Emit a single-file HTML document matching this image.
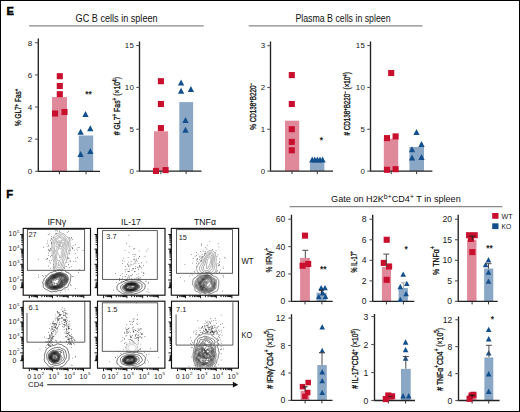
<!DOCTYPE html>
<html><head><meta charset="utf-8"><style>
html,body{margin:0;padding:0;background:#fff;font-family:"Liberation Sans",sans-serif;}
svg text{font-family:"Liberation Sans",sans-serif;}
svg{display:block;}
</style></head><body>
<svg width="520" height="412" viewBox="0 0 520 412" font-family="Liberation Sans, sans-serif">
<style>.t{paint-order:stroke;stroke:#111;stroke-width:0.22px;}.r{paint-order:stroke;stroke:#111;stroke-width:0.32px;}.b{paint-order:stroke;stroke:#000;stroke-width:0.45px;}</style>
<rect x="0" y="0" width="520" height="412" fill="#fff"/>
<rect x="0.5" y="0.5" width="519" height="411" fill="none" stroke="#000" stroke-width="1"/>
<text class="b" x="6.6" y="14.9" font-size="11.2" text-anchor="start" font-weight="bold" fill="#000" >E</text>
<text x="75.6" y="21.8" font-size="10.1" textLength="82" lengthAdjust="spacingAndGlyphs" fill="#111">GC B cells in spleen</text>
<path d="M29.2 25.9H203.7" stroke="#888" stroke-width="1.2"/>
<text x="295.4" y="21.8" font-size="10.1" textLength="95.2" lengthAdjust="spacingAndGlyphs" fill="#111">Plasma B cells in spleen</text>
<path d="M248.7 25.8H422.5" stroke="#888" stroke-width="1.2"/>
<rect x="52" y="97.10" width="15.00" height="74.20" fill="#e0899b"/>
<rect x="78.8" y="135.50" width="14.40" height="35.80" fill="#8aa8c6"/>
<path d="M38.3 38.5V171.3H100" stroke="#222" stroke-width="1.35" fill="none"/>
<path d="M35.099999999999994 171.30H38.3" stroke="#555" stroke-width="1.1"/>
<text x="32.20" y="174.14" font-size="8.1" text-anchor="end" font-weight="normal" fill="#1a1a1a" >0</text>
<path d="M35.099999999999994 139.16H38.3" stroke="#555" stroke-width="1.1"/>
<text x="32.20" y="142.00" font-size="8.1" text-anchor="end" font-weight="normal" fill="#1a1a1a" >2</text>
<path d="M35.099999999999994 107.02H38.3" stroke="#555" stroke-width="1.1"/>
<text x="32.20" y="109.86" font-size="8.1" text-anchor="end" font-weight="normal" fill="#1a1a1a" >4</text>
<path d="M35.099999999999994 74.88H38.3" stroke="#555" stroke-width="1.1"/>
<text x="32.20" y="77.72" font-size="8.1" text-anchor="end" font-weight="normal" fill="#1a1a1a" >6</text>
<path d="M35.099999999999994 42.74H38.3" stroke="#555" stroke-width="1.1"/>
<text x="32.20" y="45.58" font-size="8.1" text-anchor="end" font-weight="normal" fill="#1a1a1a" >8</text>
<path d="M59.4 171.3V174.3" stroke="#333" stroke-width="1"/>
<path d="M86 171.3V174.3" stroke="#333" stroke-width="1"/>
<rect x="56.75" y="73.15" width="6.1" height="6.1" fill="#c8102e"/>
<rect x="56.75" y="82.95" width="6.1" height="6.1" fill="#c8102e"/>
<rect x="56.75" y="91.15" width="6.1" height="6.1" fill="#c8102e"/>
<rect x="51.95" y="110.45" width="6.1" height="6.1" fill="#c8102e"/>
<rect x="61.45" y="108.95" width="6.1" height="6.1" fill="#c8102e"/>
<path d="M85.50 111.00L88.65 116.98L82.35 116.98Z" fill="#134f8c"/>
<path d="M80.60 128.71L83.75 134.69L77.45 134.69Z" fill="#134f8c"/>
<path d="M90.30 125.30L93.45 131.29L87.15 131.29Z" fill="#134f8c"/>
<path d="M80.60 151.00L83.75 156.98L77.45 156.98Z" fill="#134f8c"/>
<path d="M90.30 147.99L93.45 153.98L87.15 153.98Z" fill="#134f8c"/>
<text class="t" x="88.6" y="97.2" font-size="8.4" text-anchor="middle" font-weight="normal" fill="#111" >**</text>
<text class="r" x="0" y="0" font-size="8.37" text-anchor="middle" textLength="37.4" lengthAdjust="spacingAndGlyphs" transform="translate(20.9,107.4) rotate(-90)" fill="#111">% GL7<tspan font-size="5.69" dy="-3.01">+</tspan><tspan dy="3.01">​</tspan> Fas<tspan font-size="5.69" dy="-3.01">+</tspan><tspan dy="3.01">​</tspan></text>
<rect x="153.9" y="131.30" width="14.20" height="39.80" fill="#e0899b"/>
<rect x="179.3" y="102.10" width="13.80" height="69.00" fill="#8aa8c6"/>
<path d="M139.5 41.6V171.1H201.5" stroke="#222" stroke-width="1.35" fill="none"/>
<path d="M136.3 171.10H139.5" stroke="#555" stroke-width="1.1"/>
<text x="134.10" y="173.86" font-size="7.9" text-anchor="end" font-weight="normal" fill="#1a1a1a" letter-spacing="0.25">0</text>
<path d="M136.3 129.25H139.5" stroke="#555" stroke-width="1.1"/>
<text x="134.10" y="132.01" font-size="7.9" text-anchor="end" font-weight="normal" fill="#1a1a1a" letter-spacing="0.25">5</text>
<path d="M136.3 87.40H139.5" stroke="#555" stroke-width="1.1"/>
<text x="134.10" y="90.17" font-size="7.9" text-anchor="end" font-weight="normal" fill="#1a1a1a" letter-spacing="0.25">10</text>
<path d="M136.3 45.55H139.5" stroke="#555" stroke-width="1.1"/>
<text x="134.10" y="48.32" font-size="7.9" text-anchor="end" font-weight="normal" fill="#1a1a1a" letter-spacing="0.25">15</text>
<path d="M160.9 171.1V174.1" stroke="#333" stroke-width="1"/>
<path d="M186.1 171.1V174.1" stroke="#333" stroke-width="1"/>
<rect x="157.85" y="78.15" width="6.1" height="6.1" fill="#c8102e"/>
<rect x="157.85" y="100.95" width="6.1" height="6.1" fill="#c8102e"/>
<rect x="157.85" y="125.05" width="6.1" height="6.1" fill="#c8102e"/>
<rect x="152.95" y="167.88" width="6.1" height="6.1" fill="#c8102e"/>
<rect x="162.55" y="167.05" width="6.1" height="6.1" fill="#c8102e"/>
<path d="M181.10 79.40L184.25 85.38L177.95 85.38Z" fill="#134f8c"/>
<path d="M181.10 87.80L184.25 93.79L177.95 93.79Z" fill="#134f8c"/>
<path d="M190.90 85.90L194.05 91.89L187.75 91.89Z" fill="#134f8c"/>
<path d="M185.50 117.00L188.65 122.98L182.35 122.98Z" fill="#134f8c"/>
<path d="M185.50 126.70L188.65 132.68L182.35 132.68Z" fill="#134f8c"/>
<text class="r" x="0" y="0" font-size="9.33" text-anchor="middle" textLength="58.4" lengthAdjust="spacingAndGlyphs" transform="translate(120.4,106.1) rotate(-90)" fill="#111"># GL7<tspan font-size="6.34" dy="-3.36">+</tspan><tspan dy="3.36">​</tspan> Fas<tspan font-size="6.34" dy="-3.36">+</tspan><tspan dy="3.36">​</tspan> (×10<tspan font-size="6.34" dy="-3.36">4</tspan><tspan dy="3.36">​</tspan>)</text>
<rect x="285" y="120.69" width="14.20" height="50.41" fill="#e0899b"/>
<rect x="310" y="162.28" width="14.40" height="8.82" fill="#8aa8c6"/>
<path d="M270.5 41.6V171.1H333" stroke="#222" stroke-width="1.35" fill="none"/>
<path d="M267.3 171.10H270.5" stroke="#555" stroke-width="1.1"/>
<text x="265.30" y="173.86" font-size="7.9" text-anchor="end" font-weight="normal" fill="#1a1a1a" letter-spacing="0.25">0</text>
<path d="M267.3 129.30H270.5" stroke="#555" stroke-width="1.1"/>
<text x="265.30" y="132.06" font-size="7.9" text-anchor="end" font-weight="normal" fill="#1a1a1a" letter-spacing="0.25">1</text>
<path d="M267.3 87.50H270.5" stroke="#555" stroke-width="1.1"/>
<text x="265.30" y="90.27" font-size="7.9" text-anchor="end" font-weight="normal" fill="#1a1a1a" letter-spacing="0.25">2</text>
<path d="M267.3 45.70H270.5" stroke="#555" stroke-width="1.1"/>
<text x="265.30" y="48.47" font-size="7.9" text-anchor="end" font-weight="normal" fill="#1a1a1a" letter-spacing="0.25">3</text>
<path d="M292 171.1V174.1" stroke="#333" stroke-width="1"/>
<path d="M317.3 171.1V174.1" stroke="#333" stroke-width="1"/>
<rect x="288.75" y="72.04" width="6.1" height="6.1" fill="#c8102e"/>
<rect x="288.75" y="100.96" width="6.1" height="6.1" fill="#c8102e"/>
<rect x="288.75" y="126.17" width="6.1" height="6.1" fill="#c8102e"/>
<rect x="288.75" y="138.83" width="6.1" height="6.1" fill="#c8102e"/>
<rect x="288.75" y="147.23" width="6.1" height="6.1" fill="#c8102e"/>
<path d="M312.20 156.61L315.30 162.50L309.10 162.50Z" fill="#134f8c"/>
<path d="M314.80 156.61L317.90 162.50L311.70 162.50Z" fill="#134f8c"/>
<path d="M317.40 156.61L320.50 162.50L314.30 162.50Z" fill="#134f8c"/>
<path d="M320.00 156.61L323.10 162.50L316.90 162.50Z" fill="#134f8c"/>
<path d="M322.60 156.61L325.70 162.50L319.50 162.50Z" fill="#134f8c"/>
<text class="t" x="321.4" y="143.2" font-size="8.4" text-anchor="middle" font-weight="normal" fill="#111" >*</text>
<text class="r" x="0" y="0" font-size="8.48" text-anchor="middle" textLength="46.9" lengthAdjust="spacingAndGlyphs" transform="translate(255.6,106.3) rotate(-90)" fill="#111">% CD138<tspan font-size="5.77" dy="-3.05">+</tspan><tspan dy="3.05">​</tspan>B220<tspan font-size="5.77" dy="-3.05">−</tspan><tspan dy="3.05">​</tspan></text>
<rect x="383.8" y="138.70" width="14.40" height="32.40" fill="#e0899b"/>
<rect x="409.4" y="147.00" width="14.60" height="24.10" fill="#8aa8c6"/>
<path d="M370.5 41.6V171.1H432.4" stroke="#222" stroke-width="1.35" fill="none"/>
<path d="M367.3 171.10H370.5" stroke="#555" stroke-width="1.1"/>
<text x="365.10" y="173.86" font-size="7.9" text-anchor="end" font-weight="normal" fill="#1a1a1a" letter-spacing="0.25">0</text>
<path d="M367.3 129.25H370.5" stroke="#555" stroke-width="1.1"/>
<text x="365.10" y="132.01" font-size="7.9" text-anchor="end" font-weight="normal" fill="#1a1a1a" letter-spacing="0.25">5</text>
<path d="M367.3 87.40H370.5" stroke="#555" stroke-width="1.1"/>
<text x="365.10" y="90.17" font-size="7.9" text-anchor="end" font-weight="normal" fill="#1a1a1a" letter-spacing="0.25">10</text>
<path d="M367.3 45.55H370.5" stroke="#555" stroke-width="1.1"/>
<text x="365.10" y="48.32" font-size="7.9" text-anchor="end" font-weight="normal" fill="#1a1a1a" letter-spacing="0.25">15</text>
<path d="M391.2 171.1V174.1" stroke="#333" stroke-width="1"/>
<path d="M416.6 171.1V174.1" stroke="#333" stroke-width="1"/>
<rect x="388.15" y="69.95" width="6.1" height="6.1" fill="#c8102e"/>
<rect x="383.95" y="135.05" width="6.1" height="6.1" fill="#c8102e"/>
<rect x="392.55" y="133.35" width="6.1" height="6.1" fill="#c8102e"/>
<rect x="383.95" y="166.75" width="6.1" height="6.1" fill="#c8102e"/>
<rect x="392.55" y="166.15" width="6.1" height="6.1" fill="#c8102e"/>
<path d="M416.50 128.90L419.65 134.88L413.35 134.88Z" fill="#134f8c"/>
<path d="M421.50 141.00L424.65 146.99L418.35 146.99Z" fill="#134f8c"/>
<path d="M412.00 146.20L415.15 152.18L408.85 152.18Z" fill="#134f8c"/>
<path d="M412.00 154.60L415.15 160.59L408.85 160.59Z" fill="#134f8c"/>
<path d="M421.50 153.90L424.65 159.88L418.35 159.88Z" fill="#134f8c"/>
<text class="r" x="0" y="0" font-size="8.37" text-anchor="middle" textLength="63.4" lengthAdjust="spacingAndGlyphs" transform="translate(349.6,103.9) rotate(-90)" fill="#111"># CD138<tspan font-size="5.69" dy="-3.01">+</tspan><tspan dy="3.01">​</tspan>B220<tspan font-size="5.69" dy="-3.01">−</tspan><tspan dy="3.01">​</tspan> (×10<tspan font-size="5.69" dy="-3.01">4</tspan><tspan dy="3.01">​</tspan>)</text>
<text class="b" x="6.2" y="197.7" font-size="11.2" text-anchor="start" font-weight="bold" fill="#000" >F</text>
<text x="47.4" y="224.7" font-size="9.9" textLength="18.7" lengthAdjust="spacingAndGlyphs" fill="#111">IFN&#947;</text>
<text x="121.1" y="224.7" font-size="9.9" textLength="19.6" lengthAdjust="spacingAndGlyphs" fill="#111">IL-17</text>
<text x="194" y="224.7" font-size="9.9" textLength="21.9" lengthAdjust="spacingAndGlyphs" fill="#111">TNF&#945;</text>
<text x="241.4" y="264" font-size="9" textLength="12.1" lengthAdjust="spacingAndGlyphs" fill="#111">WT</text>
<text x="241.6" y="338.1" font-size="9" textLength="10.7" lengthAdjust="spacingAndGlyphs" fill="#111">KO</text>
<g fill="#333"><circle cx="51.4" cy="255.2" r="0.45"/><circle cx="50.7" cy="250.3" r="0.45"/><circle cx="51.5" cy="236.8" r="0.45"/><circle cx="70.7" cy="261.8" r="0.45"/><circle cx="78.0" cy="247.8" r="0.45"/><circle cx="47.5" cy="258.7" r="0.45"/><circle cx="50.1" cy="249.1" r="0.45"/><circle cx="49.7" cy="251.0" r="0.45"/><circle cx="83.1" cy="250.5" r="0.45"/><circle cx="73.1" cy="245.4" r="0.45"/><circle cx="68.8" cy="257.9" r="0.45"/><circle cx="71.5" cy="246.9" r="0.45"/><circle cx="64.1" cy="267.6" r="0.45"/><circle cx="66.8" cy="262.6" r="0.45"/><circle cx="72.4" cy="247.4" r="0.45"/><circle cx="77.0" cy="270.5" r="0.45"/><circle cx="67.8" cy="258.8" r="0.45"/><circle cx="47.5" cy="241.0" r="0.45"/><circle cx="70.8" cy="240.0" r="0.45"/><circle cx="77.4" cy="257.8" r="0.45"/><circle cx="65.0" cy="266.7" r="0.45"/><circle cx="47.2" cy="243.2" r="0.45"/><circle cx="50.5" cy="268.6" r="0.45"/><circle cx="70.2" cy="249.0" r="0.45"/><circle cx="75.3" cy="253.7" r="0.45"/><circle cx="69.9" cy="253.1" r="0.45"/><circle cx="48.7" cy="253.0" r="0.45"/><circle cx="67.8" cy="257.3" r="0.45"/><circle cx="53.6" cy="264.4" r="0.45"/><circle cx="71.5" cy="238.0" r="0.45"/><circle cx="49.3" cy="260.7" r="0.45"/><circle cx="51.7" cy="243.5" r="0.45"/><circle cx="68.8" cy="258.6" r="0.45"/><circle cx="74.4" cy="250.1" r="0.45"/><circle cx="47.6" cy="258.7" r="0.45"/><circle cx="70.1" cy="260.2" r="0.45"/><circle cx="69.3" cy="253.8" r="0.45"/><circle cx="48.2" cy="234.7" r="0.45"/><circle cx="46.2" cy="259.3" r="0.45"/><circle cx="67.1" cy="232.7" r="0.45"/><circle cx="54.7" cy="270.3" r="0.45"/><circle cx="51.2" cy="238.8" r="0.45"/><circle cx="50.3" cy="263.1" r="0.45"/><circle cx="49.2" cy="233.9" r="0.45"/><circle cx="69.1" cy="237.5" r="0.45"/><circle cx="57.7" cy="231.0" r="0.45"/><circle cx="53.0" cy="237.4" r="0.45"/><circle cx="79.1" cy="247.3" r="0.45"/><circle cx="48.0" cy="246.5" r="0.45"/><circle cx="48.6" cy="245.2" r="0.45"/><circle cx="53.7" cy="267.7" r="0.45"/><circle cx="48.8" cy="249.2" r="0.45"/><circle cx="68.5" cy="231.5" r="0.45"/><circle cx="49.8" cy="262.6" r="0.45"/><circle cx="75.3" cy="244.3" r="0.45"/><circle cx="69.0" cy="261.9" r="0.45"/><circle cx="59.3" cy="231.0" r="0.45"/><circle cx="65.0" cy="289.6" r="0.45"/><circle cx="51.3" cy="260.6" r="0.45"/><circle cx="48.2" cy="250.3" r="0.45"/><circle cx="49.4" cy="250.7" r="0.45"/><circle cx="75.9" cy="261.3" r="0.45"/><circle cx="48.4" cy="255.4" r="0.45"/><circle cx="55.9" cy="230.8" r="0.45"/><circle cx="69.9" cy="238.7" r="0.45"/><circle cx="56.1" cy="230.0" r="0.45"/><circle cx="72.6" cy="248.8" r="0.45"/><circle cx="59.6" cy="231.9" r="0.45"/><circle cx="71.5" cy="237.3" r="0.45"/><circle cx="55.9" cy="233.3" r="0.45"/><circle cx="70.0" cy="251.0" r="0.45"/><circle cx="56.4" cy="233.2" r="0.45"/><circle cx="51.4" cy="239.0" r="0.45"/><circle cx="70.0" cy="250.5" r="0.45"/><circle cx="50.3" cy="240.3" r="0.45"/><circle cx="75.5" cy="258.1" r="0.45"/><circle cx="50.7" cy="248.5" r="0.45"/><circle cx="66.5" cy="266.4" r="0.45"/><circle cx="48.5" cy="266.0" r="0.45"/><circle cx="76.8" cy="249.1" r="0.45"/><circle cx="73.6" cy="261.6" r="0.45"/><circle cx="43.7" cy="247.2" r="0.45"/><circle cx="72.8" cy="248.3" r="0.45"/><circle cx="50.3" cy="256.7" r="0.45"/><circle cx="77.3" cy="250.6" r="0.45"/><circle cx="71.2" cy="266.2" r="0.45"/><circle cx="51.7" cy="242.5" r="0.45"/><circle cx="72.4" cy="239.6" r="0.45"/><circle cx="71.1" cy="285.2" r="0.45"/><circle cx="42.2" cy="275.5" r="0.45"/><circle cx="38.2" cy="259.2" r="0.45"/><circle cx="75.4" cy="288.3" r="0.45"/><circle cx="45.3" cy="275.4" r="0.45"/><circle cx="53.4" cy="269.0" r="0.45"/><circle cx="79.7" cy="269.7" r="0.45"/><circle cx="78.4" cy="272.2" r="0.45"/><circle cx="65.3" cy="291.1" r="0.45"/><circle cx="43.3" cy="276.2" r="0.45"/><circle cx="72.6" cy="276.6" r="0.45"/><circle cx="38.5" cy="274.9" r="0.45"/><circle cx="70.4" cy="284.8" r="0.45"/><circle cx="68.3" cy="289.4" r="0.45"/><circle cx="60.5" cy="292.4" r="0.45"/><circle cx="38.5" cy="277.2" r="0.45"/><circle cx="73.1" cy="276.6" r="0.45"/><circle cx="53.9" cy="266.7" r="0.45"/><circle cx="64.5" cy="268.5" r="0.45"/><circle cx="69.1" cy="267.5" r="0.45"/><circle cx="68.6" cy="264.5" r="0.45"/></g>
<path d="M59.5 272.8L58.8 272.9L58.0 272.9L57.4 272.8L56.8 272.5L56.2 272.2L55.8 271.8L55.5 271.3L55.2 270.8L55.1 270.2L54.9 269.5L54.7 268.8L54.5 268.0L54.4 267.2L54.1 266.5L53.9 265.8L53.8 265.0L53.8 264.2L53.8 263.5L53.8 262.8L53.7 262.0L53.5 261.2L53.4 260.5L53.2 259.8L53.2 259.0L53.0 258.2L52.9 257.5L52.8 256.8L52.6 256.0L52.4 255.2L52.2 254.5L52.1 253.8L52.1 253.0L52.2 252.2L52.1 251.5L51.9 250.8L51.7 250.0L51.6 249.2L51.6 248.5L51.7 247.8L51.7 247.0L51.8 246.2L51.7 245.5L51.6 244.8L51.6 244.0L51.6 243.2L51.9 242.5L52.1 241.8L52.2 241.0L52.4 240.2L52.6 239.5L53.0 239.0L53.3 238.5L53.6 238.0L53.7 237.2L53.9 236.5L54.1 236.0L54.4 235.5L54.8 235.1L55.2 234.6L55.7 234.2L56.2 233.9L57.0 233.8L57.8 233.6L58.5 233.3L59.0 233.1L59.8 232.9L60.5 232.8L61.2 233.0L61.8 233.1L62.5 233.3L63.2 233.4L64.0 233.8L64.5 234.2L65.0 234.8L65.2 235.2L65.7 235.8L66.2 236.2L66.8 236.5L67.2 236.8L67.7 237.2L68.2 237.8L68.5 238.2L68.8 238.8L69.1 239.5L69.2 240.1L69.5 240.8L69.7 241.5L69.9 242.2L70.0 243.0L70.0 243.8L70.0 244.5L70.1 245.2L70.0 246.0L69.9 246.8L69.8 247.3L69.5 248.0L69.3 248.8L69.1 249.5L68.8 250.2L68.6 251.0L68.3 251.8L68.1 252.5L68.0 253.2L67.9 254.0L67.8 254.8L67.7 255.5L67.5 256.1L67.3 256.8L67.2 257.5L67.1 258.2L67.0 259.0L66.8 259.8L66.5 260.5L66.3 261.2L66.0 262.0L65.8 262.5L65.5 263.0L65.1 263.5L64.8 264.0L64.6 264.5L64.4 265.0L64.1 265.8L63.9 266.5L63.7 267.2L63.3 268.0L63.1 268.5L62.8 269.0L62.4 269.5L62.2 270.0L61.9 270.5L61.7 271.0L61.4 271.5L61.0 272.0L60.5 272.4L60.0 272.7ZM59.5 269.8L58.8 269.9L58.0 269.8L57.2 269.6L56.8 269.2L56.3 268.8L56.0 268.3L55.8 267.8L55.6 267.0L55.5 266.4L55.4 265.8L55.2 265.2L55.2 264.5L55.1 263.8L55.2 263.0L55.1 262.2L54.9 261.5L54.8 260.8L54.7 260.0L54.5 259.2L54.3 258.5L54.2 257.8L54.2 257.0L54.2 256.2L54.1 255.5L53.9 254.8L53.8 254.1L53.6 253.5L53.5 252.8L53.5 252.0L53.4 251.2L53.3 250.5L53.2 249.8L53.0 249.0L53.0 248.2L53.0 247.5L53.1 246.8L53.2 246.0L53.2 245.2L53.0 244.5L53.0 243.8L53.2 243.0L53.5 242.2L53.7 241.5L53.9 240.8L54.2 240.0L54.5 239.5L54.8 239.0L55.0 238.3L55.2 237.8L55.5 237.2L55.8 236.8L56.2 236.2L56.7 235.8L57.2 235.5L58.0 235.4L58.8 235.1L59.5 234.8L60.2 234.7L61.0 234.7L61.8 234.7L62.5 234.8L63.2 235.0L63.8 235.4L64.1 235.8L64.5 236.2L64.9 236.8L65.2 237.1L65.6 237.5L66.0 237.9L66.5 238.5L66.7 239.0L67.0 239.5L67.4 240.0L67.7 240.5L68.0 241.0L68.2 241.5L68.4 242.0L68.6 242.8L68.7 243.5L68.7 244.2L68.6 245.0L68.5 245.8L68.4 246.5L68.1 247.2L67.8 247.8L67.5 248.2L67.1 248.8L66.9 249.2L66.6 250.0L66.5 250.6L66.4 251.2L66.4 252.0L66.3 252.8L66.3 253.5L66.2 254.2L66.0 254.8L65.8 255.2L65.6 256.0L65.4 256.8L65.4 257.5L65.3 258.2L65.1 259.0L64.8 259.5L64.2 259.9L63.8 260.5L63.6 261.2L63.6 262.0L63.5 262.7L63.3 263.5L63.1 264.2L62.8 265.0L62.6 265.8L62.4 266.5L62.1 267.2L61.8 267.7L61.2 268.2L60.8 268.5L60.3 269.0L60.0 269.4L59.6 269.8ZM59.0 267.8L58.2 267.9L57.7 267.8L57.2 267.4L57.0 266.8L56.9 266.0L56.8 265.2L56.5 264.5L56.5 263.8L56.6 263.0L56.5 262.2L56.2 261.5L56.0 261.0L55.8 260.2L55.8 259.6L55.6 259.0L55.5 258.4L55.4 257.8L55.4 257.0L55.5 256.2L55.5 255.5L55.3 254.8L55.1 254.0L54.9 253.2L54.7 252.5L54.6 251.8L54.5 251.0L54.6 250.2L54.6 249.5L54.5 248.8L54.4 248.0L54.5 247.3L54.7 246.8L54.9 246.2L55.0 245.5L54.8 244.9L54.5 244.3L54.4 243.5L54.6 242.8L54.9 242.0L55.1 241.5L55.3 240.8L55.5 240.0L55.7 239.5L55.9 239.0L56.1 238.5L56.5 238.1L56.9 237.8L57.5 237.4L58.0 237.0L58.5 236.7L59.0 236.4L59.5 236.2L60.2 236.1L60.8 236.2L61.3 236.5L61.8 236.9L62.2 237.2L63.0 237.3L63.8 237.4L64.2 237.7L64.8 238.2L65.1 238.8L65.3 239.2L65.6 239.8L65.9 240.2L66.2 240.7L66.7 241.2L67.1 241.8L67.3 242.2L67.4 243.0L67.5 243.8L67.4 244.5L67.2 245.2L66.9 246.0L66.8 246.5L66.5 247.2L66.2 247.7L66.0 248.2L65.8 248.8L65.6 249.2L65.3 250.0L65.1 250.8L64.9 251.5L64.8 252.1L64.6 252.8L64.6 253.5L64.4 254.2L64.3 255.0L64.2 255.8L64.0 256.5L63.8 257.2L63.5 258.0L63.3 258.5L63.0 259.0L62.7 259.5L62.4 260.0L62.3 260.8L62.3 261.5L62.3 262.2L62.1 263.0L61.9 263.5L61.6 264.0L61.4 264.8L61.3 265.5L61.2 266.2L60.9 266.8L60.5 267.1L60.0 267.4L59.5 267.6ZM58.2 260.8L57.5 260.7L57.1 260.2L56.9 259.5L56.7 258.8L56.5 258.1L56.4 257.2L56.5 256.6L56.7 256.0L56.9 255.2L56.9 254.5L56.6 253.8L56.4 253.2L56.2 252.8L56.0 252.2L55.8 251.5L55.8 250.8L56.0 250.0L56.2 249.5L56.5 249.0L56.8 248.5L56.8 247.8L56.7 247.0L56.9 246.2L57.1 245.5L57.0 244.8L56.7 244.2L56.2 243.8L56.0 243.2L56.0 242.6L56.2 242.0L56.5 241.5L56.7 240.8L56.8 240.0L57.2 239.2L57.8 238.8L58.2 238.4L58.7 238.0L59.2 237.5L59.7 237.2L60.5 237.4L60.9 238.0L61.2 238.8L61.8 239.0L62.5 238.9L63.2 238.8L63.9 239.0L64.4 239.5L64.7 240.0L65.0 240.5L65.4 241.0L65.7 241.5L65.9 242.0L66.0 242.8L66.0 243.5L66.1 244.2L66.1 245.0L65.9 245.8L65.6 246.2L65.3 246.8L65.0 247.5L64.8 248.2L64.3 248.8L63.8 249.2L63.5 249.7L63.3 250.2L63.2 251.0L63.1 251.8L63.1 252.5L63.1 253.2L63.0 254.0L63.0 254.8L62.9 255.5L62.7 256.2L62.4 256.8L62.1 257.2L61.9 257.8L61.6 258.5L61.4 259.0L61.0 259.5L60.5 260.0L60.0 260.4L59.2 260.6L58.5 260.7ZM59.0 266.1L58.6 265.8L58.3 265.0L58.2 264.2L58.2 263.5L58.3 262.8L58.7 262.2L59.2 261.8L60.0 261.6L60.5 261.9L60.7 262.5L60.5 263.1L60.2 263.6L60.0 264.1L59.8 264.7L59.6 265.5L59.2 266.0ZM60.0 258.1L59.6 257.8L59.7 257.0L59.8 256.2L59.8 255.6L59.2 255.1L58.8 254.8L58.4 254.2L58.1 253.8L57.9 253.2L57.6 252.8L57.4 252.2L57.1 251.8L57.0 251.0L57.2 250.5L57.8 250.1L58.2 249.8L58.5 249.2L58.4 248.5L58.2 247.8L58.2 247.0L58.3 246.2L58.6 245.5L58.5 244.8L58.3 244.2L57.9 243.8L57.5 243.2L57.3 242.5L57.5 241.8L57.8 241.2L58.2 240.9L59.0 240.8L59.6 241.0L60.5 241.0L61.2 240.8L61.8 240.5L62.2 240.2L63.0 239.9L63.8 240.2L64.2 240.8L64.5 241.2L64.7 241.8L64.8 242.5L64.8 243.2L64.9 244.0L65.0 244.8L64.8 245.5L64.3 246.0L63.9 246.5L63.7 247.0L63.5 247.6L63.2 248.0L63.0 248.5L62.7 249.0L62.4 249.5L62.1 250.2L62.0 251.0L61.8 251.8L61.8 252.5L61.9 253.2L61.9 254.0L61.9 254.8L61.8 255.4L61.5 256.0L61.2 256.4L60.8 257.0L60.4 257.5L60.1 258.0ZM61.2 248.8L60.8 249.0L60.1 248.8L59.8 248.4L59.5 247.8L59.4 247.2L59.4 246.5L59.5 245.8L59.5 245.0L59.4 244.2L59.1 243.8L58.8 243.3L58.5 242.8L58.7 242.2L59.5 242.2L60.2 242.1L61.0 241.9L61.8 242.0L62.5 242.2L63.1 242.2L63.6 242.8L63.8 243.3L63.8 244.2L63.5 245.0L63.2 245.5L62.9 246.0L62.6 246.5L62.4 247.0L62.1 247.5L61.9 248.0L61.6 248.5ZM61.2 246.8L60.5 246.6L60.3 246.0L60.2 245.2L60.2 244.5L60.1 243.8L60.2 243.0L60.8 242.8L61.5 243.0L62.0 243.4L62.4 244.0L62.4 244.8L62.2 245.4L62.0 245.9L61.5 246.5Z" fill="none" stroke="#666" stroke-width="0.5"/>
<path d="M55.2 291.8L54.5 291.7L53.8 291.6L53.0 291.6L52.4 291.8L51.8 291.8L51.0 291.8L50.2 291.7L49.8 291.4L49.2 291.1L48.8 290.8L48.2 290.4L47.8 290.1L47.2 289.9L46.8 289.7L46.2 289.5L45.8 289.2L45.2 288.9L44.8 288.6L44.2 288.3L43.8 287.8L43.4 287.2L43.2 286.5L43.2 285.8L43.3 285.0L43.3 284.2L43.0 283.5L42.8 283.0L42.7 282.2L43.1 281.8L43.5 281.3L43.8 280.8L43.9 280.0L44.0 279.2L44.2 278.6L44.7 278.0L45.2 277.6L45.7 277.2L46.1 276.8L46.4 276.2L46.8 275.8L47.1 275.2L47.5 274.9L48.0 274.5L48.5 274.1L49.0 273.8L49.5 273.3L50.0 272.9L50.5 272.6L51.2 272.5L52.0 272.3L52.8 272.0L53.2 271.8L53.8 271.6L54.2 271.3L55.0 271.1L55.8 270.9L56.5 270.6L57.2 270.4L57.9 270.2L58.5 270.1L59.2 270.1L60.0 270.1L60.8 270.0L61.5 270.0L62.2 270.0L63.0 270.2L63.8 270.4L64.5 270.5L65.0 270.8L65.5 271.2L65.9 271.8L66.5 272.1L67.2 272.3L67.9 272.5L68.4 272.8L69.0 273.2L69.5 273.7L70.0 274.2L70.5 274.8L70.7 275.2L70.9 276.0L70.9 276.8L70.8 277.4L70.5 277.9L70.3 278.5L70.3 279.2L70.3 280.0L70.4 280.8L70.2 281.3L70.0 281.9L69.8 282.4L69.5 283.0L69.2 283.6L68.8 284.2L68.5 284.7L68.3 285.5L68.0 286.2L67.6 286.8L67.2 287.1L66.8 287.5L66.0 287.7L65.3 287.8L64.5 287.9L64.0 288.2L63.5 288.7L63.1 289.2L62.5 289.8L62.0 290.1L61.5 290.3L60.8 290.5L60.0 290.5L59.2 290.4L58.5 290.6L58.0 290.8L57.5 291.0L57.0 291.2L56.2 291.5L55.5 291.7ZM56.2 289.8L55.5 289.9L54.8 289.9L54.0 289.8L53.2 289.7L52.5 289.7L51.8 289.7L51.0 289.5L50.2 289.3L49.8 289.0L49.2 288.8L48.8 288.6L48.2 288.4L47.8 288.1L47.2 287.8L46.8 287.5L46.4 287.0L46.0 286.5L45.8 286.0L45.5 285.5L45.3 284.8L45.1 284.0L45.1 283.2L45.2 282.5L45.5 281.8L45.8 281.1L46.0 280.5L46.2 280.0L46.5 279.5L46.8 279.1L47.2 278.5L47.7 278.0L48.2 277.5L48.7 277.0L49.2 276.5L49.8 276.0L50.2 275.6L50.7 275.2L51.2 274.9L51.8 274.7L52.3 274.5L53.0 274.3L53.8 274.1L54.5 273.8L55.0 273.6L55.8 273.3L56.5 273.1L57.2 272.9L57.9 272.8L58.8 272.6L59.5 272.5L60.2 272.6L61.0 272.7L61.7 272.8L62.5 272.9L63.2 273.2L63.8 273.4L64.2 273.7L64.8 273.9L65.5 274.1L66.2 274.4L66.8 274.7L67.2 275.2L67.6 275.8L67.8 276.5L68.1 277.2L68.3 278.0L68.4 278.8L68.4 279.5L68.2 280.2L68.0 281.0L67.8 281.7L67.5 282.2L67.2 282.8L66.9 283.2L66.5 283.7L66.2 284.2L65.8 284.8L65.4 285.2L65.0 285.6L64.5 286.0L64.0 286.4L63.5 286.7L63.0 287.0L62.5 287.4L62.0 287.7L61.5 287.9L61.0 288.2L60.2 288.4L59.5 288.6L58.9 288.8L58.3 289.0L57.8 289.2L57.2 289.5L56.5 289.7ZM56.8 289.0L56.0 289.2L55.2 289.2L54.5 289.2L53.8 289.1L53.0 289.1L52.2 289.1L51.6 289.0L51.0 288.8L50.2 288.5L49.8 288.3L49.2 288.1L48.8 287.8L48.2 287.6L47.8 287.2L47.2 286.8L46.8 286.2L46.5 285.8L46.3 285.2L46.0 284.5L45.9 283.8L45.9 283.0L46.0 282.4L46.2 281.8L46.4 281.2L46.7 280.8L46.9 280.2L47.1 279.8L47.5 279.2L47.9 278.8L48.2 278.4L48.7 278.0L49.2 277.5L49.7 277.0L50.2 276.5L50.8 276.0L51.2 275.7L51.8 275.4L52.2 275.2L52.8 275.0L53.5 274.8L54.2 274.5L55.0 274.3L55.5 274.1L56.2 273.8L57.0 273.6L57.8 273.5L58.5 273.3L59.2 273.3L60.0 273.3L60.8 273.3L61.5 273.4L62.2 273.6L62.8 273.8L63.4 274.0L63.9 274.2L64.5 274.5L65.0 274.7L65.5 275.0L65.9 275.2L66.5 275.8L66.8 276.2L67.0 276.8L67.2 277.2L67.5 278.0L67.6 278.8L67.6 279.5L67.4 280.2L67.2 281.0L67.1 281.5L66.9 282.0L66.6 282.5L66.2 283.0L65.9 283.5L65.5 284.0L65.1 284.5L64.6 285.0L64.0 285.5L63.5 286.0L63.0 286.3L62.5 286.6L62.0 286.9L61.5 287.2L61.0 287.4L60.2 287.7L59.5 287.9L58.8 288.2L58.2 288.4L57.8 288.7L57.0 288.9ZM55.2 288.8L54.5 288.7L53.8 288.7L53.0 288.7L52.2 288.6L51.5 288.4L51.0 288.2L50.3 288.0L49.8 287.8L49.2 287.5L48.8 287.3L48.2 286.9L47.8 286.5L47.4 286.0L47.1 285.5L46.8 285.0L46.6 284.2L46.4 283.5L46.5 282.8L46.7 282.0L46.9 281.5L47.1 281.0L47.3 280.5L47.6 280.0L47.9 279.5L48.2 279.1L48.8 278.6L49.2 278.1L49.6 277.8L50.0 277.4L50.4 277.0L50.8 276.6L51.2 276.2L51.8 275.9L52.2 275.7L53.0 275.4L53.8 275.2L54.3 275.0L54.9 274.8L55.5 274.5L56.2 274.2L56.8 274.1L57.5 273.9L58.2 273.8L59.0 273.8L59.8 273.7L60.5 273.8L61.2 273.9L62.0 274.0L62.6 274.2L63.2 274.5L63.8 274.7L64.2 274.9L64.8 275.2L65.2 275.5L65.8 275.9L66.2 276.5L66.4 277.0L66.6 277.5L66.9 278.2L67.0 279.0L67.0 279.8L66.8 280.5L66.6 281.2L66.3 282.0L66.0 282.5L65.6 283.0L65.2 283.5L64.8 284.0L64.3 284.5L63.8 285.0L63.3 285.5L62.8 285.9L62.3 286.2L61.8 286.6L61.2 286.8L60.8 287.0L60.1 287.2L59.5 287.5L59.0 287.7L58.5 287.9L58.0 288.1L57.5 288.3L56.9 288.5L56.2 288.7L55.5 288.7ZM56.2 288.3L55.5 288.4L54.8 288.3L54.0 288.3L53.2 288.3L52.5 288.2L51.8 288.0L51.0 287.8L50.3 287.5L49.8 287.3L49.2 287.0L48.8 286.7L48.3 286.2L47.8 285.8L47.5 285.2L47.3 284.8L47.1 284.0L47.0 283.2L47.0 282.5L47.2 281.9L47.5 281.3L47.7 280.8L47.9 280.2L48.2 279.8L48.6 279.2L49.0 278.9L49.4 278.5L50.0 278.0L50.5 277.5L50.9 277.0L51.5 276.5L52.0 276.2L52.5 276.0L53.2 275.8L54.0 275.5L54.7 275.2L55.2 275.0L55.8 274.8L56.5 274.5L57.2 274.4L58.0 274.3L58.8 274.2L59.5 274.2L60.2 274.2L60.9 274.2L61.8 274.4L62.5 274.7L63.2 274.9L64.0 275.2L64.5 275.5L65.0 275.9L65.4 276.2L65.7 276.8L65.9 277.2L66.1 277.8L66.4 278.5L66.5 279.2L66.4 280.0L66.2 280.7L66.1 281.2L65.9 281.8L65.6 282.2L65.2 282.7L64.8 283.2L64.5 283.6L64.2 284.0L63.8 284.4L63.2 284.9L62.8 285.4L62.3 285.8L61.8 286.1L61.2 286.4L60.8 286.6L60.0 286.9L59.2 287.2L58.8 287.4L58.2 287.6L57.8 287.8L57.0 288.1L56.4 288.2ZM55.5 288.0L54.8 288.0L54.0 287.9L53.2 287.9L52.5 287.8L51.8 287.6L51.0 287.3L50.2 287.0L49.8 286.8L49.3 286.5L48.8 286.0L48.3 285.5L48.0 285.1L47.8 284.5L47.5 283.8L47.5 283.0L47.6 282.2L47.9 281.5L48.2 280.8L48.4 280.2L48.7 279.8L49.2 279.2L49.7 278.8L50.2 278.3L50.8 277.8L51.2 277.2L51.8 276.8L52.2 276.5L52.8 276.3L53.5 276.0L54.2 275.8L55.0 275.5L55.5 275.3L56.0 275.1L56.8 274.8L57.5 274.7L58.2 274.6L59.0 274.6L59.8 274.6L60.5 274.6L61.2 274.7L62.0 275.0L62.8 275.2L63.5 275.5L64.0 275.7L64.5 276.0L65.0 276.5L65.2 276.9L65.5 277.5L65.8 278.2L65.9 279.0L65.9 279.8L65.8 280.5L65.6 281.2L65.3 281.8L65.0 282.2L64.6 282.8L64.2 283.2L63.8 283.7L63.3 284.2L62.8 284.8L62.3 285.2L61.8 285.6L61.2 285.9L60.8 286.2L60.2 286.4L59.5 286.7L59.0 286.9L58.5 287.1L58.0 287.4L57.5 287.6L57.0 287.8L56.2 287.9L55.6 288.0ZM56.5 287.5L55.8 287.7L55.0 287.7L54.2 287.6L53.5 287.6L52.8 287.5L52.0 287.2L51.4 287.0L50.8 286.8L50.2 286.5L49.8 286.2L49.2 285.8L48.8 285.3L48.4 284.8L48.2 284.2L48.1 283.5L48.1 282.8L48.3 282.0L48.5 281.5L48.7 280.8L49.0 280.1L49.5 279.5L50.0 279.0L50.5 278.6L50.9 278.2L51.2 277.8L51.8 277.3L52.2 276.9L52.8 276.7L53.5 276.4L54.2 276.2L55.0 275.9L55.5 275.7L56.0 275.5L56.6 275.2L57.2 275.1L58.0 275.0L58.8 275.1L59.5 275.1L60.2 275.0L61.0 275.1L61.8 275.4L62.5 275.6L63.2 275.8L63.8 276.0L64.2 276.4L64.7 277.0L65.0 277.5L65.2 278.2L65.4 279.0L65.4 279.8L65.3 280.5L65.0 281.2L64.8 281.7L64.4 282.2L64.0 282.8L63.6 283.2L63.2 283.6L62.8 284.2L62.2 284.7L61.8 285.2L61.2 285.5L60.8 285.7L60.2 286.0L59.8 286.2L59.2 286.4L58.8 286.7L58.2 286.9L57.8 287.1L57.0 287.4ZM56.2 287.3L55.5 287.4L54.8 287.4L54.0 287.3L53.2 287.2L52.5 287.1L51.8 286.8L51.2 286.5L50.8 286.3L50.3 286.0L49.8 285.6L49.2 285.0L48.9 284.5L48.7 283.8L48.7 283.0L48.9 282.2L49.1 281.5L49.2 280.8L49.5 280.1L50.0 279.5L50.5 279.1L50.9 278.8L51.4 278.2L51.8 277.8L52.2 277.3L52.7 277.0L53.2 276.8L54.0 276.6L54.8 276.3L55.5 276.1L56.2 275.8L57.0 275.5L57.8 275.4L58.5 275.5L59.2 275.5L60.0 275.5L60.7 275.5L61.5 275.7L62.2 276.0L63.0 276.2L63.5 276.4L64.0 276.8L64.3 277.2L64.5 277.8L64.8 278.5L64.9 279.2L64.8 280.0L64.7 280.8L64.5 281.2L64.2 281.8L63.8 282.2L63.5 282.7L63.0 283.2L62.6 283.8L62.2 284.2L61.8 284.7L61.3 285.0L60.8 285.3L60.2 285.6L59.8 285.9L59.2 286.1L58.8 286.3L58.2 286.6L57.8 286.8L57.2 287.0L56.5 287.2ZM56.0 287.0L55.2 287.1L54.5 287.1L53.8 287.0L53.0 286.9L52.2 286.6L51.8 286.3L51.2 286.0L50.8 285.7L50.3 285.2L49.8 284.8L49.5 284.2L49.4 283.5L49.5 282.8L49.7 282.2L49.8 281.5L49.8 280.8L50.0 280.2L50.4 279.8L50.8 279.4L51.2 279.0L51.6 278.5L52.0 278.0L52.5 277.5L53.0 277.2L53.8 276.9L54.4 276.8L55.0 276.6L55.8 276.4L56.5 276.1L57.2 275.9L58.0 275.9L58.7 276.0L59.5 276.0L60.2 275.9L61.0 276.0L61.7 276.2L62.2 276.5L63.0 276.7L63.5 277.1L63.9 277.8L64.1 278.2L64.3 279.0L64.4 279.8L64.2 280.5L64.1 281.0L63.8 281.5L63.4 282.0L63.0 282.5L62.8 283.0L62.4 283.5L62.0 284.0L61.5 284.4L61.0 284.7L60.5 285.0L60.0 285.4L59.5 285.7L59.0 285.9L58.5 286.2L58.0 286.4L57.2 286.7L56.5 286.9ZM55.5 286.8L54.8 286.8L54.0 286.8L53.2 286.6L52.5 286.4L52.0 286.0L51.5 285.6L51.2 285.2L50.8 284.8L50.5 284.3L50.3 283.8L50.2 283.0L50.3 282.2L50.4 281.5L50.5 280.8L50.8 280.1L51.2 279.6L51.7 279.0L52.1 278.5L52.4 278.0L53.0 277.5L53.5 277.3L54.2 277.1L55.0 276.9L55.8 276.8L56.5 276.6L57.2 276.5L58.0 276.5L58.8 276.5L59.5 276.6L60.2 276.5L61.0 276.5L61.5 276.7L62.0 277.0L62.5 277.2L63.0 277.8L63.2 278.2L63.6 278.8L63.8 279.5L63.8 280.2L63.5 280.9L63.1 281.5L62.8 282.0L62.5 282.5L62.3 283.0L61.9 283.5L61.5 283.9L61.0 284.2L60.5 284.6L60.0 284.9L59.6 285.2L59.0 285.6L58.5 285.9L58.0 286.1L57.2 286.3L56.7 286.5L56.0 286.7ZM54.8 286.5L54.0 286.5L53.2 286.3L52.8 286.1L52.3 285.8L52.0 285.4L51.8 284.9L51.5 284.4L51.1 283.8L50.9 283.0L50.9 282.2L51.0 281.5L51.1 280.8L51.4 280.2L51.7 279.8L52.1 279.2L52.4 278.8L52.7 278.2L53.2 277.8L53.8 277.5L54.5 277.4L55.2 277.2L56.0 277.1L56.8 277.0L57.5 277.1L58.2 277.1L59.0 277.2L59.8 277.2L60.5 277.2L61.2 277.3L61.8 277.7L62.2 278.2L62.7 278.8L63.0 279.2L63.2 280.0L63.0 280.6L62.8 281.1L62.4 281.8L62.1 282.2L61.8 283.0L61.5 283.4L61.1 283.8L60.5 284.1L60.0 284.4L59.5 284.9L59.0 285.2L58.5 285.5L58.0 285.8L57.2 285.9L56.5 286.2L55.8 286.4L55.0 286.5ZM55.5 286.1L54.8 286.1L54.0 286.1L53.2 285.8L52.9 285.5L52.7 284.8L52.6 284.0L52.0 283.7L51.6 283.2L51.4 282.8L51.3 282.0L51.5 281.2L51.7 280.8L52.1 280.2L52.5 279.8L52.8 279.0L53.0 278.5L53.5 278.0L54.0 277.8L54.8 277.6L55.5 277.5L56.2 277.5L57.0 277.6L57.8 277.8L58.5 277.9L59.2 278.0L60.0 278.2L60.8 278.1L61.5 278.4L61.9 278.8L62.2 279.2L62.5 279.8L62.4 280.5L62.2 281.0L62.0 281.5L61.8 282.0L61.5 282.7L61.1 283.2L60.5 283.6L60.0 283.9L59.5 284.2L59.1 284.8L58.5 285.2L57.8 285.4L57.0 285.6L56.4 285.8L55.8 286.0ZM55.2 285.6L54.5 285.6L54.0 285.3L54.2 284.6L54.6 284.0L54.9 283.5L54.8 282.9L54.0 282.9L53.3 283.0L52.5 283.0L52.0 282.8L51.8 282.2L51.9 281.5L52.2 281.1L52.8 280.8L53.5 280.8L53.8 280.2L53.5 279.8L53.4 279.0L53.6 278.5L54.2 278.2L55.0 278.0L55.8 277.9L56.5 278.1L57.0 278.4L57.4 278.8L57.8 279.2L58.2 279.7L58.8 279.3L59.2 279.1L60.0 278.9L60.8 278.8L61.3 279.0L61.8 279.4L61.9 280.0L61.8 280.8L61.6 281.2L61.3 282.0L61.0 282.7L60.5 283.1L59.8 283.4L59.2 283.7L58.9 284.2L58.5 284.6L58.0 284.9L57.2 285.0L56.5 285.1L55.8 285.4ZM56.0 280.1L55.2 280.1L54.8 279.9L54.3 279.5L54.2 278.8L54.8 278.5L55.5 278.5L56.2 278.7L56.4 279.2L56.2 279.9ZM60.0 282.8L59.2 282.8L58.5 282.5L58.1 282.0L58.5 281.2L58.9 280.8L59.2 280.2L59.5 279.8L60.0 279.5L60.8 279.4L61.2 279.7L61.4 280.2L61.2 281.0L61.0 281.8L60.8 282.2L60.2 282.7ZM57.8 284.3L57.0 284.3L56.5 284.0L56.8 283.3L57.1 283.0L57.8 282.9L58.2 283.5L58.0 284.1ZM60.0 282.3L59.3 282.0L59.2 281.4L59.5 280.8L59.9 280.2L60.5 280.0L60.9 280.5L60.8 281.2L60.6 281.8L60.2 282.2Z" fill="none" stroke="#111" stroke-width="0.6"/>
<rect x="27.4" y="229.5" width="57.199999999999996" height="40.80000000000001" fill="none" stroke="#4d4d4d" stroke-width="0.9"/>
<text x="28.4" y="236.6" font-size="7.4" text-anchor="start" font-weight="normal" fill="#1a1a1a" >27</text>
<rect x="23.2" y="228.4" width="67.3" height="66.79999999999998" fill="none" stroke="#111" stroke-width="1.15"/>
<path d="M20.2 234.5H23.2M21.3 244.7H23.2M21.3 242.2H23.2M21.3 240.3H23.2M21.3 238.9H23.2M21.3 237.8H23.2M21.3 236.8H23.2M21.3 236.0H23.2M21.3 235.2H23.2M20.2 249.1H23.2M21.3 259.7H23.2M21.3 257.0H23.2M21.3 255.1H23.2M21.3 253.7H23.2M21.3 252.5H23.2M21.3 251.5H23.2M21.3 250.6H23.2M21.3 249.8H23.2M20.2 264.3H23.2M21.3 275.2H23.2M21.3 272.5H23.2M21.3 270.5H23.2M21.3 269.0H23.2M21.3 267.8H23.2M21.3 266.7H23.2M21.3 265.8H23.2M21.3 265.0H23.2M20.2 280.0H23.2M20.2 287.7H23.2M21.3 282.3H23.2M21.3 283.7H23.2M21.3 284.6H23.2M21.3 285.4H23.2M21.3 286.0H23.2M21.3 286.5H23.2M21.3 287.0H23.2M21.3 287.4H23.2M37.3 295.2V298.2M41.9 295.2V297.09999999999997M44.6 295.2V297.09999999999997M46.5 295.2V297.09999999999997M47.9 295.2V297.09999999999997M49.2 295.2V297.09999999999997M50.2 295.2V297.09999999999997M51.1 295.2V297.09999999999997M51.8 295.2V297.09999999999997M52.5 295.2V298.2M57.3 295.2V297.09999999999997M60.0 295.2V297.09999999999997M62.0 295.2V297.09999999999997M63.5 295.2V297.09999999999997M64.7 295.2V297.09999999999997M65.8 295.2V297.09999999999997M66.7 295.2V297.09999999999997M67.5 295.2V297.09999999999997M68.2 295.2V298.2M72.9 295.2V297.09999999999997M75.6 295.2V297.09999999999997M77.6 295.2V297.09999999999997M79.1 295.2V297.09999999999997M80.3 295.2V297.09999999999997M81.4 295.2V297.09999999999997M82.3 295.2V297.09999999999997M83.1 295.2V297.09999999999997M83.8 295.2V298.2M29.3 295.2V298.2M31.7 295.2V297.09999999999997M33.1 295.2V297.09999999999997M34.1 295.2V297.09999999999997M34.9 295.2V297.09999999999997M35.5 295.2V297.09999999999997M36.0 295.2V297.09999999999997M36.5 295.2V297.09999999999997M36.9 295.2V297.09999999999997" stroke="#111" stroke-width="1.0" fill="none"/>
<text x="16.8" y="236.4" font-size="6.9" text-anchor="end" font-weight="normal" fill="#1a1a1a" letter-spacing="0.3">10</text>
<text x="17.1" y="233.0" font-size="4.3" text-anchor="start" font-weight="normal" fill="#1a1a1a" >5</text>
<text x="16.8" y="251.0" font-size="6.9" text-anchor="end" font-weight="normal" fill="#1a1a1a" letter-spacing="0.3">10</text>
<text x="17.1" y="247.6" font-size="4.3" text-anchor="start" font-weight="normal" fill="#1a1a1a" >4</text>
<text x="16.8" y="266.2" font-size="6.9" text-anchor="end" font-weight="normal" fill="#1a1a1a" letter-spacing="0.3">10</text>
<text x="17.1" y="262.8" font-size="4.3" text-anchor="start" font-weight="normal" fill="#1a1a1a" >3</text>
<text x="16.8" y="281.9" font-size="6.9" text-anchor="end" font-weight="normal" fill="#1a1a1a" letter-spacing="0.3">10</text>
<text x="17.1" y="278.5" font-size="4.3" text-anchor="start" font-weight="normal" fill="#1a1a1a" >2</text>
<text x="16.3" y="289.6" font-size="6.9" text-anchor="end" font-weight="normal" fill="#1a1a1a" >0</text>
<g fill="#333"><circle cx="138.1" cy="279.2" r="0.45"/><circle cx="128.1" cy="257.4" r="0.45"/><circle cx="135.8" cy="254.8" r="0.45"/><circle cx="128.2" cy="265.8" r="0.45"/><circle cx="139.3" cy="266.2" r="0.45"/><circle cx="130.9" cy="264.1" r="0.45"/><circle cx="134.3" cy="259.0" r="0.45"/><circle cx="133.2" cy="268.9" r="0.45"/><circle cx="143.6" cy="265.7" r="0.45"/><circle cx="139.4" cy="256.2" r="0.45"/><circle cx="138.7" cy="267.9" r="0.45"/><circle cx="129.8" cy="266.1" r="0.45"/><circle cx="138.9" cy="263.2" r="0.45"/><circle cx="125.1" cy="269.7" r="0.45"/><circle cx="128.9" cy="275.6" r="0.45"/><circle cx="133.7" cy="268.5" r="0.45"/><circle cx="136.2" cy="260.5" r="0.45"/><circle cx="133.8" cy="259.3" r="0.45"/><circle cx="146.5" cy="261.9" r="0.45"/><circle cx="133.3" cy="249.0" r="0.45"/><circle cx="123.8" cy="258.1" r="0.45"/><circle cx="138.3" cy="273.9" r="0.45"/><circle cx="135.0" cy="260.1" r="0.45"/><circle cx="145.0" cy="256.3" r="0.45"/><circle cx="127.8" cy="271.1" r="0.45"/><circle cx="126.9" cy="269.0" r="0.45"/><circle cx="139.4" cy="265.7" r="0.45"/><circle cx="135.8" cy="266.7" r="0.45"/><circle cx="128.9" cy="235.2" r="0.45"/><circle cx="125.4" cy="266.3" r="0.45"/><circle cx="122.7" cy="260.8" r="0.45"/><circle cx="134.6" cy="279.5" r="0.45"/><circle cx="124.5" cy="261.1" r="0.45"/><circle cx="134.7" cy="271.5" r="0.45"/><circle cx="128.0" cy="277.1" r="0.45"/><circle cx="131.9" cy="270.4" r="0.45"/><circle cx="143.9" cy="273.3" r="0.45"/><circle cx="134.1" cy="256.4" r="0.45"/><circle cx="129.0" cy="252.3" r="0.45"/><circle cx="146.2" cy="251.0" r="0.45"/><circle cx="116.7" cy="282.6" r="0.45"/><circle cx="141.4" cy="262.8" r="0.45"/><circle cx="138.6" cy="258.2" r="0.45"/><circle cx="129.5" cy="271.3" r="0.45"/><circle cx="135.8" cy="261.8" r="0.45"/><circle cx="143.7" cy="273.6" r="0.45"/><circle cx="134.1" cy="254.6" r="0.45"/><circle cx="134.1" cy="263.2" r="0.45"/><circle cx="132.7" cy="274.3" r="0.45"/><circle cx="129.5" cy="269.0" r="0.45"/><circle cx="138.4" cy="269.8" r="0.45"/><circle cx="148.0" cy="249.0" r="0.45"/><circle cx="132.8" cy="254.6" r="0.45"/><circle cx="122.6" cy="263.4" r="0.45"/><circle cx="137.4" cy="267.2" r="0.45"/><circle cx="139.1" cy="250.9" r="0.45"/><circle cx="139.5" cy="256.8" r="0.45"/><circle cx="125.3" cy="271.9" r="0.45"/><circle cx="136.3" cy="259.0" r="0.45"/><circle cx="127.9" cy="264.3" r="0.45"/><circle cx="133.1" cy="264.6" r="0.45"/><circle cx="126.6" cy="243.2" r="0.45"/><circle cx="141.6" cy="268.0" r="0.45"/><circle cx="125.1" cy="250.6" r="0.45"/><circle cx="128.7" cy="262.1" r="0.45"/><circle cx="119.4" cy="280.1" r="0.45"/><circle cx="135.9" cy="263.0" r="0.45"/><circle cx="135.4" cy="268.5" r="0.45"/><circle cx="140.0" cy="267.7" r="0.45"/><circle cx="131.1" cy="261.7" r="0.45"/><circle cx="127.4" cy="263.9" r="0.45"/><circle cx="128.4" cy="266.3" r="0.45"/><circle cx="135.1" cy="271.5" r="0.45"/><circle cx="125.6" cy="276.9" r="0.45"/><circle cx="131.1" cy="265.0" r="0.45"/><circle cx="129.8" cy="246.3" r="0.45"/><circle cx="134.7" cy="248.5" r="0.45"/><circle cx="140.2" cy="266.5" r="0.45"/><circle cx="143.2" cy="272.6" r="0.45"/><circle cx="132.3" cy="268.7" r="0.45"/><circle cx="128.7" cy="271.5" r="0.45"/><circle cx="137.4" cy="261.1" r="0.45"/><circle cx="119.6" cy="278.9" r="0.45"/><circle cx="134.9" cy="278.6" r="0.45"/><circle cx="122.4" cy="276.9" r="0.45"/><circle cx="128.7" cy="271.2" r="0.45"/><circle cx="119.6" cy="278.4" r="0.45"/><circle cx="146.2" cy="281.1" r="0.45"/><circle cx="139.3" cy="278.6" r="0.45"/><circle cx="145.8" cy="281.4" r="0.45"/><circle cx="131.6" cy="275.7" r="0.45"/><circle cx="129.7" cy="278.6" r="0.45"/><circle cx="125.0" cy="276.4" r="0.45"/><circle cx="122.1" cy="278.7" r="0.45"/><circle cx="125.8" cy="280.2" r="0.45"/><circle cx="140.2" cy="280.0" r="0.45"/><circle cx="136.9" cy="274.6" r="0.45"/><circle cx="124.6" cy="279.6" r="0.45"/><circle cx="123.2" cy="281.3" r="0.45"/><circle cx="115.4" cy="273.3" r="0.45"/><circle cx="116.7" cy="279.2" r="0.45"/><circle cx="143.1" cy="275.7" r="0.45"/><circle cx="120.4" cy="275.4" r="0.45"/><circle cx="122.2" cy="273.8" r="0.45"/><circle cx="126.7" cy="274.7" r="0.45"/><circle cx="121.6" cy="281.7" r="0.45"/><circle cx="141.5" cy="272.1" r="0.45"/><circle cx="132.0" cy="279.0" r="0.45"/><circle cx="127.1" cy="280.1" r="0.45"/><circle cx="127.5" cy="278.6" r="0.45"/><circle cx="130.5" cy="275.7" r="0.45"/><circle cx="148.5" cy="283.7" r="0.45"/><circle cx="129.3" cy="277.0" r="0.45"/><circle cx="128.1" cy="276.9" r="0.45"/><circle cx="138.6" cy="278.2" r="0.45"/><circle cx="140.4" cy="277.8" r="0.45"/><circle cx="119.5" cy="280.6" r="0.45"/><circle cx="148.0" cy="289.0" r="0.45"/><circle cx="113.7" cy="290.0" r="0.45"/><circle cx="136.3" cy="278.0" r="0.45"/><circle cx="137.6" cy="277.9" r="0.45"/><circle cx="148.6" cy="282.3" r="0.45"/><circle cx="148.9" cy="292.2" r="0.45"/><circle cx="131.7" cy="278.6" r="0.45"/><circle cx="126.5" cy="280.4" r="0.45"/><circle cx="146.9" cy="291.4" r="0.45"/><circle cx="138.8" cy="276.8" r="0.45"/></g>
<path d="M133.3 294.0L132.6 294.1L131.8 294.1L131.1 294.0L130.3 294.0L129.6 293.9L128.8 293.8L128.1 293.8L127.3 293.8L126.5 293.9L125.8 293.9L125.0 293.9L124.3 293.9L123.5 293.8L122.8 293.6L122.3 293.4L121.8 293.1L121.3 292.8L120.8 292.5L120.3 292.1L119.8 291.8L119.3 291.4L118.8 291.1L118.3 290.8L117.8 290.4L117.5 290.0L117.2 289.5L117.0 288.8L116.9 288.0L117.0 287.2L117.0 286.5L117.2 285.8L117.5 285.0L117.9 284.5L118.3 284.2L118.8 283.8L119.3 283.6L119.8 283.4L120.3 283.2L120.8 282.9L121.3 282.7L121.8 282.5L122.3 282.2L122.8 281.9L123.3 281.6L123.8 281.4L124.3 281.2L124.8 280.9L125.3 280.7L125.8 280.5L126.5 280.3L127.3 280.1L128.0 280.0L128.8 279.9L129.6 279.8L130.3 279.8L131.1 279.9L131.8 279.9L132.6 280.0L133.3 279.9L134.1 279.9L134.8 279.9L135.6 280.0L136.3 280.0L137.1 280.2L137.8 280.4L138.6 280.6L139.3 280.7L140.1 280.9L140.8 281.2L141.3 281.5L141.8 281.8L142.3 282.2L142.8 282.5L143.3 282.8L143.8 283.2L144.3 283.7L144.7 284.2L144.9 284.8L145.1 285.5L145.1 286.2L145.1 286.9L144.9 287.5L144.7 288.2L144.5 288.8L144.1 289.2L143.6 289.8L143.1 290.2L142.6 290.6L142.1 290.9L141.6 291.2L141.1 291.5L140.6 291.8L140.1 292.0L139.6 292.2L139.1 292.4L138.6 292.7L138.1 292.9L137.3 293.2L136.6 293.4L135.8 293.6L135.1 293.7L134.3 293.8L133.6 294.0ZM132.1 292.5L131.3 292.6L130.6 292.5L129.8 292.5L129.1 292.3L128.3 292.3L127.5 292.3L126.8 292.4L126.0 292.4L125.3 292.4L124.5 292.2L123.9 292.0L123.3 291.8L122.8 291.5L122.3 291.0L122.0 290.5L121.8 290.0L121.4 289.5L121.1 289.0L120.8 288.5L120.6 287.8L120.6 287.0L120.7 286.2L121.0 285.8L121.5 285.3L122.0 285.0L122.5 284.8L123.0 284.4L123.4 284.0L123.8 283.6L124.3 283.2L124.8 282.9L125.5 282.7L126.3 282.3L126.8 282.1L127.5 281.9L128.3 281.8L129.1 281.7L129.8 281.6L130.6 281.5L131.3 281.4L132.1 281.5L132.8 281.5L133.6 281.6L134.3 281.6L135.1 281.7L135.8 281.8L136.6 281.9L137.3 282.0L138.0 282.2L138.6 282.5L139.1 282.7L139.8 283.0L140.6 283.2L141.0 283.5L141.6 283.9L141.9 284.5L142.1 285.1L142.1 285.8L142.1 286.5L142.0 287.2L141.8 287.8L141.5 288.2L141.2 288.8L140.8 289.2L140.4 289.5L139.8 289.9L139.3 290.2L138.8 290.5L138.3 290.7L137.6 291.0L136.8 291.2L136.1 291.5L135.3 291.6L134.6 291.7L133.8 291.9L133.3 292.1L132.8 292.3L132.1 292.5ZM132.1 291.3L131.3 291.4L130.6 291.5L129.8 291.4L129.1 291.4L128.3 291.3L127.5 291.3L126.8 291.3L126.0 291.2L125.4 291.0L124.8 290.7L124.3 290.3L123.8 289.9L123.3 289.5L122.8 289.0L122.5 288.5L122.3 288.0L122.3 287.2L122.5 286.8L123.0 286.2L123.5 285.8L124.0 285.3L124.5 284.8L125.0 284.3L125.5 284.0L126.0 283.7L126.5 283.4L127.0 283.2L127.7 283.0L128.3 282.9L129.1 282.8L129.8 282.6L130.6 282.5L131.3 282.4L132.1 282.4L132.8 282.5L133.6 282.6L134.3 282.6L135.1 282.7L135.8 282.9L136.6 283.1L137.3 283.4L137.8 283.7L138.2 284.0L138.8 284.5L139.2 285.0L139.5 285.5L139.8 286.2L139.7 287.0L139.4 287.8L139.1 288.2L138.8 288.7L138.3 289.2L137.8 289.5L137.3 289.7L136.6 290.0L136.1 290.2L135.6 290.4L134.8 290.6L134.1 290.8L133.3 291.0L132.6 291.2ZM131.1 291.0L130.3 291.0L129.6 291.0L128.8 290.9L128.1 290.9L127.3 290.8L126.5 290.7L125.9 290.5L125.4 290.2L124.8 289.8L124.4 289.5L124.0 289.1L123.7 288.8L123.4 288.2L123.3 287.5L123.5 286.8L123.9 286.2L124.3 285.8L124.8 285.2L125.3 284.8L125.8 284.4L126.3 284.1L126.8 283.8L127.3 283.6L128.1 283.4L128.8 283.2L129.6 283.1L130.3 283.0L131.1 282.9L131.8 282.9L132.6 282.9L133.3 283.0L134.1 283.1L134.8 283.2L135.6 283.3L136.1 283.5L136.7 283.8L137.3 284.1L137.8 284.5L138.3 285.0L138.6 285.5L138.8 286.0L138.9 286.8L138.7 287.5L138.4 288.0L138.1 288.5L137.6 288.9L137.1 289.2L136.6 289.4L136.1 289.7L135.6 289.9L134.8 290.2L134.1 290.4L133.3 290.6L132.6 290.8L131.8 290.9L131.1 291.0ZM132.3 290.5L131.6 290.7L130.8 290.7L130.1 290.7L129.3 290.7L128.6 290.6L127.8 290.5L127.0 290.4L126.3 290.2L125.8 290.0L125.3 289.7L124.8 289.2L124.4 288.8L124.1 288.2L123.9 287.5L124.0 286.9L124.3 286.4L124.6 286.0L125.0 285.5L125.5 285.0L126.0 284.7L126.5 284.3L127.0 284.1L127.5 283.8L128.3 283.6L129.0 283.5L129.8 283.4L130.6 283.3L131.3 283.2L132.1 283.2L132.7 283.2L133.6 283.3L134.3 283.4L135.1 283.5L135.8 283.7L136.4 284.0L137.1 284.4L137.5 284.8L137.8 285.1L138.2 285.8L138.4 286.5L138.3 287.2L138.0 287.8L137.6 288.2L137.1 288.7L136.6 289.0L136.1 289.2L135.6 289.5L135.1 289.7L134.6 289.9L133.8 290.2L133.1 290.4L132.5 290.5ZM132.3 290.3L131.6 290.4L130.8 290.5L130.1 290.5L129.3 290.4L128.6 290.3L127.8 290.3L127.0 290.1L126.3 289.9L125.8 289.6L125.4 289.2L124.9 288.8L124.6 288.2L124.4 287.5L124.5 286.8L124.8 286.3L125.2 285.8L125.8 285.2L126.3 284.8L126.8 284.5L127.3 284.2L127.8 284.0L128.6 283.8L129.3 283.7L130.1 283.6L130.7 283.5L131.6 283.4L132.3 283.5L133.1 283.5L133.8 283.6L134.6 283.7L135.3 283.9L136.1 284.2L136.6 284.4L137.0 284.8L137.3 285.1L137.7 285.8L137.9 286.5L137.8 287.2L137.6 287.7L137.1 288.2L136.6 288.6L136.1 288.9L135.6 289.1L135.1 289.4L134.6 289.6L134.1 289.8L133.4 290.0L132.8 290.2ZM130.8 290.3L130.1 290.2L129.3 290.1L128.6 290.1L127.8 290.0L127.0 289.8L126.3 289.5L125.9 289.2L125.4 288.8L125.1 288.2L124.9 287.8L124.9 287.0L125.1 286.5L125.4 286.0L125.8 285.6L126.2 285.2L126.8 284.8L127.3 284.5L127.8 284.3L128.6 284.1L129.3 283.9L130.1 283.8L130.8 283.7L131.6 283.7L132.3 283.7L133.1 283.8L133.8 283.9L134.6 284.0L135.3 284.2L135.8 284.4L136.3 284.6L136.7 285.0L137.1 285.5L137.4 286.0L137.5 286.8L137.3 287.4L136.8 288.0L136.3 288.4L135.8 288.6L135.3 288.9L134.8 289.2L134.3 289.4L133.8 289.6L133.1 289.9L132.3 290.1L131.6 290.2L130.8 290.3ZM131.6 290.0L130.8 290.0L130.1 290.0L129.3 289.9L128.6 289.8L127.8 289.7L127.0 289.6L126.5 289.4L126.0 289.0L125.6 288.5L125.3 288.0L125.2 287.2L125.4 286.5L125.8 286.0L126.3 285.5L126.8 285.1L127.3 284.8L127.8 284.5L128.6 284.3L129.3 284.1L130.1 284.0L130.8 283.9L131.6 283.9L132.3 283.9L133.1 284.0L133.8 284.1L134.6 284.2L135.3 284.4L135.8 284.6L136.3 285.0L136.8 285.5L137.0 286.0L137.1 286.8L136.8 287.5L136.3 288.0L135.8 288.2L135.3 288.5L134.8 288.8L134.3 289.1L133.8 289.4L133.3 289.6L132.8 289.8L132.1 289.9ZM131.8 289.8L131.1 289.8L130.3 289.8L129.6 289.7L128.8 289.6L128.1 289.5L127.3 289.4L126.5 289.0L126.0 288.6L125.7 288.0L125.5 287.2L125.8 286.5L126.2 286.0L126.5 285.7L127.0 285.3L127.5 284.9L128.1 284.7L128.8 284.4L129.6 284.3L130.3 284.2L131.1 284.1L131.8 284.1L132.6 284.1L133.3 284.2L134.1 284.3L134.8 284.5L135.5 284.8L136.1 285.1L136.4 285.5L136.7 286.0L136.7 286.8L136.5 287.2L136.1 287.7L135.6 288.1L135.1 288.4L134.6 288.7L134.1 289.0L133.6 289.2L133.1 289.4L132.3 289.7ZM132.1 289.5L131.3 289.6L130.6 289.6L129.8 289.5L129.1 289.4L128.3 289.3L127.5 289.1L126.8 288.8L126.4 288.5L126.1 288.0L125.9 287.2L126.0 286.7L126.5 286.0L127.0 285.6L127.5 285.2L128.1 284.9L128.8 284.6L129.6 284.5L130.3 284.3L131.0 284.2L131.8 284.2L132.6 284.3L133.3 284.4L134.1 284.5L134.8 284.7L135.3 284.9L135.8 285.2L136.2 285.8L136.4 286.5L136.1 287.2L135.6 287.7L135.1 288.0L134.6 288.3L134.1 288.6L133.6 288.9L133.1 289.2L132.3 289.5ZM132.1 289.3L131.3 289.4L130.6 289.4L129.8 289.2L129.1 289.0L128.3 288.9L127.5 288.8L127.0 288.6L126.5 288.1L126.3 287.5L126.4 286.8L126.8 286.2L127.3 285.8L127.8 285.3L128.3 285.0L129.1 284.8L129.8 284.6L130.4 284.5L131.3 284.4L132.1 284.5L132.8 284.6L133.6 284.7L134.3 284.8L135.0 285.0L135.6 285.4L136.0 286.0L136.0 286.8L135.6 287.2L135.1 287.7L134.6 287.9L134.1 288.2L133.6 288.6L133.1 288.9L132.6 289.1ZM132.1 289.0L131.3 289.1L130.6 289.0L129.8 288.8L129.3 288.6L128.6 288.5L127.8 288.3L127.3 288.1L126.9 287.8L126.8 287.1L127.0 286.6L127.5 286.0L128.1 285.5L128.5 285.2L129.1 285.0L129.8 284.8L130.6 284.7L131.3 284.6L132.1 284.7L132.8 284.8L133.6 284.9L134.3 285.0L134.9 285.2L135.3 285.5L135.6 286.0L135.6 286.8L135.1 287.2L134.6 287.5L134.1 287.8L133.6 288.1L133.1 288.4L132.6 288.8L132.1 289.0ZM132.1 288.5L131.3 288.7L130.6 288.3L130.1 288.0L129.6 287.6L128.8 287.5L128.1 287.4L127.7 287.0L128.0 286.2L128.5 285.8L129.1 285.4L129.6 285.2L130.1 285.0L130.8 284.9L131.6 284.9L132.3 285.1L133.1 285.2L133.8 285.2L134.6 285.4L135.0 285.8L135.2 286.2L134.8 287.0L134.3 287.2L133.6 287.5L133.1 287.7L132.6 288.1L132.1 288.5ZM132.1 287.5L131.3 287.7L130.6 287.5L130.2 287.2L129.6 286.8L129.2 286.5L129.3 285.8L129.8 285.4L130.6 285.2L131.3 285.2L132.1 285.4L132.8 285.5L133.6 285.5L134.3 285.7L134.7 286.2L134.3 286.7L133.6 287.0L132.8 287.2L132.3 287.4ZM131.6 286.8L130.8 286.9L130.1 286.5L129.8 286.0L130.3 285.6L131.1 285.5L131.6 285.7L132.0 286.0L131.8 286.6Z" fill="none" stroke="#111" stroke-width="0.6"/>
<rect x="102.6" y="230.6" width="54.70000000000002" height="48.79999999999998" fill="none" stroke="#4d4d4d" stroke-width="0.9"/>
<text x="106.3" y="238.9" font-size="7.4" text-anchor="start" font-weight="normal" fill="#1a1a1a" >3.7</text>
<rect x="97.5" y="228.4" width="67.5" height="66.79999999999998" fill="none" stroke="#111" stroke-width="1.15"/>
<path d="M94.5 234.5H97.5M95.6 244.7H97.5M95.6 242.2H97.5M95.6 240.3H97.5M95.6 238.9H97.5M95.6 237.8H97.5M95.6 236.8H97.5M95.6 236.0H97.5M95.6 235.2H97.5M94.5 249.1H97.5M95.6 259.7H97.5M95.6 257.0H97.5M95.6 255.1H97.5M95.6 253.7H97.5M95.6 252.5H97.5M95.6 251.5H97.5M95.6 250.6H97.5M95.6 249.8H97.5M94.5 264.3H97.5M95.6 275.2H97.5M95.6 272.5H97.5M95.6 270.5H97.5M95.6 269.0H97.5M95.6 267.8H97.5M95.6 266.7H97.5M95.6 265.8H97.5M95.6 265.0H97.5M94.5 280.0H97.5M94.5 287.7H97.5M95.6 282.3H97.5M95.6 283.7H97.5M95.6 284.6H97.5M95.6 285.4H97.5M95.6 286.0H97.5M95.6 286.5H97.5M95.6 287.0H97.5M95.6 287.4H97.5M111.6 295.2V298.2M116.2 295.2V297.09999999999997M118.9 295.2V297.09999999999997M120.8 295.2V297.09999999999997M122.3 295.2V297.09999999999997M123.5 295.2V297.09999999999997M124.6 295.2V297.09999999999997M125.4 295.2V297.09999999999997M126.2 295.2V297.09999999999997M126.9 295.2V298.2M131.7 295.2V297.09999999999997M134.4 295.2V297.09999999999997M136.4 295.2V297.09999999999997M137.9 295.2V297.09999999999997M139.2 295.2V297.09999999999997M140.2 295.2V297.09999999999997M141.1 295.2V297.09999999999997M141.9 295.2V297.09999999999997M142.7 295.2V298.2M147.4 295.2V297.09999999999997M150.1 295.2V297.09999999999997M152.0 295.2V297.09999999999997M153.6 295.2V297.09999999999997M154.8 295.2V297.09999999999997M155.8 295.2V297.09999999999997M156.7 295.2V297.09999999999997M157.5 295.2V297.09999999999997M158.2 295.2V298.2M103.6 295.2V298.2M106.0 295.2V297.09999999999997M107.4 295.2V297.09999999999997M108.4 295.2V297.09999999999997M109.2 295.2V297.09999999999997M109.8 295.2V297.09999999999997M110.4 295.2V297.09999999999997M110.8 295.2V297.09999999999997M111.2 295.2V297.09999999999997" stroke="#111" stroke-width="1.0" fill="none"/>
<g fill="#333"><circle cx="201.1" cy="261.2" r="0.45"/><circle cx="189.4" cy="276.1" r="0.45"/><circle cx="201.0" cy="258.2" r="0.45"/><circle cx="219.9" cy="258.9" r="0.45"/><circle cx="218.1" cy="243.7" r="0.45"/><circle cx="218.4" cy="265.3" r="0.45"/><circle cx="200.5" cy="251.6" r="0.45"/><circle cx="225.3" cy="258.1" r="0.45"/><circle cx="219.5" cy="262.5" r="0.45"/><circle cx="202.2" cy="256.4" r="0.45"/><circle cx="199.9" cy="256.1" r="0.45"/><circle cx="196.8" cy="266.8" r="0.45"/><circle cx="223.1" cy="275.5" r="0.45"/><circle cx="196.5" cy="263.2" r="0.45"/><circle cx="201.0" cy="256.1" r="0.45"/><circle cx="201.9" cy="244.1" r="0.45"/><circle cx="209.8" cy="241.4" r="0.45"/><circle cx="217.2" cy="273.6" r="0.45"/><circle cx="197.8" cy="261.2" r="0.45"/><circle cx="216.1" cy="272.2" r="0.45"/><circle cx="207.5" cy="245.1" r="0.45"/><circle cx="204.9" cy="253.8" r="0.45"/><circle cx="206.9" cy="249.0" r="0.45"/><circle cx="216.8" cy="265.1" r="0.45"/><circle cx="202.7" cy="256.9" r="0.45"/><circle cx="192.8" cy="263.0" r="0.45"/><circle cx="198.1" cy="254.1" r="0.45"/><circle cx="193.1" cy="258.3" r="0.45"/><circle cx="204.4" cy="255.0" r="0.45"/><circle cx="223.4" cy="268.6" r="0.45"/><circle cx="219.5" cy="261.6" r="0.45"/><circle cx="184.9" cy="264.4" r="0.45"/><circle cx="219.6" cy="265.0" r="0.45"/><circle cx="217.9" cy="254.8" r="0.45"/><circle cx="195.1" cy="256.1" r="0.45"/><circle cx="194.4" cy="271.9" r="0.45"/><circle cx="203.0" cy="249.9" r="0.45"/><circle cx="218.2" cy="265.9" r="0.45"/><circle cx="217.0" cy="256.4" r="0.45"/><circle cx="197.3" cy="258.5" r="0.45"/><circle cx="196.7" cy="255.2" r="0.45"/><circle cx="216.9" cy="271.3" r="0.45"/><circle cx="217.7" cy="270.5" r="0.45"/><circle cx="200.8" cy="260.7" r="0.45"/><circle cx="205.6" cy="253.1" r="0.45"/><circle cx="216.0" cy="250.5" r="0.45"/><circle cx="199.7" cy="259.8" r="0.45"/><circle cx="197.0" cy="259.3" r="0.45"/><circle cx="201.3" cy="257.8" r="0.45"/><circle cx="218.9" cy="246.9" r="0.45"/><circle cx="196.3" cy="260.1" r="0.45"/><circle cx="197.4" cy="273.3" r="0.45"/><circle cx="198.4" cy="263.0" r="0.45"/><circle cx="205.2" cy="251.2" r="0.45"/><circle cx="215.2" cy="252.7" r="0.45"/><circle cx="220.5" cy="269.9" r="0.45"/><circle cx="212.7" cy="249.5" r="0.45"/><circle cx="196.4" cy="252.5" r="0.45"/><circle cx="205.3" cy="247.8" r="0.45"/><circle cx="202.2" cy="254.2" r="0.45"/><circle cx="224.4" cy="257.4" r="0.45"/><circle cx="191.3" cy="254.4" r="0.45"/><circle cx="199.6" cy="257.1" r="0.45"/><circle cx="197.4" cy="259.1" r="0.45"/><circle cx="201.2" cy="243.9" r="0.45"/><circle cx="201.5" cy="245.7" r="0.45"/><circle cx="223.0" cy="266.9" r="0.45"/><circle cx="204.9" cy="253.1" r="0.45"/><circle cx="219.2" cy="272.7" r="0.45"/><circle cx="201.4" cy="260.2" r="0.45"/><circle cx="203.1" cy="251.4" r="0.45"/><circle cx="217.9" cy="263.8" r="0.45"/><circle cx="184.5" cy="281.0" r="0.45"/><circle cx="190.9" cy="273.9" r="0.45"/><circle cx="192.2" cy="275.0" r="0.45"/><circle cx="219.6" cy="264.3" r="0.45"/><circle cx="216.1" cy="273.5" r="0.45"/><circle cx="194.0" cy="271.1" r="0.45"/><circle cx="219.4" cy="272.0" r="0.45"/><circle cx="223.4" cy="277.0" r="0.45"/><circle cx="222.2" cy="291.0" r="0.45"/><circle cx="180.4" cy="277.6" r="0.45"/></g>
<path d="M207.8 275.8L207.1 275.8L206.3 275.8L205.6 275.7L204.8 275.6L204.1 275.5L203.3 275.3L202.6 275.1L201.8 274.8L201.3 274.6L200.8 274.4L200.3 274.1L199.8 273.8L199.4 273.5L198.8 273.1L198.4 272.8L198.0 272.2L197.6 271.8L197.3 271.3L197.1 270.8L196.9 270.2L196.7 269.5L196.6 268.8L196.7 268.0L196.8 267.2L197.1 266.5L197.3 266.0L197.5 265.5L197.8 265.0L198.1 264.6L198.6 264.0L199.1 263.6L199.6 263.1L200.0 262.8L200.3 262.4L200.8 261.8L201.1 261.3L201.3 260.8L201.6 260.3L201.8 259.8L202.1 259.3L202.3 258.9L202.6 258.4L202.8 257.9L203.1 257.3L203.3 256.9L203.8 256.2L204.1 255.8L204.5 255.2L204.8 254.9L205.3 254.3L205.7 253.8L206.1 253.3L206.6 252.8L207.1 252.2L207.6 251.8L208.1 251.5L208.6 251.2L209.1 250.9L209.6 250.6L210.3 250.4L211.1 250.4L211.8 250.5L212.3 250.7L212.8 250.9L213.3 251.2L213.8 251.6L214.2 252.0L214.6 252.5L214.8 253.0L215.1 253.8L215.3 254.5L215.6 255.2L215.8 256.0L215.9 256.8L216.0 257.5L216.1 258.2L216.1 259.0L216.2 259.8L216.2 260.5L216.1 261.2L216.0 262.0L215.9 262.8L215.9 263.5L216.0 264.2L216.0 265.0L216.1 265.8L216.2 266.5L216.3 267.2L216.4 268.0L216.3 268.7L216.2 269.2L216.0 270.0L215.8 270.8L215.5 271.5L215.1 272.0L214.6 272.5L214.1 272.9L213.6 273.2L213.1 273.6L212.6 274.0L212.1 274.3L211.6 274.6L211.1 274.9L210.6 275.1L209.8 275.3L209.3 275.5L208.6 275.6L208.0 275.8ZM208.1 273.8L207.3 273.9L206.6 273.8L205.8 273.8L205.1 273.7L204.3 273.5L203.6 273.3L203.1 273.1L202.6 272.8L202.2 272.5L201.6 272.1L201.1 271.8L200.6 271.4L200.2 271.0L199.9 270.5L199.7 270.0L199.5 269.2L199.4 268.5L199.5 267.8L199.7 267.0L199.9 266.5L200.3 266.0L200.6 265.6L200.9 265.0L201.2 264.5L201.5 264.0L201.8 263.5L202.1 263.0L202.4 262.5L202.7 262.0L202.9 261.5L203.1 260.9L203.3 260.3L203.6 259.8L203.8 259.2L204.1 258.8L204.3 258.2L204.6 257.8L204.8 257.3L205.2 256.8L205.6 256.3L206.1 255.8L206.5 255.2L206.8 254.8L207.1 254.3L207.6 253.8L208.1 253.2L208.6 252.9L209.1 252.6L209.6 252.3L210.3 252.1L211.1 252.1L211.7 252.2L212.3 252.7L212.8 253.2L213.2 253.8L213.5 254.2L213.8 254.8L214.0 255.5L214.2 256.2L214.3 257.0L214.4 257.8L214.5 258.5L214.5 259.2L214.4 260.0L214.3 260.8L214.3 261.5L214.2 262.2L214.1 263.0L214.1 263.8L214.1 264.5L214.1 265.2L214.1 266.0L214.1 266.8L214.2 267.5L214.2 268.2L214.1 268.9L213.9 269.5L213.6 270.0L213.3 270.4L212.9 271.0L212.4 271.5L212.1 271.9L211.7 272.2L211.1 272.7L210.6 272.9L210.1 273.2L209.3 273.4L208.6 273.7ZM206.8 272.3L206.1 272.3L205.4 272.2L204.6 272.1L204.1 271.9L203.6 271.6L203.1 271.1L202.7 270.8L202.4 270.2L202.2 269.8L201.9 269.0L201.7 268.2L201.7 267.5L201.8 266.9L202.1 266.3L202.4 265.8L202.8 265.2L203.1 264.8L203.3 264.2L203.6 263.5L203.8 263.0L204.0 262.2L204.2 261.5L204.4 260.8L204.7 260.0L205.0 259.5L205.2 259.0L205.4 258.5L205.7 258.0L206.1 257.5L206.5 257.0L206.8 256.6L207.3 256.0L207.6 255.5L207.9 255.0L208.3 254.5L208.8 254.0L209.3 253.7L210.1 253.4L210.8 253.5L211.3 253.7L211.8 254.2L212.2 254.8L212.6 255.2L212.8 255.7L213.1 256.2L213.2 257.0L213.3 257.8L213.2 258.5L213.1 259.2L213.0 260.0L213.0 260.8L212.9 261.5L212.8 262.1L212.7 263.0L212.7 263.8L212.6 264.5L212.5 265.2L212.5 266.0L212.6 266.8L212.6 267.5L212.4 268.2L212.2 268.8L211.8 269.2L211.3 269.7L210.8 270.2L210.4 270.8L209.8 271.2L209.3 271.5L208.8 271.7L208.1 272.0L207.3 272.2ZM206.3 270.8L205.6 270.8L204.8 270.6L204.4 270.2L204.0 269.8L203.8 269.2L203.5 268.5L203.5 267.8L203.6 267.0L203.8 266.5L204.1 266.0L204.4 265.5L204.6 264.9L204.8 264.2L205.0 263.8L205.2 263.2L205.4 262.5L205.5 261.8L205.6 261.0L205.8 260.2L206.1 259.5L206.3 259.0L206.7 258.5L207.1 258.0L207.4 257.5L207.8 257.0L208.1 256.5L208.4 256.0L208.8 255.5L209.1 255.1L209.6 254.8L210.3 254.8L210.8 255.0L211.3 255.5L211.7 256.0L212.0 256.5L212.2 257.2L212.2 258.0L212.2 258.8L212.0 259.5L212.0 260.2L211.9 261.0L211.8 261.8L211.6 262.5L211.5 263.2L211.4 264.0L211.3 264.8L211.1 265.5L211.0 266.2L210.9 267.0L210.6 267.5L210.2 268.0L209.8 268.4L209.4 269.0L209.1 269.4L208.6 270.0L208.1 270.3L207.5 270.5L206.8 270.7ZM207.3 268.6L206.6 268.6L206.2 268.2L206.3 267.7L206.6 267.2L206.9 266.8L206.7 266.0L206.5 265.5L206.4 264.8L206.6 264.0L206.8 263.2L207.0 262.5L207.1 261.8L207.0 261.0L207.2 260.2L207.5 259.8L207.8 259.3L208.3 258.8L208.6 258.2L208.8 257.8L209.2 257.2L209.6 256.8L210.3 256.7L210.7 257.2L211.0 258.0L211.0 258.8L210.9 259.5L210.9 260.2L210.8 261.0L210.7 261.8L210.5 262.5L210.1 263.2L209.9 263.8L209.6 264.2L209.4 264.8L209.2 265.5L209.0 266.2L208.8 266.8L208.5 267.2L208.2 267.8L207.9 268.2L207.3 268.6Z" fill="none" stroke="#555" stroke-width="0.5"/>
<path d="M200.8 294.2L200.3 293.9L200.0 293.5L199.6 293.1L199.1 292.5L198.6 292.0L198.1 291.8L197.3 291.7L196.6 291.6L195.8 291.4L195.4 291.0L195.1 290.5L195.0 289.8L195.0 289.0L194.9 288.2L194.7 287.5L194.4 287.0L194.1 286.5L193.6 286.0L193.1 285.6L192.8 285.0L192.7 284.2L192.7 283.5L192.7 282.8L192.8 282.0L192.8 281.2L192.9 280.5L193.1 279.9L193.3 279.2L193.5 278.8L194.0 278.2L194.6 277.9L195.2 277.8L195.8 277.5L196.3 277.1L196.7 276.8L197.1 276.3L197.4 275.8L197.6 275.1L198.3 275.1L199.0 275.0L199.6 274.8L200.1 274.4L200.5 274.0L200.8 273.5L201.1 273.1L201.6 272.9L202.3 272.9L203.1 273.1L203.8 273.3L204.6 273.4L205.2 273.2L205.8 273.0L206.6 272.8L207.3 272.6L208.1 272.5L208.8 272.3L209.6 272.3L210.1 272.7L210.3 273.2L210.5 273.8L210.8 274.2L211.3 274.8L211.8 275.1L212.3 275.5L212.8 275.7L213.3 276.0L214.1 276.1L214.8 276.2L215.3 276.6L215.8 276.9L216.3 277.2L216.8 277.5L217.3 278.0L217.6 278.5L217.8 279.1L218.1 279.7L218.5 280.2L218.8 280.8L218.8 281.5L218.8 282.2L218.8 283.0L218.8 283.8L218.7 284.5L218.6 285.2L218.6 286.0L218.6 286.8L218.3 287.5L218.2 288.2L218.0 289.0L217.8 289.5L217.6 290.1L217.2 290.8L216.6 291.2L216.1 291.4L215.3 291.7L214.6 291.9L213.8 292.2L213.3 292.4L212.8 292.7L212.4 293.0L211.8 293.3L211.3 293.6L210.6 293.7L209.8 293.8L209.1 293.9L208.3 294.1M206.1 293.3L205.3 293.5L204.6 293.4L204.0 293.2L203.3 293.0L202.6 292.8L201.8 292.6L201.1 292.5L200.6 292.3L200.1 291.8L199.6 291.2L199.1 290.8L198.6 290.5L198.1 290.2L197.6 289.9L197.1 289.5L196.7 289.0L196.4 288.5L196.2 288.0L195.9 287.5L195.6 287.0L195.4 286.5L195.2 286.0L195.0 285.5L194.7 284.8L194.7 284.0L194.8 283.3L195.0 282.8L195.1 282.1L195.2 281.2L195.5 280.5L195.8 280.1L196.3 279.6L196.8 279.0L197.1 278.6L197.5 278.0L197.8 277.6L198.3 277.2L198.8 276.8L199.3 276.4L199.8 276.1L200.3 275.9L200.9 275.8L201.6 275.6L202.3 275.5L203.1 275.3L203.8 275.1L204.6 275.0L205.3 274.9L205.9 274.8L206.6 274.6L207.3 274.6L208.0 274.8L208.6 275.0L209.1 275.3L209.6 275.6L210.1 275.9L210.6 276.1L211.1 276.3L211.6 276.6L212.1 276.9L212.6 277.4L213.1 277.8L213.6 278.0L214.1 278.2L214.6 278.4L215.1 278.7L215.5 279.0L216.0 279.5L216.2 280.0L216.4 280.8L216.5 281.5L216.5 282.2L216.3 283.0L216.1 283.7L216.2 284.5L216.3 285.2L216.2 286.0L216.0 286.8L215.9 287.5L215.7 288.2L215.4 288.8L215.1 289.2L214.6 289.7L214.1 290.1L213.6 290.4L213.1 290.7L212.6 291.0L212.1 291.3L211.6 291.6L211.1 291.9L210.6 292.1L210.1 292.3L209.3 292.6L208.6 292.7L207.8 292.8L207.1 293.0L206.3 293.2ZM205.6 292.6L204.8 292.7L204.1 292.5L203.4 292.2L203.0 292.0L202.4 291.8L201.8 291.6L201.1 291.3L200.6 291.1L200.2 290.8L199.6 290.3L199.1 290.0L198.6 289.7L198.1 289.2L197.7 288.8L197.3 288.3L196.9 287.8L196.6 287.3L196.3 286.8L196.0 286.2L195.8 285.7L195.7 285.0L195.7 284.2L195.8 283.5L196.0 283.0L196.2 282.2L196.3 281.6L196.6 281.0L196.8 280.6L197.3 280.0L197.5 279.5L197.8 279.0L198.1 278.5L198.5 278.0L199.1 277.5L199.6 277.1L200.1 276.8L200.8 276.6L201.6 276.6L202.3 276.5L203.0 276.2L203.6 276.0L204.3 275.9L205.1 275.8L205.8 275.6L206.6 275.5L207.3 275.4L208.1 275.6L208.6 275.8L209.1 276.1L209.6 276.4L210.1 276.7L210.6 276.9L211.1 277.1L211.6 277.5L212.1 278.0L212.6 278.5L213.1 278.7L213.8 279.0L214.3 279.2L214.8 279.7L215.2 280.2L215.3 281.0L215.4 281.8L215.4 282.5L215.3 283.2L215.3 284.0L215.3 284.8L215.3 285.5L215.1 286.2L215.0 287.0L214.9 287.8L214.6 288.5L214.3 289.0L213.8 289.4L213.4 289.8L212.8 290.1L212.3 290.4L211.9 290.8L211.4 291.0L210.9 291.2L210.3 291.5L209.8 291.7L209.3 291.9L208.6 292.1L207.8 292.0L207.1 292.0L206.4 292.2L205.8 292.5ZM205.6 291.8L204.8 292.0L204.1 291.9L203.6 291.6L203.1 291.3L202.6 291.0L201.8 290.8L201.1 290.5L200.6 290.3L200.1 290.0L199.7 289.8L199.1 289.3L198.6 288.8L198.1 288.2L197.7 287.8L197.3 287.3L196.9 286.8L196.7 286.2L196.4 285.5L196.3 284.8L196.5 284.0L196.8 283.5L197.3 283.0L197.3 282.2L197.3 281.5L197.6 280.8L197.9 280.2L198.2 279.8L198.4 279.2L198.8 278.8L199.1 278.3L199.6 277.9L200.1 277.5L200.8 277.3L201.6 277.3L202.3 277.4L203.1 277.1L203.5 276.8L204.1 276.5L204.8 276.3L205.5 276.2L206.1 276.1L206.8 276.0L207.6 276.1L208.2 276.2L208.7 276.5L209.3 276.9L209.8 277.1L210.3 277.3L210.8 277.6L211.3 278.0L211.6 278.4L212.0 279.0L212.6 279.5L213.3 279.7L213.8 279.9L214.3 280.5L214.5 281.0L214.7 281.8L214.8 282.5L214.8 283.2L214.8 284.0L214.8 284.8L214.7 285.5L214.5 286.2L214.4 287.0L214.3 287.8L214.1 288.2L213.7 288.8L213.3 289.1L212.8 289.5L212.3 289.8L211.8 290.2L211.3 290.5L210.8 290.7L210.1 290.9L209.6 291.2L208.8 291.4L208.1 291.4L207.3 291.3L206.6 291.3L205.8 291.7ZM204.8 291.3L204.1 291.2L203.6 290.9L203.1 290.6L202.3 290.4L201.6 290.2L200.8 289.9L200.3 289.6L199.8 289.3L199.3 288.8L198.9 288.2L198.7 287.8L198.3 287.3L197.8 286.9L197.4 286.2L197.2 285.8L197.1 285.0L197.3 284.3L197.8 283.9L198.2 283.5L198.2 282.8L198.0 282.0L198.1 281.2L198.3 280.8L198.8 280.2L199.1 279.8L199.3 279.2L199.6 278.8L200.1 278.3L200.6 278.1L201.3 278.0L202.1 278.1L202.8 278.0L203.3 277.8L203.8 277.3L204.3 277.0L205.1 276.8L205.8 276.7L206.6 276.6L207.3 276.6L208.1 276.8L208.6 277.0L209.0 277.2L209.6 277.5L210.1 277.7L210.5 278.0L211.1 278.5L211.3 279.0L211.6 279.5L211.9 280.0L212.3 280.5L212.8 280.8L213.4 281.0L213.8 281.4L214.2 282.0L214.3 282.6L214.4 283.2L214.3 284.0L214.3 284.8L214.2 285.5L214.0 286.2L213.9 287.0L213.7 287.8L213.4 288.2L213.1 288.6L212.7 289.0L212.1 289.5L211.7 289.8L211.1 290.0L210.6 290.2L209.8 290.4L209.1 290.7L208.3 290.8L207.6 290.8L206.8 290.7L206.1 290.8L205.6 291.1L205.0 291.2ZM205.3 290.5L204.6 290.6L204.0 290.5L203.4 290.2L202.8 290.1L202.1 289.9L201.3 289.7L200.8 289.4L200.3 289.1L199.9 288.8L199.6 288.3L199.4 287.5L199.1 286.9L198.7 286.5L198.3 286.1L198.0 285.5L198.1 284.8L198.4 284.2L198.7 283.8L198.7 283.0L198.6 282.3L198.6 281.5L199.0 281.0L199.3 280.6L199.7 280.2L200.0 279.8L200.3 279.2L200.8 278.8L201.6 278.7L202.3 278.6L203.1 278.4L203.6 278.2L204.1 277.8L204.6 277.5L205.1 277.3L205.8 277.1L206.6 277.0L207.3 277.1L207.9 277.2L208.4 277.5L208.9 277.8L209.5 278.0L210.0 278.2L210.6 278.7L210.9 279.2L211.2 279.8L211.4 280.2L211.8 280.8L212.1 281.1L212.5 281.5L213.0 281.8L213.6 282.2L213.8 282.7L213.9 283.5L213.8 284.2L213.7 285.0L213.6 285.8L213.5 286.5L213.3 287.2L213.1 287.8L212.7 288.2L212.3 288.6L211.9 289.0L211.3 289.3L210.6 289.6L209.8 289.7L209.1 289.9L208.6 290.1L207.8 290.2L207.1 290.2L206.3 290.2L205.6 290.5ZM205.1 290.0L204.4 290.0L203.6 289.8L202.8 289.7L202.1 289.5L201.3 289.3L200.9 289.0L200.3 288.5L200.0 288.0L199.8 287.3L199.7 286.8L199.3 286.3L199.0 285.8L198.8 285.0L199.0 284.2L199.1 283.5L199.1 282.8L199.1 282.0L199.4 281.5L199.8 281.0L200.2 280.5L200.6 280.0L201.1 279.5L201.6 279.2L202.1 279.1L202.8 278.9L203.6 278.6L204.1 278.4L204.6 278.2L205.1 277.9L205.8 277.7L206.6 277.6L207.3 277.6L208.1 277.9L208.6 278.2L209.1 278.5L209.6 278.7L210.1 279.1L210.5 279.8L210.8 280.2L211.2 280.8L211.5 281.2L211.8 281.7L212.3 282.2L212.8 282.5L213.2 283.0L213.2 283.8L213.1 284.5L213.1 285.2L213.1 286.0L212.9 286.8L212.6 287.5L212.2 288.0L211.6 288.5L211.1 288.8L210.3 289.0L209.6 289.1L208.8 289.2L208.1 289.5L207.3 289.6L206.6 289.7L205.8 289.9L205.2 290.0ZM206.3 289.3L205.6 289.5L204.8 289.5L204.1 289.3L203.3 289.3L202.6 289.3L201.8 289.1L201.3 288.9L200.8 288.5L200.5 288.0L200.2 287.2L200.0 286.5L199.7 286.0L199.4 285.5L199.3 284.8L199.5 284.0L199.5 283.2L199.6 282.5L199.8 281.8L200.2 281.2L200.6 280.8L201.1 280.2L201.6 279.8L202.1 279.5L202.6 279.3L203.3 279.1L204.1 278.8L204.8 278.5L205.6 278.3L206.3 278.1L207.1 278.1L207.8 278.4L208.3 278.8L208.8 279.2L209.3 279.7L209.8 280.1L210.2 280.5L210.6 280.9L210.9 281.2L211.3 281.8L211.6 282.2L212.0 282.8L212.3 283.2L212.4 284.0L212.4 284.8L212.5 285.5L212.5 286.2L212.3 286.9L211.9 287.5L211.3 287.8L210.8 288.1L210.1 288.3L209.3 288.5L208.6 288.6L207.8 288.8L207.1 289.1L206.3 289.3ZM205.6 289.0L204.8 288.8L204.3 288.6L203.6 288.7L202.8 288.9L202.1 288.9L201.3 288.5L200.8 288.0L200.6 287.5L200.4 286.8L200.2 286.0L199.9 285.5L199.8 284.8L199.8 284.0L199.9 283.2L200.0 282.5L200.3 281.8L200.7 281.2L201.1 280.8L201.6 280.3L202.1 279.9L202.6 279.6L203.3 279.4L204.1 279.1L204.7 279.0L205.3 278.8L206.1 278.7L206.8 278.6L207.6 278.9L208.1 279.5L208.4 280.0L208.8 280.4L209.3 280.8L209.8 281.1L210.3 281.4L210.8 282.0L211.2 282.5L211.4 283.0L211.6 283.7L211.6 284.5L211.6 285.2L211.8 285.8L211.8 286.4L211.3 286.9L210.6 287.0L209.8 286.9L209.4 287.2L208.8 287.6L208.3 287.8L207.8 288.1L207.3 288.4L206.8 288.7L206.3 288.9L205.7 289.0ZM207.1 283.2L207.3 282.8L206.9 282.2L206.2 282.5L206.0 283.0L206.3 283.4L207.1 283.2ZM205.8 288.5L205.1 288.3L204.6 288.1L203.8 288.1L203.3 288.4L202.8 288.6L202.1 288.6L201.6 288.3L201.2 288.0L201.0 287.5L200.8 286.8L200.6 286.0L200.4 285.2L200.2 284.5L200.2 283.8L200.2 283.0L200.4 282.2L200.7 281.8L201.1 281.3L201.6 280.8L202.1 280.3L202.6 280.0L203.1 279.8L203.8 279.5L204.6 279.4L205.3 279.3L206.1 279.2L206.8 279.3L207.3 279.7L207.6 280.2L208.0 280.8L208.3 281.1L208.8 281.5L209.3 281.8L209.8 282.0L210.3 282.4L210.8 283.0L210.9 283.8L210.7 284.2L210.1 284.7L209.6 285.0L209.1 285.4L208.7 285.8L208.3 286.1L207.9 286.8L207.6 287.2L207.2 287.8L206.8 288.1L206.3 288.4ZM207.1 284.0L207.6 283.8L208.0 283.2L208.2 282.5L207.9 282.0L207.6 281.6L207.1 281.3L206.3 281.5L205.8 282.0L205.4 282.5L205.2 283.0L205.2 283.8L205.8 284.1L206.6 284.2ZM202.6 288.3L201.8 288.1L201.5 287.8L201.2 287.2L201.0 286.5L201.0 285.8L200.8 285.0L200.6 284.3L200.5 283.5L200.6 282.8L200.8 282.2L201.1 281.8L201.6 281.2L202.1 280.8L202.6 280.4L203.1 280.1L203.8 279.9L204.6 279.8L205.3 279.9L205.8 280.2L205.7 281.0L205.4 281.5L205.1 282.0L204.8 282.5L204.4 283.0L204.1 283.5L203.9 284.0L204.3 284.3L205.1 284.6L205.6 284.8L206.1 285.1L206.6 285.4L206.8 285.9L206.8 286.8L206.6 287.5L206.1 287.9L205.3 287.9L204.6 287.6L203.8 287.7L203.3 287.9L202.8 288.2ZM202.8 287.8L202.1 287.8L201.7 287.5L201.4 287.0L201.3 286.2L201.3 285.5L201.2 284.8L201.0 284.2L200.9 283.5L201.0 282.8L201.2 282.2L201.6 281.8L202.0 281.2L202.6 280.8L203.1 280.5L203.8 280.3L204.5 280.5L204.7 281.0L204.5 281.8L204.3 282.2L204.0 282.8L203.6 283.2L203.2 283.8L203.3 284.5L203.8 284.8L204.6 285.0L205.1 285.2L205.6 285.7L205.8 286.2L205.9 287.0L205.3 287.3L204.6 287.2L203.8 287.4L203.3 287.6L202.8 287.8ZM202.6 287.5L202.0 287.2L201.7 286.8L201.7 286.0L201.8 285.2L201.9 284.5L201.5 284.0L201.3 283.2L201.5 282.5L201.8 282.0L202.3 281.5L202.8 281.1L203.6 281.0L203.9 281.5L203.7 282.2L203.4 282.8L203.0 283.2L202.6 283.7L202.4 284.2L202.6 284.8L203.1 285.0L203.8 285.2L204.6 285.5L205.1 286.0L204.8 286.7L204.1 287.0L203.4 287.2L202.8 287.5ZM202.3 283.0L202.1 282.5L202.5 282.0L203.1 282.2L202.7 282.8ZM203.1 287.0L202.3 287.1L202.0 286.5L202.1 285.8L202.6 285.4L203.3 285.4L204.1 285.7L204.5 286.2L203.8 286.7L203.3 286.9ZM202.8 286.8L202.3 286.5L202.6 285.8L203.3 285.8L203.8 286.2L203.3 286.6Z" fill="none" stroke="#222" stroke-width="0.55"/>
<rect x="176.5" y="229.6" width="56.0" height="43.70000000000002" fill="none" stroke="#4d4d4d" stroke-width="0.9"/>
<text x="178.7" y="239.8" font-size="7.4" text-anchor="start" font-weight="normal" fill="#1a1a1a" >15</text>
<rect x="171.3" y="228.4" width="67.29999999999998" height="66.79999999999998" fill="none" stroke="#111" stroke-width="1.15"/>
<path d="M168.3 234.5H171.3M169.4 244.7H171.3M169.4 242.2H171.3M169.4 240.3H171.3M169.4 238.9H171.3M169.4 237.8H171.3M169.4 236.8H171.3M169.4 236.0H171.3M169.4 235.2H171.3M168.3 249.1H171.3M169.4 259.7H171.3M169.4 257.0H171.3M169.4 255.1H171.3M169.4 253.7H171.3M169.4 252.5H171.3M169.4 251.5H171.3M169.4 250.6H171.3M169.4 249.8H171.3M168.3 264.3H171.3M169.4 275.2H171.3M169.4 272.5H171.3M169.4 270.5H171.3M169.4 269.0H171.3M169.4 267.8H171.3M169.4 266.7H171.3M169.4 265.8H171.3M169.4 265.0H171.3M168.3 280.0H171.3M168.3 287.7H171.3M169.4 282.3H171.3M169.4 283.7H171.3M169.4 284.6H171.3M169.4 285.4H171.3M169.4 286.0H171.3M169.4 286.5H171.3M169.4 287.0H171.3M169.4 287.4H171.3M185.4 295.2V298.2M190.0 295.2V297.09999999999997M192.7 295.2V297.09999999999997M194.6 295.2V297.09999999999997M196.0 295.2V297.09999999999997M197.3 295.2V297.09999999999997M198.3 295.2V297.09999999999997M199.2 295.2V297.09999999999997M199.9 295.2V297.09999999999997M200.6 295.2V298.2M205.4 295.2V297.09999999999997M208.1 295.2V297.09999999999997M210.1 295.2V297.09999999999997M211.6 295.2V297.09999999999997M212.8 295.2V297.09999999999997M213.9 295.2V297.09999999999997M214.8 295.2V297.09999999999997M215.6 295.2V297.09999999999997M216.3 295.2V298.2M221.0 295.2V297.09999999999997M223.7 295.2V297.09999999999997M225.7 295.2V297.09999999999997M227.2 295.2V297.09999999999997M228.4 295.2V297.09999999999997M229.5 295.2V297.09999999999997M230.4 295.2V297.09999999999997M231.2 295.2V297.09999999999997M231.9 295.2V298.2M177.4 295.2V298.2M179.8 295.2V297.09999999999997M181.2 295.2V297.09999999999997M182.2 295.2V297.09999999999997M183.0 295.2V297.09999999999997M183.6 295.2V297.09999999999997M184.1 295.2V297.09999999999997M184.6 295.2V297.09999999999997M185.0 295.2V297.09999999999997" stroke="#111" stroke-width="1.0" fill="none"/>
<g fill="#333"><circle cx="45.8" cy="347.2" r="0.45"/><circle cx="56.6" cy="342.6" r="0.45"/><circle cx="60.6" cy="341.4" r="0.45"/><circle cx="50.9" cy="343.8" r="0.45"/><circle cx="72.7" cy="358.1" r="0.45"/><circle cx="75.7" cy="356.3" r="0.45"/><circle cx="55.8" cy="340.2" r="0.45"/><circle cx="72.2" cy="365.4" r="0.45"/><circle cx="48.6" cy="332.3" r="0.45"/><circle cx="49.0" cy="345.5" r="0.45"/><circle cx="40.0" cy="348.9" r="0.45"/><circle cx="75.4" cy="356.9" r="0.45"/><circle cx="68.6" cy="343.5" r="0.45"/><circle cx="71.1" cy="365.1" r="0.45"/><circle cx="49.6" cy="342.0" r="0.45"/><circle cx="71.3" cy="336.3" r="0.45"/><circle cx="56.6" cy="341.0" r="0.45"/><circle cx="57.4" cy="328.1" r="0.45"/><circle cx="66.0" cy="331.8" r="0.45"/><circle cx="69.7" cy="335.2" r="0.45"/><circle cx="51.2" cy="340.9" r="0.45"/><circle cx="49.9" cy="335.3" r="0.45"/><circle cx="66.9" cy="313.3" r="0.45"/><circle cx="50.0" cy="338.3" r="0.45"/><circle cx="67.0" cy="317.8" r="0.45"/><circle cx="70.6" cy="336.1" r="0.45"/><circle cx="70.1" cy="336.0" r="0.45"/><circle cx="52.4" cy="342.0" r="0.45"/><circle cx="64.6" cy="326.6" r="0.45"/><circle cx="57.3" cy="311.2" r="0.45"/><circle cx="62.8" cy="326.5" r="0.45"/><circle cx="52.8" cy="335.0" r="0.45"/><circle cx="65.2" cy="310.2" r="0.45"/><circle cx="66.6" cy="317.1" r="0.45"/><circle cx="66.8" cy="333.8" r="0.45"/><circle cx="70.1" cy="342.0" r="0.45"/><circle cx="67.1" cy="337.8" r="0.45"/><circle cx="50.1" cy="346.0" r="0.45"/><circle cx="63.5" cy="324.5" r="0.45"/><circle cx="66.4" cy="323.5" r="0.45"/><circle cx="58.3" cy="319.7" r="0.45"/><circle cx="52.4" cy="336.7" r="0.45"/><circle cx="58.3" cy="319.0" r="0.45"/><circle cx="61.7" cy="314.3" r="0.45"/><circle cx="57.7" cy="330.9" r="0.45"/><circle cx="46.2" cy="338.1" r="0.45"/><circle cx="51.7" cy="333.5" r="0.45"/><circle cx="71.4" cy="337.6" r="0.45"/><circle cx="50.9" cy="330.1" r="0.45"/><circle cx="52.4" cy="344.4" r="0.45"/><circle cx="69.4" cy="332.5" r="0.45"/><circle cx="53.9" cy="330.6" r="0.45"/><circle cx="55.7" cy="319.9" r="0.45"/><circle cx="59.5" cy="318.9" r="0.45"/><circle cx="74.6" cy="344.1" r="0.45"/><circle cx="72.6" cy="336.9" r="0.45"/><circle cx="64.0" cy="319.9" r="0.45"/><circle cx="65.2" cy="320.4" r="0.45"/><circle cx="52.3" cy="328.8" r="0.45"/><circle cx="62.9" cy="311.3" r="0.45"/><circle cx="68.3" cy="338.6" r="0.45"/><circle cx="66.7" cy="329.2" r="0.45"/><circle cx="68.4" cy="332.7" r="0.45"/><circle cx="68.6" cy="326.8" r="0.45"/><circle cx="68.5" cy="328.4" r="0.45"/><circle cx="66.1" cy="313.1" r="0.45"/><circle cx="51.6" cy="337.1" r="0.45"/><circle cx="56.1" cy="324.7" r="0.45"/><circle cx="58.7" cy="316.3" r="0.45"/><circle cx="50.7" cy="341.4" r="0.45"/><circle cx="72.8" cy="340.8" r="0.45"/><circle cx="72.0" cy="341.7" r="0.45"/><circle cx="69.2" cy="341.3" r="0.45"/><circle cx="45.3" cy="341.6" r="0.45"/><circle cx="53.1" cy="327.7" r="0.45"/><circle cx="66.7" cy="321.2" r="0.45"/><circle cx="68.3" cy="339.4" r="0.45"/><circle cx="52.2" cy="337.5" r="0.45"/><circle cx="60.0" cy="318.2" r="0.45"/><circle cx="52.9" cy="322.3" r="0.45"/><circle cx="63.2" cy="313.0" r="0.45"/><circle cx="63.9" cy="327.4" r="0.45"/><circle cx="59.2" cy="312.8" r="0.45"/><circle cx="59.7" cy="318.7" r="0.45"/><circle cx="66.1" cy="341.4" r="0.45"/><circle cx="68.2" cy="337.1" r="0.45"/><circle cx="71.4" cy="340.0" r="0.45"/><circle cx="73.4" cy="339.1" r="0.45"/><circle cx="61.1" cy="309.7" r="0.45"/><circle cx="57.4" cy="327.7" r="0.45"/><circle cx="56.7" cy="332.2" r="0.45"/><circle cx="68.2" cy="342.0" r="0.45"/><circle cx="70.0" cy="323.9" r="0.45"/><circle cx="53.0" cy="329.3" r="0.45"/><circle cx="64.5" cy="319.3" r="0.45"/><circle cx="52.8" cy="329.3" r="0.45"/><circle cx="51.2" cy="339.0" r="0.45"/><circle cx="70.8" cy="338.5" r="0.45"/><circle cx="49.0" cy="344.7" r="0.45"/><circle cx="49.5" cy="328.4" r="0.45"/><circle cx="74.9" cy="340.6" r="0.45"/><circle cx="67.3" cy="325.9" r="0.45"/><circle cx="71.6" cy="344.8" r="0.45"/><circle cx="53.6" cy="331.6" r="0.45"/><circle cx="52.4" cy="331.2" r="0.45"/><circle cx="55.7" cy="323.7" r="0.45"/><circle cx="58.2" cy="315.9" r="0.45"/><circle cx="72.1" cy="338.2" r="0.45"/><circle cx="58.1" cy="320.8" r="0.45"/><circle cx="54.3" cy="324.0" r="0.45"/><circle cx="64.1" cy="329.8" r="0.45"/><circle cx="71.2" cy="334.3" r="0.45"/><circle cx="55.6" cy="330.6" r="0.45"/><circle cx="55.3" cy="326.4" r="0.45"/><circle cx="51.3" cy="329.1" r="0.45"/><circle cx="48.2" cy="341.3" r="0.45"/><circle cx="52.9" cy="323.4" r="0.45"/><circle cx="66.9" cy="324.7" r="0.45"/><circle cx="50.7" cy="336.1" r="0.45"/><circle cx="52.5" cy="326.7" r="0.45"/><circle cx="57.0" cy="327.9" r="0.45"/><circle cx="54.7" cy="326.9" r="0.45"/><circle cx="68.2" cy="329.5" r="0.45"/><circle cx="64.1" cy="310.5" r="0.45"/><circle cx="51.1" cy="334.7" r="0.45"/><circle cx="54.7" cy="324.7" r="0.45"/><circle cx="65.4" cy="313.5" r="0.45"/><circle cx="66.0" cy="325.0" r="0.45"/><circle cx="62.2" cy="307.8" r="0.45"/><circle cx="46.8" cy="345.7" r="0.45"/><circle cx="65.7" cy="316.3" r="0.45"/><circle cx="69.6" cy="335.2" r="0.45"/><circle cx="70.7" cy="342.6" r="0.45"/><circle cx="51.7" cy="338.3" r="0.45"/><circle cx="63.8" cy="311.9" r="0.45"/><circle cx="51.1" cy="342.1" r="0.45"/><circle cx="52.9" cy="339.1" r="0.45"/><circle cx="57.4" cy="320.3" r="0.45"/><circle cx="69.6" cy="328.8" r="0.45"/><circle cx="60.0" cy="324.4" r="0.45"/><circle cx="52.0" cy="334.1" r="0.45"/><circle cx="55.8" cy="332.0" r="0.45"/><circle cx="48.3" cy="338.5" r="0.45"/><circle cx="48.6" cy="343.7" r="0.45"/><circle cx="58.7" cy="312.2" r="0.45"/><circle cx="68.7" cy="339.3" r="0.45"/><circle cx="48.0" cy="338.6" r="0.45"/><circle cx="46.6" cy="342.2" r="0.45"/><circle cx="65.8" cy="319.7" r="0.45"/><circle cx="51.8" cy="326.6" r="0.45"/><circle cx="66.2" cy="341.7" r="0.45"/><circle cx="69.9" cy="340.8" r="0.45"/><circle cx="49.3" cy="335.6" r="0.45"/><circle cx="65.2" cy="320.0" r="0.45"/><circle cx="67.9" cy="331.8" r="0.45"/><circle cx="71.2" cy="347.2" r="0.45"/><circle cx="71.5" cy="336.6" r="0.45"/><circle cx="66.8" cy="323.6" r="0.45"/><circle cx="61.3" cy="318.2" r="0.45"/><circle cx="66.2" cy="329.6" r="0.45"/><circle cx="66.5" cy="332.3" r="0.45"/><circle cx="65.8" cy="336.7" r="0.45"/><circle cx="55.2" cy="334.1" r="0.45"/><circle cx="66.6" cy="336.7" r="0.45"/><circle cx="64.8" cy="315.2" r="0.45"/><circle cx="65.7" cy="312.8" r="0.45"/><circle cx="48.2" cy="341.9" r="0.45"/><circle cx="65.1" cy="315.7" r="0.45"/><circle cx="59.8" cy="315.7" r="0.45"/><circle cx="53.9" cy="331.8" r="0.45"/><circle cx="68.8" cy="334.4" r="0.45"/><circle cx="53.8" cy="323.1" r="0.45"/><circle cx="65.9" cy="333.4" r="0.45"/><circle cx="51.8" cy="338.2" r="0.45"/><circle cx="47.1" cy="342.3" r="0.45"/><circle cx="57.9" cy="319.3" r="0.45"/><circle cx="49.8" cy="338.9" r="0.45"/><circle cx="67.1" cy="335.9" r="0.45"/><circle cx="68.2" cy="327.4" r="0.45"/><circle cx="64.8" cy="324.5" r="0.45"/><circle cx="71.9" cy="340.7" r="0.45"/><circle cx="69.9" cy="344.2" r="0.45"/><circle cx="52.6" cy="337.0" r="0.45"/><circle cx="63.9" cy="315.6" r="0.45"/><circle cx="67.9" cy="339.3" r="0.45"/><circle cx="56.4" cy="328.3" r="0.45"/><circle cx="52.1" cy="344.3" r="0.45"/><circle cx="65.3" cy="321.7" r="0.45"/><circle cx="54.2" cy="323.7" r="0.45"/><circle cx="67.0" cy="322.3" r="0.45"/><circle cx="51.2" cy="341.0" r="0.45"/><circle cx="68.7" cy="333.2" r="0.45"/><circle cx="51.2" cy="340.6" r="0.45"/><circle cx="58.9" cy="316.8" r="0.45"/><circle cx="69.5" cy="338.3" r="0.45"/><circle cx="65.4" cy="320.2" r="0.45"/><circle cx="55.1" cy="318.0" r="0.45"/><circle cx="60.4" cy="314.5" r="0.45"/><circle cx="49.2" cy="344.7" r="0.45"/><circle cx="66.3" cy="326.1" r="0.45"/><circle cx="54.2" cy="329.8" r="0.45"/><circle cx="51.7" cy="326.1" r="0.45"/><circle cx="57.8" cy="329.1" r="0.45"/><circle cx="67.8" cy="333.5" r="0.45"/><circle cx="61.3" cy="317.2" r="0.45"/><circle cx="55.9" cy="333.9" r="0.45"/><circle cx="48.4" cy="345.0" r="0.45"/><circle cx="64.1" cy="325.6" r="0.45"/><circle cx="59.4" cy="324.1" r="0.45"/><circle cx="56.9" cy="318.1" r="0.45"/><circle cx="66.7" cy="329.0" r="0.45"/><circle cx="73.1" cy="337.7" r="0.45"/><circle cx="65.8" cy="314.6" r="0.45"/><circle cx="67.4" cy="320.3" r="0.45"/><circle cx="67.6" cy="344.5" r="0.45"/><circle cx="68.3" cy="339.4" r="0.45"/><circle cx="53.0" cy="338.3" r="0.45"/><circle cx="59.4" cy="322.8" r="0.45"/><circle cx="66.0" cy="322.1" r="0.45"/><circle cx="54.1" cy="336.0" r="0.45"/><circle cx="53.8" cy="325.8" r="0.45"/><circle cx="66.2" cy="318.0" r="0.45"/><circle cx="63.7" cy="315.7" r="0.45"/><circle cx="59.6" cy="314.7" r="0.45"/><circle cx="70.9" cy="343.8" r="0.45"/><circle cx="57.4" cy="321.9" r="0.45"/><circle cx="50.7" cy="341.1" r="0.45"/><circle cx="69.2" cy="343.0" r="0.45"/><circle cx="56.5" cy="324.4" r="0.45"/><circle cx="69.8" cy="326.3" r="0.45"/><circle cx="70.6" cy="343.5" r="0.45"/><circle cx="51.3" cy="335.6" r="0.45"/><circle cx="64.3" cy="332.9" r="0.45"/><circle cx="49.6" cy="336.1" r="0.45"/><circle cx="55.6" cy="327.6" r="0.45"/><circle cx="57.3" cy="312.9" r="0.45"/><circle cx="67.6" cy="335.6" r="0.45"/><circle cx="62.5" cy="318.3" r="0.45"/><circle cx="63.2" cy="320.8" r="0.45"/><circle cx="68.5" cy="328.6" r="0.45"/><circle cx="48.8" cy="340.6" r="0.45"/><circle cx="53.1" cy="324.0" r="0.45"/><circle cx="55.1" cy="327.6" r="0.45"/><circle cx="69.8" cy="342.7" r="0.45"/><circle cx="49.2" cy="338.1" r="0.45"/><circle cx="53.6" cy="336.4" r="0.45"/><circle cx="56.7" cy="324.0" r="0.45"/><circle cx="71.7" cy="338.8" r="0.45"/><circle cx="55.6" cy="328.0" r="0.45"/><circle cx="64.1" cy="312.6" r="0.45"/><circle cx="69.8" cy="328.2" r="0.45"/><circle cx="50.7" cy="323.9" r="0.45"/><circle cx="47.4" cy="344.2" r="0.45"/><circle cx="64.5" cy="322.5" r="0.45"/><circle cx="52.5" cy="323.4" r="0.45"/><circle cx="65.6" cy="321.1" r="0.45"/><circle cx="69.2" cy="321.3" r="0.45"/><circle cx="68.5" cy="328.3" r="0.45"/><circle cx="66.2" cy="328.2" r="0.45"/><circle cx="58.2" cy="313.4" r="0.45"/><circle cx="58.1" cy="318.9" r="0.45"/><circle cx="57.1" cy="318.0" r="0.45"/><circle cx="50.0" cy="336.4" r="0.45"/><circle cx="55.7" cy="326.6" r="0.45"/><circle cx="54.3" cy="329.9" r="0.45"/><circle cx="53.2" cy="321.2" r="0.45"/><circle cx="50.8" cy="339.5" r="0.45"/><circle cx="59.7" cy="314.5" r="0.45"/><circle cx="61.8" cy="321.7" r="0.45"/><circle cx="73.7" cy="343.2" r="0.45"/><circle cx="68.2" cy="328.3" r="0.45"/><circle cx="64.2" cy="308.8" r="0.45"/><circle cx="54.2" cy="327.3" r="0.45"/><circle cx="49.9" cy="341.9" r="0.45"/><circle cx="55.6" cy="323.6" r="0.45"/><circle cx="66.8" cy="341.1" r="0.45"/><circle cx="57.2" cy="311.6" r="0.45"/><circle cx="64.3" cy="322.7" r="0.45"/><circle cx="60.6" cy="315.7" r="0.45"/><circle cx="63.6" cy="319.5" r="0.45"/><circle cx="49.9" cy="334.7" r="0.45"/><circle cx="74.8" cy="340.4" r="0.45"/><circle cx="66.7" cy="330.7" r="0.45"/><circle cx="74.7" cy="339.7" r="0.45"/><circle cx="63.7" cy="315.0" r="0.45"/><circle cx="68.2" cy="325.0" r="0.45"/><circle cx="58.9" cy="320.8" r="0.45"/><circle cx="55.8" cy="314.9" r="0.45"/><circle cx="57.0" cy="322.9" r="0.45"/><circle cx="68.2" cy="327.4" r="0.45"/><circle cx="65.1" cy="325.4" r="0.45"/><circle cx="71.6" cy="344.6" r="0.45"/><circle cx="67.8" cy="333.5" r="0.45"/><circle cx="71.6" cy="329.2" r="0.45"/><circle cx="51.6" cy="328.0" r="0.45"/><circle cx="67.2" cy="333.9" r="0.45"/><circle cx="55.2" cy="327.6" r="0.45"/><circle cx="68.9" cy="324.1" r="0.45"/><circle cx="50.8" cy="337.1" r="0.45"/><circle cx="69.5" cy="339.5" r="0.45"/><circle cx="65.5" cy="336.7" r="0.45"/><circle cx="68.5" cy="341.0" r="0.45"/><circle cx="51.1" cy="340.4" r="0.45"/><circle cx="44.6" cy="337.0" r="0.45"/><circle cx="52.2" cy="333.6" r="0.45"/><circle cx="69.9" cy="335.6" r="0.45"/><circle cx="58.8" cy="324.9" r="0.45"/><circle cx="56.3" cy="329.1" r="0.45"/><circle cx="49.1" cy="342.8" r="0.45"/><circle cx="58.8" cy="326.3" r="0.45"/><circle cx="60.3" cy="314.5" r="0.45"/><circle cx="68.3" cy="326.8" r="0.45"/><circle cx="49.6" cy="341.8" r="0.45"/><circle cx="68.2" cy="339.3" r="0.45"/><circle cx="54.7" cy="323.6" r="0.45"/><circle cx="57.4" cy="319.0" r="0.45"/><circle cx="71.7" cy="343.8" r="0.45"/><circle cx="48.1" cy="344.6" r="0.45"/><circle cx="52.1" cy="339.0" r="0.45"/><circle cx="55.0" cy="325.1" r="0.45"/><circle cx="62.8" cy="317.6" r="0.45"/><circle cx="51.7" cy="332.5" r="0.45"/><circle cx="53.2" cy="323.8" r="0.45"/><circle cx="71.1" cy="338.5" r="0.45"/><circle cx="47.1" cy="341.3" r="0.45"/><circle cx="57.8" cy="312.2" r="0.45"/><circle cx="64.5" cy="324.8" r="0.45"/><circle cx="70.1" cy="344.1" r="0.45"/><circle cx="51.7" cy="333.2" r="0.45"/><circle cx="64.2" cy="320.6" r="0.45"/><circle cx="48.7" cy="345.5" r="0.45"/><circle cx="59.7" cy="314.1" r="0.45"/><circle cx="49.9" cy="337.5" r="0.45"/><circle cx="65.9" cy="319.6" r="0.45"/><circle cx="62.3" cy="311.2" r="0.45"/><circle cx="51.8" cy="332.2" r="0.45"/><circle cx="62.0" cy="323.7" r="0.45"/><circle cx="69.5" cy="342.2" r="0.45"/><circle cx="67.2" cy="314.3" r="0.45"/><circle cx="57.2" cy="317.2" r="0.45"/><circle cx="56.2" cy="325.8" r="0.45"/><circle cx="64.6" cy="320.0" r="0.45"/><circle cx="50.2" cy="345.7" r="0.45"/><circle cx="59.8" cy="315.6" r="0.45"/><circle cx="48.5" cy="338.9" r="0.45"/><circle cx="53.5" cy="336.8" r="0.45"/><circle cx="49.6" cy="345.9" r="0.45"/></g>
<path d="M53.9 367.2L53.5 366.9L53.0 366.7L52.2 366.7L51.5 367.0L50.8 367.1L50.1 367.0L49.5 366.8L49.0 366.5L48.5 366.1L48.0 365.6L47.6 365.0L47.3 364.5L47.0 364.0L46.5 363.5L46.0 363.1L45.5 362.8L45.1 362.2L44.8 361.8L44.6 361.0L44.4 360.2L44.2 359.5L44.2 358.8L44.5 358.2L44.6 357.5L44.5 356.8L44.4 356.0L44.4 355.2L44.6 354.5L44.7 353.8L45.0 353.0L45.2 352.5L45.5 352.0L45.7 351.5L45.9 350.8L46.1 350.0L46.4 349.2L46.8 348.8L47.2 348.4L47.8 348.1L48.2 347.8L48.8 347.3L49.2 346.9L49.8 346.7L50.2 346.5L50.8 346.3L51.5 346.0L52.2 345.8L53.0 345.6L53.8 345.4L54.5 345.1L55.2 344.9L56.0 344.6L56.5 344.3L57.0 344.0L57.8 343.8L58.5 344.0L59.2 344.2L60.0 344.5L60.8 344.5L61.5 344.6L62.0 344.9L62.4 345.2L62.9 345.8L63.5 346.1L64.0 346.3L64.8 346.6L65.2 346.9L65.7 347.2L66.2 347.7L66.8 348.1L67.1 348.5L67.4 349.0L67.7 349.8L67.9 350.5L68.2 351.2L68.4 352.0L68.6 352.8L68.8 353.5L69.0 354.0L69.1 354.8L69.1 355.5L69.1 356.2L69.1 357.0L69.1 357.8L69.0 358.5L68.9 359.2L68.7 359.8L68.3 360.2L67.8 360.8L67.5 361.1L67.0 361.8L66.6 362.2L66.2 362.7L65.9 363.2L65.5 363.8L65.1 364.2L64.6 364.8L64.1 365.2L63.5 365.8L63.0 366.1L62.5 366.4L61.8 366.6L61.0 366.8L60.4 367.0L59.8 367.2M56.2 365.3L55.5 365.4L54.8 365.3L54.0 365.1L53.2 364.8L52.5 364.6L51.8 364.6L51.0 364.5L50.3 364.2L49.8 364.0L49.3 363.5L49.1 363.0L48.8 362.2L48.6 361.5L48.3 360.8L47.8 360.2L47.3 359.8L47.0 359.2L46.9 358.5L46.9 357.8L46.9 357.0L46.8 356.2L46.7 355.5L46.7 354.8L46.9 354.0L47.1 353.5L47.5 353.0L47.8 352.5L48.2 352.0L48.4 351.5L48.8 351.0L49.2 350.6L49.8 350.3L50.2 350.0L50.8 349.5L51.2 349.1L51.8 348.9L52.2 348.7L53.0 348.4L53.5 348.2L54.2 347.9L55.0 347.8L55.8 347.6L56.5 347.4L57.2 347.4L58.0 347.4L58.8 347.4L59.5 347.3L60.2 347.5L60.8 347.9L61.1 348.2L61.8 348.6L62.5 348.9L63.2 349.1L63.8 349.3L64.2 349.6L64.8 349.9L65.2 350.5L65.5 351.0L65.7 351.8L65.8 352.5L66.0 353.2L66.2 353.8L66.4 354.5L66.5 355.2L66.6 356.0L66.5 356.8L66.3 357.5L66.0 358.2L65.8 359.0L65.4 359.5L65.0 360.0L64.6 360.5L64.4 361.0L64.2 361.8L64.0 362.2L63.5 362.8L63.0 363.0L62.2 363.2L61.5 363.5L61.0 363.8L60.5 364.2L60.1 364.5L59.5 364.8L59.0 365.0L58.2 365.2L57.5 365.2L56.8 365.2ZM55.2 363.8L54.5 363.7L53.9 363.5L53.3 363.2L52.8 363.1L52.0 362.8L51.5 362.5L51.1 362.2L50.5 361.8L50.0 361.2L49.7 360.8L49.3 360.2L49.0 359.8L48.7 359.2L48.4 358.5L48.3 357.8L48.4 357.0L48.4 356.2L48.4 355.5L48.5 354.8L48.7 354.0L49.0 353.5L49.4 353.0L49.8 352.6L50.1 352.2L50.5 351.9L50.9 351.5L51.4 351.0L52.0 350.5L52.5 350.3L53.2 350.2L54.0 350.2L54.8 350.3L55.5 350.3L56.2 350.2L57.0 350.1L57.5 349.9L58.0 349.6L58.5 349.3L59.2 349.3L59.8 349.5L60.5 349.9L61.0 350.1L61.8 350.4L62.5 350.6L63.0 350.9L63.4 351.5L63.6 352.2L63.7 353.0L63.7 353.8L63.8 354.5L64.1 355.2L64.2 355.9L64.3 356.8L64.3 357.5L64.2 358.2L64.0 358.8L63.7 359.2L63.3 359.8L63.0 360.2L62.5 360.7L62.0 361.0L61.5 361.2L61.0 361.5L60.5 361.9L60.0 362.5L59.5 363.0L59.0 363.3L58.2 363.5L57.5 363.5L56.8 363.4L56.0 363.6L55.2 363.8ZM55.5 362.8L54.8 362.9L54.0 362.8L53.2 362.5L52.5 362.2L52.0 362.0L51.5 361.6L51.0 361.3L50.5 360.8L50.0 360.2L49.6 359.8L49.4 359.2L49.1 358.5L49.0 357.8L49.0 357.0L49.0 356.2L49.1 355.5L49.2 354.8L49.5 354.1L49.9 353.5L50.2 353.1L50.6 352.8L51.0 352.4L51.5 352.0L52.0 351.7L52.5 351.4L53.2 351.2L54.0 351.2L54.8 351.3L55.5 351.3L56.2 351.3L57.0 351.4L57.8 351.4L58.4 351.2L59.2 351.2L60.0 351.5L60.8 351.7L61.5 351.9L61.8 352.4L61.2 352.6L60.5 352.7L60.2 353.2L60.3 354.0L60.5 354.6L60.8 355.2L61.0 355.7L61.2 356.2L61.7 356.8L62.0 357.2L62.0 358.0L61.8 358.7L61.2 359.2L60.9 359.5L60.5 359.9L60.0 360.5L59.5 361.0L59.0 361.5L58.5 361.8L58.0 361.9L57.2 362.1L56.5 362.4L56.0 362.6ZM55.2 362.3L54.5 362.4L53.8 362.2L53.2 362.1L52.8 361.9L52.2 361.6L51.8 361.3L51.2 360.9L50.8 360.5L50.4 360.0L50.0 359.5L49.8 359.1L49.6 358.5L49.5 357.8L49.5 357.0L49.5 356.2L49.6 355.5L49.8 354.8L50.0 354.3L50.3 353.8L50.8 353.3L51.2 352.8L51.7 352.5L52.2 352.1L52.8 351.9L53.5 351.8L54.2 351.8L55.0 351.8L55.8 351.8L56.5 351.9L57.2 352.0L57.8 352.1L58.2 352.3L58.8 352.7L59.1 353.2L59.4 353.8L59.6 354.2L59.8 354.8L60.0 355.3L60.2 356.0L60.3 356.8L60.2 357.4L60.1 358.0L59.9 358.8L59.8 359.3L59.5 359.9L59.1 360.5L58.5 361.0L58.0 361.3L57.5 361.5L56.8 361.7L56.1 362.0L55.5 362.2ZM55.5 361.8L54.8 361.9L54.0 361.9L53.3 361.8L52.8 361.5L52.2 361.2L51.8 360.8L51.2 360.4L50.8 360.0L50.4 359.5L50.1 359.0L49.9 358.2L49.8 357.5L49.8 356.8L49.9 356.0L50.1 355.2L50.4 354.5L50.7 354.0L51.0 353.6L51.5 353.1L52.0 352.8L52.5 352.5L53.2 352.3L54.0 352.2L54.8 352.2L55.5 352.2L56.2 352.3L57.0 352.4L57.8 352.7L58.2 353.0L58.6 353.5L58.9 354.0L59.2 354.5L59.4 355.0L59.6 355.8L59.8 356.4L59.7 357.2L59.5 358.0L59.4 358.8L59.1 359.5L58.9 360.0L58.5 360.5L58.0 360.8L57.5 361.1L56.8 361.3L56.0 361.6ZM55.0 361.5L54.2 361.6L53.6 361.5L53.0 361.3L52.5 361.0L52.0 360.6L51.6 360.2L51.0 359.8L50.6 359.2L50.3 358.8L50.2 358.0L50.1 357.2L50.2 356.5L50.4 355.8L50.6 355.0L50.9 354.5L51.2 354.0L51.5 353.6L51.9 353.2L52.5 352.9L53.2 352.7L54.0 352.6L54.8 352.6L55.5 352.6L56.2 352.7L57.0 352.9L57.5 353.1L58.0 353.5L58.4 354.0L58.7 354.5L58.9 355.0L59.2 355.8L59.3 356.5L59.3 357.2L59.1 358.0L58.9 358.8L58.7 359.5L58.4 360.0L58.0 360.4L57.5 360.7L57.0 360.9L56.2 361.2L55.5 361.4ZM54.8 361.3L54.0 361.3L53.2 361.1L52.8 360.8L52.2 360.4L51.8 360.0L51.2 359.6L50.9 359.2L50.6 358.8L50.4 358.0L50.4 357.2L50.5 356.5L50.7 355.8L51.0 355.2L51.2 354.8L51.4 354.2L51.8 353.8L52.1 353.5L52.8 353.2L53.4 353.0L54.2 352.9L55.0 353.0L55.8 353.0L56.5 353.1L57.2 353.4L57.7 353.8L58.1 354.2L58.4 354.8L58.6 355.2L58.9 356.0L58.9 356.8L58.8 357.5L58.6 358.2L58.4 359.0L58.1 359.8L57.8 360.2L57.3 360.5L56.8 360.7L56.0 361.0L55.2 361.2ZM54.2 361.0L53.5 360.9L53.0 360.6L52.5 360.3L52.0 359.9L51.5 359.5L51.0 359.0L50.8 358.5L50.6 357.8L50.6 357.0L50.9 356.2L51.1 355.8L51.3 355.2L51.5 354.8L51.8 354.2L52.2 353.8L52.7 353.5L53.5 353.3L54.2 353.2L55.0 353.3L55.8 353.3L56.5 353.5L57.1 353.8L57.7 354.2L58.0 354.8L58.2 355.2L58.5 356.0L58.5 356.8L58.4 357.5L58.2 358.1L58.1 358.8L57.8 359.5L57.5 360.0L57.0 360.3L56.5 360.6L55.8 360.8L55.2 360.9L54.5 361.0ZM55.8 360.5L55.0 360.7L54.2 360.7L53.5 360.6L53.0 360.3L52.5 359.9L52.0 359.6L51.5 359.2L51.1 358.8L50.9 358.2L50.8 357.5L50.9 356.8L51.2 356.2L51.4 355.8L51.7 355.2L51.9 354.8L52.2 354.2L52.8 353.8L53.2 353.6L54.0 353.5L54.8 353.5L55.5 353.6L56.2 353.8L56.8 354.0L57.2 354.4L57.6 355.0L57.8 355.5L58.1 356.2L58.1 357.0L57.9 357.8L57.8 358.3L57.6 359.0L57.3 359.8L56.8 360.2L56.2 360.4ZM55.8 360.3L55.0 360.4L54.2 360.4L53.5 360.2L53.0 360.0L52.5 359.6L52.0 359.3L51.5 358.9L51.1 358.2L51.0 357.5L51.2 356.8L51.5 356.2L51.8 355.8L52.1 355.2L52.3 354.8L52.7 354.2L53.2 354.0L54.0 353.8L54.8 353.8L55.5 354.0L56.2 354.2L56.7 354.5L57.2 355.0L57.4 355.5L57.6 356.2L57.6 357.0L57.3 357.8L57.1 358.5L57.1 359.2L56.8 359.8L56.2 360.1ZM55.5 360.0L54.8 360.1L54.0 360.1L53.2 359.8L52.8 359.5L52.2 359.2L51.8 358.8L51.4 358.2L51.2 357.5L51.5 356.8L51.8 356.2L52.2 355.8L52.6 355.2L52.8 354.8L53.2 354.4L54.0 354.1L54.8 354.2L55.5 354.4L56.2 354.7L56.8 355.2L57.0 355.8L57.0 356.5L56.5 357.0L56.0 357.5L56.2 358.1L56.5 358.6L56.4 359.5L56.0 359.8ZM55.0 359.8L54.2 359.8L53.5 359.5L53.0 359.3L52.5 359.0L52.0 358.6L51.7 358.2L51.5 357.5L51.8 356.8L52.2 356.3L52.7 356.0L53.1 355.5L53.4 355.0L54.0 354.6L54.8 354.6L55.5 354.8L56.0 355.2L56.3 355.8L56.1 356.2L55.5 356.6L55.2 357.0L55.2 357.6L55.6 358.2L55.9 358.8L55.8 359.5L55.2 359.7ZM55.0 359.3L54.2 359.4L53.5 359.1L53.0 358.9L52.5 358.6L52.0 358.2L51.8 357.8L52.0 357.0L52.5 356.6L53.0 356.4L53.5 356.2L54.0 355.8L54.4 355.2L55.2 355.5L55.0 356.0L54.5 356.4L54.5 357.1L54.7 357.8L55.0 358.2L55.2 358.7L55.0 359.3ZM54.2 358.8L53.5 358.6L52.8 358.3L52.3 358.0L52.3 357.2L52.9 357.0L53.8 357.2L54.2 357.8L54.4 358.2Z" fill="none" stroke="#111" stroke-width="0.6"/>
<path d="M27 313V342.2H84.8V301.6" fill="none" stroke="#4d4d4d" stroke-width="0.9"/>
<text x="28.6" y="309.5" font-size="7.4" text-anchor="start" font-weight="normal" fill="#1a1a1a" >6.1</text>
<rect x="23.2" y="301.2" width="67.0" height="67.0" fill="none" stroke="#111" stroke-width="1.15"/>
<path d="M20.2 307.4H23.2M21.3 317.6H23.2M21.3 315.0H23.2M21.3 313.2H23.2M21.3 311.8H23.2M21.3 310.6H23.2M21.3 309.6H23.2M21.3 308.8H23.2M21.3 308.0H23.2M20.2 322.0H23.2M21.3 332.6H23.2M21.3 329.9H23.2M21.3 328.0H23.2M21.3 326.5H23.2M21.3 325.3H23.2M21.3 324.3H23.2M21.3 323.4H23.2M21.3 322.7H23.2M20.2 337.2H23.2M21.3 348.2H23.2M21.3 345.4H23.2M21.3 343.4H23.2M21.3 341.9H23.2M21.3 340.7H23.2M21.3 339.6H23.2M21.3 338.7H23.2M21.3 337.9H23.2M20.2 352.9H23.2M20.2 360.7H23.2M21.3 355.3H23.2M21.3 356.6H23.2M21.3 357.6H23.2M21.3 358.4H23.2M21.3 359.0H23.2M21.3 359.5H23.2M21.3 359.9H23.2M21.3 360.3H23.2M37.2 368.2V371.2M41.8 368.2V370.09999999999997M44.5 368.2V370.09999999999997M46.4 368.2V370.09999999999997M47.8 368.2V370.09999999999997M49.0 368.2V370.09999999999997M50.1 368.2V370.09999999999997M50.9 368.2V370.09999999999997M51.7 368.2V370.09999999999997M52.4 368.2V371.2M57.1 368.2V370.09999999999997M59.9 368.2V370.09999999999997M61.8 368.2V370.09999999999997M63.3 368.2V370.09999999999997M64.6 368.2V370.09999999999997M65.6 368.2V370.09999999999997M66.5 368.2V370.09999999999997M67.3 368.2V370.09999999999997M68.0 368.2V371.2M72.7 368.2V370.09999999999997M75.4 368.2V370.09999999999997M77.3 368.2V370.09999999999997M78.8 368.2V370.09999999999997M80.1 368.2V370.09999999999997M81.1 368.2V370.09999999999997M82.0 368.2V370.09999999999997M82.8 368.2V370.09999999999997M83.5 368.2V371.2M29.3 368.2V371.2M31.7 368.2V370.09999999999997M33.1 368.2V370.09999999999997M34.1 368.2V370.09999999999997M34.8 368.2V370.09999999999997M35.4 368.2V370.09999999999997M36.0 368.2V370.09999999999997M36.4 368.2V370.09999999999997M36.8 368.2V370.09999999999997" stroke="#111" stroke-width="1.0" fill="none"/>
<text x="16.8" y="309.3" font-size="6.9" text-anchor="end" font-weight="normal" fill="#1a1a1a" letter-spacing="0.3">10</text>
<text x="17.1" y="305.9" font-size="4.3" text-anchor="start" font-weight="normal" fill="#1a1a1a" >5</text>
<text x="16.8" y="323.9" font-size="6.9" text-anchor="end" font-weight="normal" fill="#1a1a1a" letter-spacing="0.3">10</text>
<text x="17.1" y="320.5" font-size="4.3" text-anchor="start" font-weight="normal" fill="#1a1a1a" >4</text>
<text x="16.8" y="339.1" font-size="6.9" text-anchor="end" font-weight="normal" fill="#1a1a1a" letter-spacing="0.3">10</text>
<text x="17.1" y="335.7" font-size="4.3" text-anchor="start" font-weight="normal" fill="#1a1a1a" >3</text>
<text x="16.8" y="354.8" font-size="6.9" text-anchor="end" font-weight="normal" fill="#1a1a1a" letter-spacing="0.3">10</text>
<text x="17.1" y="351.4" font-size="4.3" text-anchor="start" font-weight="normal" fill="#1a1a1a" >2</text>
<text x="16.3" y="362.6" font-size="6.9" text-anchor="end" font-weight="normal" fill="#1a1a1a" >0</text>
<text x="29.3" y="378.7" font-size="7.0" text-anchor="middle" font-weight="normal" fill="#1a1a1a" >0</text>
<text x="37.2" y="378.7" font-size="7.0" text-anchor="middle" font-weight="normal" fill="#1a1a1a" letter-spacing="0.2">10</text>
<text x="41.6" y="374.7" font-size="4.4" text-anchor="start" font-weight="normal" fill="#1a1a1a" >2</text>
<text x="52.4" y="378.7" font-size="7.0" text-anchor="middle" font-weight="normal" fill="#1a1a1a" letter-spacing="0.2">10</text>
<text x="56.8" y="374.7" font-size="4.4" text-anchor="start" font-weight="normal" fill="#1a1a1a" >3</text>
<text x="68.0" y="378.7" font-size="7.0" text-anchor="middle" font-weight="normal" fill="#1a1a1a" letter-spacing="0.2">10</text>
<text x="72.4" y="374.7" font-size="4.4" text-anchor="start" font-weight="normal" fill="#1a1a1a" >4</text>
<text x="83.5" y="378.7" font-size="7.0" text-anchor="middle" font-weight="normal" fill="#1a1a1a" letter-spacing="0.2">10</text>
<text x="87.9" y="374.7" font-size="4.4" text-anchor="start" font-weight="normal" fill="#1a1a1a" >5</text>
<g fill="#333"><circle cx="137.7" cy="351.8" r="0.45"/><circle cx="137.3" cy="331.5" r="0.45"/><circle cx="140.6" cy="332.7" r="0.45"/><circle cx="126.5" cy="331.8" r="0.45"/><circle cx="129.1" cy="331.1" r="0.45"/><circle cx="137.9" cy="335.8" r="0.45"/><circle cx="142.3" cy="334.0" r="0.45"/><circle cx="136.7" cy="337.4" r="0.45"/><circle cx="124.3" cy="338.6" r="0.45"/><circle cx="140.3" cy="328.4" r="0.45"/><circle cx="124.5" cy="343.2" r="0.45"/><circle cx="122.7" cy="340.1" r="0.45"/><circle cx="141.9" cy="334.4" r="0.45"/><circle cx="137.1" cy="319.6" r="0.45"/><circle cx="130.5" cy="332.6" r="0.45"/><circle cx="138.3" cy="335.0" r="0.45"/><circle cx="138.1" cy="337.1" r="0.45"/><circle cx="130.2" cy="339.4" r="0.45"/><circle cx="135.3" cy="334.8" r="0.45"/><circle cx="138.0" cy="328.8" r="0.45"/><circle cx="130.7" cy="337.5" r="0.45"/><circle cx="133.6" cy="321.5" r="0.45"/><circle cx="142.0" cy="333.9" r="0.45"/><circle cx="136.7" cy="302.9" r="0.45"/><circle cx="139.3" cy="330.0" r="0.45"/><circle cx="127.3" cy="333.0" r="0.45"/><circle cx="137.3" cy="315.0" r="0.45"/><circle cx="137.4" cy="319.3" r="0.45"/><circle cx="137.9" cy="337.8" r="0.45"/><circle cx="138.4" cy="342.9" r="0.45"/><circle cx="127.6" cy="329.8" r="0.45"/><circle cx="135.2" cy="330.4" r="0.45"/><circle cx="132.2" cy="322.8" r="0.45"/><circle cx="138.1" cy="339.7" r="0.45"/><circle cx="126.7" cy="333.0" r="0.45"/><circle cx="139.0" cy="334.6" r="0.45"/><circle cx="136.0" cy="330.5" r="0.45"/><circle cx="130.3" cy="336.7" r="0.45"/><circle cx="129.8" cy="327.9" r="0.45"/><circle cx="133.5" cy="331.2" r="0.45"/><circle cx="121.2" cy="341.6" r="0.45"/><circle cx="140.0" cy="337.0" r="0.45"/><circle cx="129.6" cy="321.6" r="0.45"/><circle cx="127.7" cy="331.8" r="0.45"/><circle cx="136.8" cy="333.9" r="0.45"/><circle cx="131.0" cy="321.8" r="0.45"/><circle cx="132.3" cy="324.7" r="0.45"/><circle cx="141.3" cy="337.8" r="0.45"/><circle cx="141.3" cy="334.6" r="0.45"/><circle cx="125.2" cy="347.3" r="0.45"/><circle cx="129.8" cy="341.8" r="0.45"/><circle cx="126.7" cy="329.7" r="0.45"/><circle cx="130.6" cy="324.3" r="0.45"/><circle cx="126.4" cy="344.9" r="0.45"/><circle cx="135.5" cy="336.2" r="0.45"/><circle cx="135.3" cy="330.8" r="0.45"/><circle cx="131.6" cy="337.7" r="0.45"/><circle cx="133.4" cy="327.1" r="0.45"/><circle cx="136.7" cy="338.4" r="0.45"/><circle cx="140.3" cy="328.9" r="0.45"/><circle cx="144.9" cy="336.5" r="0.45"/><circle cx="138.0" cy="341.1" r="0.45"/><circle cx="124.8" cy="332.2" r="0.45"/><circle cx="138.6" cy="350.5" r="0.45"/><circle cx="138.7" cy="330.1" r="0.45"/><circle cx="140.1" cy="336.2" r="0.45"/><circle cx="125.9" cy="342.4" r="0.45"/><circle cx="133.5" cy="331.3" r="0.45"/><circle cx="126.7" cy="330.1" r="0.45"/><circle cx="138.9" cy="329.9" r="0.45"/><circle cx="126.8" cy="324.7" r="0.45"/><circle cx="127.0" cy="329.1" r="0.45"/><circle cx="130.3" cy="339.7" r="0.45"/><circle cx="141.7" cy="329.0" r="0.45"/><circle cx="131.2" cy="337.0" r="0.45"/><circle cx="135.4" cy="335.5" r="0.45"/><circle cx="126.8" cy="335.4" r="0.45"/><circle cx="137.3" cy="324.5" r="0.45"/><circle cx="128.4" cy="328.7" r="0.45"/><circle cx="141.8" cy="333.5" r="0.45"/><circle cx="138.2" cy="332.3" r="0.45"/><circle cx="134.5" cy="337.9" r="0.45"/><circle cx="136.2" cy="334.6" r="0.45"/><circle cx="134.0" cy="329.8" r="0.45"/><circle cx="133.5" cy="341.8" r="0.45"/><circle cx="133.8" cy="332.0" r="0.45"/><circle cx="124.4" cy="339.2" r="0.45"/><circle cx="132.4" cy="335.8" r="0.45"/><circle cx="142.0" cy="338.0" r="0.45"/><circle cx="132.4" cy="340.0" r="0.45"/><circle cx="124.7" cy="333.2" r="0.45"/><circle cx="132.2" cy="341.1" r="0.45"/><circle cx="133.4" cy="331.9" r="0.45"/><circle cx="133.5" cy="320.9" r="0.45"/><circle cx="128.6" cy="332.5" r="0.45"/><circle cx="138.6" cy="338.4" r="0.45"/><circle cx="126.9" cy="344.0" r="0.45"/><circle cx="135.7" cy="338.3" r="0.45"/><circle cx="138.5" cy="337.4" r="0.45"/><circle cx="138.5" cy="340.5" r="0.45"/><circle cx="129.0" cy="339.5" r="0.45"/><circle cx="130.8" cy="336.6" r="0.45"/><circle cx="125.8" cy="328.0" r="0.45"/><circle cx="122.9" cy="337.6" r="0.45"/><circle cx="136.8" cy="323.2" r="0.45"/><circle cx="137.8" cy="337.7" r="0.45"/><circle cx="130.1" cy="335.6" r="0.45"/><circle cx="125.9" cy="336.0" r="0.45"/><circle cx="133.1" cy="319.1" r="0.45"/><circle cx="132.9" cy="327.6" r="0.45"/><circle cx="128.7" cy="328.4" r="0.45"/><circle cx="133.1" cy="330.9" r="0.45"/><circle cx="132.4" cy="328.9" r="0.45"/><circle cx="134.0" cy="318.8" r="0.45"/><circle cx="134.1" cy="342.1" r="0.45"/><circle cx="135.0" cy="343.4" r="0.45"/><circle cx="140.5" cy="348.7" r="0.45"/><circle cx="127.1" cy="351.7" r="0.45"/><circle cx="137.7" cy="350.9" r="0.45"/><circle cx="137.9" cy="344.1" r="0.45"/><circle cx="140.9" cy="344.1" r="0.45"/><circle cx="139.3" cy="349.4" r="0.45"/><circle cx="127.0" cy="351.4" r="0.45"/><circle cx="131.4" cy="340.3" r="0.45"/><circle cx="140.3" cy="349.6" r="0.45"/><circle cx="147.7" cy="360.1" r="0.45"/><circle cx="115.6" cy="357.3" r="0.45"/><circle cx="115.6" cy="357.6" r="0.45"/><circle cx="149.0" cy="354.0" r="0.45"/><circle cx="109.8" cy="361.7" r="0.45"/><circle cx="150.6" cy="348.7" r="0.45"/><circle cx="117.6" cy="355.9" r="0.45"/><circle cx="158.5" cy="357.4" r="0.45"/><circle cx="144.7" cy="352.3" r="0.45"/><circle cx="146.6" cy="354.4" r="0.45"/><circle cx="123.7" cy="349.6" r="0.45"/><circle cx="146.6" cy="355.9" r="0.45"/><circle cx="145.2" cy="363.4" r="0.45"/><circle cx="118.6" cy="351.5" r="0.45"/><circle cx="120.9" cy="353.4" r="0.45"/><circle cx="148.6" cy="361.9" r="0.45"/></g>
<path d="M132.3 353.0L131.6 353.0L130.8 352.9L130.1 352.8L129.3 352.5L128.8 352.3L128.3 351.9L127.9 351.5L127.4 351.0L127.0 350.5L126.7 350.0L126.4 349.5L126.2 348.8L126.2 348.0L126.3 347.2L126.5 346.5L126.7 346.0L127.0 345.5L127.4 345.0L127.8 344.6L128.2 344.2L128.8 343.8L129.3 343.5L129.8 343.3L130.6 343.1L131.3 342.9L132.1 342.9L132.8 342.9L133.6 343.0L134.3 343.1L135.1 343.4L135.6 343.7L136.1 344.2L136.5 344.8L136.8 345.2L137.2 345.8L137.4 346.2L137.6 347.0L137.8 347.8L137.8 348.5L137.6 349.2L137.3 350.0L137.1 350.5L136.7 351.0L136.3 351.4L135.9 351.8L135.3 352.1L134.8 352.4L134.3 352.7L133.6 352.9L132.8 353.0ZM133.1 351.5L132.3 351.6L131.6 351.6L130.8 351.3L130.3 351.1L129.8 350.9L129.3 350.5L128.8 350.1L128.3 349.5L128.1 349.0L127.9 348.2L128.0 347.5L128.3 346.8L128.6 346.4L129.0 345.8L129.6 345.3L130.0 345.0L130.6 344.8L131.3 344.7L132.1 344.7L132.8 344.8L133.6 344.9L134.3 345.1L134.8 345.3L135.3 345.7L135.8 346.2L136.0 346.8L136.1 347.5L136.1 348.2L136.0 349.0L135.8 349.6L135.6 350.0L135.2 350.5L134.6 350.9L134.1 351.2L133.3 351.5Z" fill="none" stroke="#888" stroke-width="0.45"/>
<path d="M122.4 367.2L121.8 367.1L121.0 366.8L120.5 366.5L120.1 366.2L119.5 365.8L119.0 365.4L118.6 365.0L118.1 364.5L117.5 364.0L117.2 363.5L117.0 362.8L116.9 362.0L116.9 361.2L117.0 360.5L117.2 359.8L117.5 359.0L117.8 358.2L118.0 357.8L118.5 357.3L119.0 356.9L119.5 356.5L119.8 356.1L120.1 355.8L120.5 355.3L121.0 354.9L121.5 354.7L122.3 354.4L122.8 354.2L123.3 353.9L123.8 353.6L124.5 353.3L125.3 353.2L126.0 353.1L126.8 352.9L127.5 352.7L128.2 352.5L128.8 352.4L129.6 352.3L130.3 352.3L131.1 352.2L131.8 352.1L132.6 352.1L133.3 352.2L134.1 352.5L134.8 352.5L135.6 352.3L136.3 352.3L137.1 352.4L137.6 352.6L138.1 352.8L138.8 353.1L139.6 353.2L140.3 353.3L141.1 353.4L141.6 353.6L142.1 353.9L142.5 354.2L143.1 354.7L143.5 355.2L143.8 355.7L144.1 356.2L144.6 356.7L145.1 357.2L145.4 357.8L145.6 358.5L145.4 359.2L145.2 360.0L145.1 360.6L144.9 361.2L144.8 362.0L144.6 362.5L144.2 363.0L143.6 363.5L143.1 363.8L142.6 364.2L142.2 364.5L141.6 365.0L141.1 365.2L140.3 365.5L139.6 365.7L139.1 365.9L138.6 366.2L138.1 366.4L137.6 366.7L136.8 366.9L136.1 367.1L135.3 367.0L134.6 367.0L133.8 367.0L133.1 367.1L132.3 367.2M130.3 365.8L129.6 365.8L128.8 365.8L128.1 365.7L127.3 365.6L126.5 365.4L125.8 365.3L125.0 365.0L124.5 364.8L123.8 364.6L123.0 364.3L122.5 364.1L122.0 363.8L121.6 363.2L121.3 362.8L121.1 362.2L120.9 361.5L120.8 360.8L120.7 360.0L120.6 359.2L120.6 358.5L120.8 358.0L121.3 357.5L121.8 357.1L122.3 356.8L122.8 356.6L123.3 356.3L123.8 356.1L124.3 355.9L124.8 355.6L125.3 355.4L126.0 355.1L126.8 354.8L127.3 354.6L128.1 354.3L128.8 354.2L129.6 354.3L130.3 354.3L131.1 354.3L131.8 354.1L132.6 354.0L133.3 354.0L134.1 354.1L134.8 354.3L135.6 354.5L136.3 354.6L136.9 354.8L137.6 354.8L138.3 355.0L139.1 355.2L139.6 355.5L140.1 355.9L140.5 356.5L140.8 357.0L141.1 357.4L141.3 357.9L141.6 358.4L142.0 359.0L142.3 359.5L142.5 360.0L142.3 360.6L141.8 361.0L141.3 361.5L140.9 362.0L140.6 362.5L140.1 363.0L139.6 363.3L139.1 363.5L138.6 363.8L138.1 364.1L137.6 364.4L137.1 364.6L136.3 364.9L135.6 365.1L134.8 365.2L134.1 365.3L133.3 365.4L132.6 365.5L131.8 365.6L131.1 365.7L130.3 365.8ZM131.6 364.5L130.8 364.6L130.1 364.7L129.3 364.7L128.6 364.7L127.8 364.6L127.0 364.4L126.4 364.2L125.8 364.1L125.0 363.8L124.5 363.6L124.0 363.4L123.5 363.1L123.1 362.8L122.8 362.3L122.6 361.8L122.5 361.0L122.4 360.2L122.5 359.5L122.8 358.8L123.1 358.2L123.5 357.8L124.0 357.3L124.5 357.0L125.0 356.8L125.5 356.5L126.0 356.3L126.5 356.1L127.3 355.8L128.1 355.6L128.8 355.4L129.6 355.4L130.3 355.4L131.1 355.4L131.8 355.3L132.6 355.2L133.3 355.2L134.1 355.3L134.6 355.5L135.1 355.8L135.6 356.1L136.1 356.3L136.7 356.5L137.6 356.7L138.3 357.0L138.7 357.5L138.9 358.2L138.9 359.0L139.0 359.8L139.1 360.5L139.0 361.2L138.6 361.8L138.1 362.1L137.6 362.4L137.1 362.8L136.6 363.1L136.1 363.3L135.5 363.5L134.8 363.7L134.1 363.9L133.3 364.2L132.6 364.4L131.8 364.5ZM131.3 364.1L130.6 364.2L129.8 364.2L129.1 364.2L128.3 364.2L127.5 364.1L126.8 363.9L126.0 363.7L125.3 363.4L124.8 363.2L124.3 362.9L123.8 362.5L123.4 362.0L123.2 361.2L123.1 360.5L123.2 359.8L123.4 359.0L123.7 358.5L124.0 358.0L124.5 357.6L125.0 357.3L125.5 357.0L126.0 356.8L126.5 356.6L127.0 356.4L127.8 356.1L128.6 355.9L129.3 355.9L130.1 355.9L130.8 355.9L131.6 355.9L132.3 355.8L133.1 355.9L133.7 356.0L134.3 356.2L134.8 356.6L135.3 356.9L135.8 357.2L136.3 357.6L136.8 358.0L137.1 358.5L137.3 359.2L137.2 360.0L136.9 360.8L136.6 361.2L136.2 361.8L135.8 362.1L135.3 362.5L134.8 362.8L134.3 363.1L133.8 363.3L133.3 363.5L132.7 363.8L132.1 363.9L131.3 364.1ZM131.1 363.8L130.3 363.9L129.6 363.9L128.8 363.9L128.1 363.8L127.3 363.7L126.6 363.5L125.9 363.2L125.3 363.0L124.8 362.8L124.3 362.4L123.9 362.0L123.7 361.5L123.6 360.8L123.7 360.0L123.8 359.4L124.0 358.8L124.4 358.2L124.8 357.9L125.3 357.6L125.8 357.3L126.3 357.0L126.8 356.8L127.3 356.6L128.1 356.4L128.7 356.2L129.6 356.2L130.3 356.2L131.1 356.2L131.8 356.2L132.6 356.2L133.3 356.3L134.1 356.6L134.6 356.9L135.0 357.2L135.6 357.7L136.1 358.2L136.3 358.8L136.5 359.5L136.3 360.2L136.1 360.8L135.8 361.2L135.4 361.8L135.1 362.1L134.6 362.5L134.1 362.8L133.6 363.0L133.1 363.2L132.3 363.5L131.6 363.7ZM130.8 363.5L130.1 363.6L129.3 363.6L128.6 363.6L127.8 363.5L127.0 363.3L126.3 363.1L125.8 362.9L125.3 362.6L124.8 362.4L124.4 362.0L124.1 361.5L124.0 360.8L124.0 360.0L124.2 359.2L124.5 358.8L124.8 358.3L125.2 358.0L125.8 357.6L126.3 357.3L126.8 357.1L127.3 356.9L128.1 356.6L128.8 356.5L129.6 356.5L130.3 356.4L131.1 356.4L131.8 356.5L132.6 356.5L133.3 356.7L134.0 357.0L134.6 357.3L135.0 357.8L135.5 358.2L135.7 358.8L135.9 359.5L135.8 360.2L135.6 360.8L135.3 361.2L134.9 361.8L134.3 362.2L133.8 362.6L133.3 362.8L132.8 363.1L132.1 363.2L131.6 363.4L130.8 363.5ZM130.8 363.3L130.1 363.4L129.3 363.4L128.6 363.3L127.8 363.2L127.0 363.1L126.3 362.8L125.8 362.6L125.3 362.3L124.8 361.9L124.5 361.5L124.3 360.8L124.4 360.0L124.5 359.4L124.8 358.9L125.3 358.3L125.8 358.0L126.3 357.7L126.8 357.4L127.3 357.1L128.1 356.9L128.8 356.8L129.6 356.7L130.3 356.7L131.1 356.7L131.8 356.7L132.6 356.8L133.3 357.0L133.8 357.2L134.2 357.5L134.8 358.0L135.1 358.4L135.3 359.0L135.4 359.8L135.2 360.5L135.0 361.0L134.7 361.5L134.3 361.9L133.8 362.2L133.3 362.5L132.8 362.8L132.1 363.0L131.3 363.2ZM131.1 363.0L130.3 363.1L129.6 363.1L128.8 363.1L128.1 363.0L127.3 362.9L126.5 362.6L126.0 362.4L125.5 362.1L125.1 361.8L124.8 361.3L124.7 360.8L124.7 360.0L124.9 359.2L125.3 358.8L125.8 358.3L126.2 358.0L126.8 357.6L127.3 357.4L128.1 357.1L128.8 357.0L129.6 357.0L130.3 357.0L131.1 356.9L131.8 356.9L132.5 357.0L133.1 357.1L133.6 357.4L134.1 357.7L134.5 358.2L134.8 358.8L134.9 359.5L134.9 360.2L134.6 361.0L134.3 361.5L133.8 361.9L133.3 362.2L132.8 362.5L132.3 362.7L131.6 362.9ZM131.1 362.8L130.3 362.9L129.6 362.9L128.8 362.9L128.1 362.8L127.3 362.6L126.5 362.3L126.0 362.1L125.6 361.8L125.2 361.2L125.0 360.5L125.1 359.8L125.3 359.2L125.7 358.8L126.3 358.3L126.8 357.9L127.3 357.6L127.8 357.4L128.5 357.2L129.3 357.2L130.1 357.2L130.8 357.2L131.6 357.2L132.3 357.2L133.1 357.4L133.6 357.6L134.0 358.0L134.3 358.5L134.5 359.0L134.5 359.8L134.4 360.5L134.1 361.2L133.7 361.8L133.1 362.2L132.6 362.4L131.8 362.6L131.2 362.8ZM131.1 362.5L130.3 362.7L129.6 362.7L128.8 362.6L128.1 362.5L127.3 362.3L126.6 362.0L126.0 361.7L125.6 361.2L125.4 360.8L125.4 360.0L125.5 359.4L125.9 359.0L126.3 358.6L126.7 358.2L127.3 357.9L127.8 357.6L128.6 357.5L129.3 357.5L130.1 357.5L130.8 357.5L131.6 357.4L132.3 357.4L133.1 357.6L133.6 358.0L134.0 358.5L134.1 359.2L134.1 360.0L134.1 360.6L133.8 361.2L133.3 361.7L132.8 362.0L132.3 362.2L131.6 362.4ZM130.8 362.3L130.1 362.4L129.3 362.4L128.6 362.2L127.8 362.1L127.0 361.8L126.5 361.6L126.1 361.2L125.8 360.8L125.7 360.0L126.0 359.3L126.5 358.8L127.0 358.4L127.5 358.0L128.3 357.8L129.1 357.8L129.8 357.9L130.6 357.8L131.3 357.7L132.1 357.6L132.7 357.8L133.1 358.0L133.6 358.4L133.7 359.0L133.7 359.8L133.7 360.5L133.4 361.2L132.8 361.7L132.3 361.9L131.6 362.1L130.8 362.3ZM130.3 362.0L129.6 362.0L128.8 361.9L128.2 361.8L127.5 361.5L127.0 361.3L126.6 361.0L126.2 360.5L126.3 359.8L126.5 359.3L127.0 358.8L127.5 358.4L128.1 358.1L128.8 358.1L129.6 358.2L130.3 358.3L131.1 358.1L131.8 357.9L132.5 358.0L132.9 358.2L133.3 358.8L133.3 359.5L133.3 360.2L133.1 361.0L132.6 361.5L131.8 361.7L131.1 361.9L130.3 362.0ZM130.8 361.5L130.1 361.6L129.3 361.6L128.6 361.3L128.1 361.0L127.5 360.8L127.0 360.4L127.0 359.7L127.3 359.2L127.8 358.8L128.3 358.5L129.1 358.5L129.8 358.6L130.6 358.7L131.3 358.5L132.1 358.4L132.7 358.8L132.7 359.5L132.7 360.2L132.6 360.8L132.1 361.2L131.3 361.4ZM130.8 361.0L130.1 361.2L129.3 361.1L128.8 360.8L128.4 360.5L128.1 360.0L128.3 359.3L128.8 359.0L129.6 359.0L130.3 359.1L131.1 359.1L131.7 359.2L131.9 360.0L131.6 360.7L131.1 360.9ZM130.6 360.6L129.8 360.7L129.2 360.5L128.9 360.0L129.3 359.5L130.1 359.4L130.8 359.7L130.8 360.4Z" fill="none" stroke="#111" stroke-width="0.6"/>
<rect x="102.3" y="302.8" width="55.39999999999999" height="48.5" fill="none" stroke="#4d4d4d" stroke-width="0.9"/>
<text x="107.1" y="311.9" font-size="7.4" text-anchor="start" font-weight="normal" fill="#1a1a1a" >1.5</text>
<rect x="97.5" y="301.2" width="67.4" height="67.0" fill="none" stroke="#111" stroke-width="1.15"/>
<path d="M94.5 307.4H97.5M95.6 317.6H97.5M95.6 315.0H97.5M95.6 313.2H97.5M95.6 311.8H97.5M95.6 310.6H97.5M95.6 309.6H97.5M95.6 308.8H97.5M95.6 308.0H97.5M94.5 322.0H97.5M95.6 332.6H97.5M95.6 329.9H97.5M95.6 328.0H97.5M95.6 326.5H97.5M95.6 325.3H97.5M95.6 324.3H97.5M95.6 323.4H97.5M95.6 322.7H97.5M94.5 337.2H97.5M95.6 348.2H97.5M95.6 345.4H97.5M95.6 343.4H97.5M95.6 341.9H97.5M95.6 340.7H97.5M95.6 339.6H97.5M95.6 338.7H97.5M95.6 337.9H97.5M94.5 352.9H97.5M94.5 360.7H97.5M95.6 355.3H97.5M95.6 356.6H97.5M95.6 357.6H97.5M95.6 358.4H97.5M95.6 359.0H97.5M95.6 359.5H97.5M95.6 359.9H97.5M95.6 360.3H97.5M111.6 368.2V371.2M116.2 368.2V370.09999999999997M118.9 368.2V370.09999999999997M120.8 368.2V370.09999999999997M122.3 368.2V370.09999999999997M123.5 368.2V370.09999999999997M124.5 368.2V370.09999999999997M125.4 368.2V370.09999999999997M126.2 368.2V370.09999999999997M126.9 368.2V371.2M131.6 368.2V370.09999999999997M134.4 368.2V370.09999999999997M136.3 368.2V370.09999999999997M137.9 368.2V370.09999999999997M139.1 368.2V370.09999999999997M140.2 368.2V370.09999999999997M141.1 368.2V370.09999999999997M141.9 368.2V370.09999999999997M142.6 368.2V371.2M147.3 368.2V370.09999999999997M150.0 368.2V370.09999999999997M152.0 368.2V370.09999999999997M153.5 368.2V370.09999999999997M154.7 368.2V370.09999999999997M155.7 368.2V370.09999999999997M156.7 368.2V370.09999999999997M157.4 368.2V370.09999999999997M158.2 368.2V371.2M103.6 368.2V371.2M106.0 368.2V370.09999999999997M107.4 368.2V370.09999999999997M108.4 368.2V370.09999999999997M109.2 368.2V370.09999999999997M109.8 368.2V370.09999999999997M110.4 368.2V370.09999999999997M110.8 368.2V370.09999999999997M111.2 368.2V370.09999999999997" stroke="#111" stroke-width="1.0" fill="none"/>
<text x="103.6" y="378.7" font-size="7.0" text-anchor="middle" font-weight="normal" fill="#1a1a1a" >0</text>
<text x="111.6" y="378.7" font-size="7.0" text-anchor="middle" font-weight="normal" fill="#1a1a1a" letter-spacing="0.2">10</text>
<text x="116.0" y="374.7" font-size="4.4" text-anchor="start" font-weight="normal" fill="#1a1a1a" >2</text>
<text x="126.9" y="378.7" font-size="7.0" text-anchor="middle" font-weight="normal" fill="#1a1a1a" letter-spacing="0.2">10</text>
<text x="131.3" y="374.7" font-size="4.4" text-anchor="start" font-weight="normal" fill="#1a1a1a" >3</text>
<text x="142.6" y="378.7" font-size="7.0" text-anchor="middle" font-weight="normal" fill="#1a1a1a" letter-spacing="0.2">10</text>
<text x="147.0" y="374.7" font-size="4.4" text-anchor="start" font-weight="normal" fill="#1a1a1a" >4</text>
<text x="158.2" y="378.7" font-size="7.0" text-anchor="middle" font-weight="normal" fill="#1a1a1a" letter-spacing="0.2">10</text>
<text x="162.6" y="374.7" font-size="4.4" text-anchor="start" font-weight="normal" fill="#1a1a1a" >5</text>
<g fill="#333"><circle cx="211.3" cy="328.7" r="0.45"/><circle cx="216.1" cy="327.9" r="0.45"/><circle cx="206.2" cy="329.6" r="0.45"/><circle cx="208.9" cy="328.6" r="0.45"/><circle cx="202.6" cy="326.6" r="0.45"/><circle cx="207.1" cy="331.1" r="0.45"/><circle cx="208.5" cy="329.1" r="0.45"/><circle cx="214.9" cy="334.6" r="0.45"/><circle cx="221.2" cy="315.1" r="0.45"/><circle cx="206.4" cy="325.3" r="0.45"/><circle cx="205.6" cy="329.2" r="0.45"/><circle cx="214.6" cy="332.3" r="0.45"/><circle cx="212.3" cy="332.0" r="0.45"/><circle cx="210.6" cy="318.7" r="0.45"/><circle cx="213.2" cy="328.2" r="0.45"/><circle cx="207.0" cy="322.6" r="0.45"/><circle cx="209.2" cy="329.2" r="0.45"/><circle cx="204.4" cy="331.2" r="0.45"/><circle cx="220.5" cy="324.2" r="0.45"/><circle cx="207.5" cy="332.5" r="0.45"/><circle cx="206.9" cy="331.8" r="0.45"/><circle cx="201.0" cy="328.6" r="0.45"/><circle cx="208.5" cy="326.1" r="0.45"/><circle cx="204.7" cy="327.1" r="0.45"/><circle cx="211.5" cy="321.0" r="0.45"/><circle cx="196.9" cy="330.6" r="0.45"/><circle cx="205.0" cy="326.7" r="0.45"/><circle cx="217.2" cy="332.7" r="0.45"/><circle cx="212.6" cy="332.2" r="0.45"/><circle cx="214.9" cy="331.7" r="0.45"/><circle cx="210.7" cy="326.6" r="0.45"/><circle cx="201.6" cy="327.9" r="0.45"/><circle cx="219.5" cy="337.5" r="0.45"/><circle cx="203.3" cy="331.1" r="0.45"/><circle cx="205.8" cy="330.3" r="0.45"/><circle cx="202.3" cy="326.4" r="0.45"/><circle cx="212.6" cy="326.2" r="0.45"/><circle cx="211.1" cy="332.9" r="0.45"/><circle cx="205.4" cy="329.7" r="0.45"/><circle cx="214.3" cy="332.9" r="0.45"/><circle cx="223.8" cy="327.3" r="0.45"/><circle cx="200.0" cy="330.5" r="0.45"/><circle cx="220.9" cy="340.9" r="0.45"/><circle cx="214.4" cy="330.9" r="0.45"/><circle cx="210.5" cy="330.1" r="0.45"/><circle cx="208.0" cy="331.9" r="0.45"/><circle cx="215.2" cy="318.2" r="0.45"/><circle cx="212.7" cy="331.2" r="0.45"/><circle cx="190.3" cy="337.8" r="0.45"/><circle cx="216.3" cy="331.5" r="0.45"/><circle cx="215.9" cy="320.2" r="0.45"/><circle cx="205.8" cy="332.1" r="0.45"/><circle cx="207.0" cy="325.8" r="0.45"/><circle cx="210.3" cy="332.5" r="0.45"/><circle cx="212.1" cy="326.7" r="0.45"/><circle cx="199.0" cy="328.0" r="0.45"/><circle cx="207.8" cy="331.1" r="0.45"/><circle cx="202.5" cy="327.3" r="0.45"/><circle cx="216.7" cy="330.2" r="0.45"/><circle cx="205.9" cy="321.0" r="0.45"/><circle cx="211.9" cy="331.8" r="0.45"/><circle cx="206.7" cy="330.3" r="0.45"/><circle cx="210.7" cy="332.0" r="0.45"/><circle cx="214.7" cy="327.1" r="0.45"/><circle cx="216.3" cy="323.3" r="0.45"/><circle cx="210.0" cy="332.6" r="0.45"/><circle cx="202.8" cy="332.5" r="0.45"/><circle cx="210.5" cy="322.9" r="0.45"/><circle cx="208.2" cy="323.8" r="0.45"/><circle cx="208.1" cy="327.8" r="0.45"/><circle cx="206.3" cy="330.7" r="0.45"/><circle cx="213.0" cy="332.7" r="0.45"/><circle cx="208.5" cy="331.8" r="0.45"/><circle cx="221.2" cy="330.2" r="0.45"/><circle cx="212.3" cy="328.6" r="0.45"/><circle cx="215.9" cy="330.0" r="0.45"/><circle cx="218.4" cy="330.1" r="0.45"/><circle cx="191.5" cy="340.7" r="0.45"/><circle cx="223.4" cy="349.0" r="0.45"/><circle cx="195.6" cy="333.9" r="0.45"/><circle cx="213.2" cy="333.9" r="0.45"/><circle cx="207.4" cy="331.5" r="0.45"/><circle cx="210.2" cy="329.1" r="0.45"/><circle cx="213.5" cy="333.3" r="0.45"/><circle cx="222.1" cy="335.1" r="0.45"/><circle cx="206.3" cy="329.5" r="0.45"/><circle cx="219.4" cy="331.6" r="0.45"/><circle cx="205.0" cy="325.4" r="0.45"/><circle cx="213.3" cy="332.0" r="0.45"/><circle cx="202.0" cy="332.5" r="0.45"/><circle cx="213.6" cy="320.7" r="0.45"/><circle cx="207.2" cy="327.0" r="0.45"/><circle cx="212.0" cy="331.7" r="0.45"/><circle cx="206.0" cy="332.5" r="0.45"/><circle cx="213.2" cy="334.3" r="0.45"/><circle cx="208.9" cy="327.6" r="0.45"/><circle cx="208.9" cy="329.9" r="0.45"/><circle cx="215.7" cy="331.2" r="0.45"/><circle cx="197.8" cy="320.7" r="0.45"/><circle cx="213.0" cy="331.6" r="0.45"/><circle cx="204.0" cy="328.5" r="0.45"/><circle cx="212.0" cy="331.3" r="0.45"/><circle cx="202.3" cy="333.1" r="0.45"/><circle cx="212.9" cy="334.5" r="0.45"/><circle cx="214.0" cy="332.4" r="0.45"/><circle cx="220.3" cy="334.4" r="0.45"/><circle cx="217.0" cy="334.0" r="0.45"/><circle cx="211.7" cy="329.6" r="0.45"/><circle cx="215.0" cy="325.8" r="0.45"/><circle cx="212.2" cy="328.6" r="0.45"/><circle cx="212.2" cy="331.5" r="0.45"/><circle cx="205.4" cy="328.6" r="0.45"/><circle cx="196.2" cy="334.5" r="0.45"/><circle cx="204.9" cy="323.6" r="0.45"/><circle cx="208.0" cy="324.2" r="0.45"/><circle cx="210.1" cy="332.4" r="0.45"/><circle cx="209.0" cy="327.3" r="0.45"/><circle cx="212.4" cy="327.5" r="0.45"/><circle cx="211.1" cy="331.7" r="0.45"/><circle cx="221.4" cy="332.1" r="0.45"/><circle cx="196.8" cy="332.2" r="0.45"/><circle cx="222.6" cy="323.3" r="0.45"/><circle cx="211.6" cy="327.9" r="0.45"/><circle cx="210.6" cy="323.2" r="0.45"/><circle cx="199.3" cy="334.5" r="0.45"/><circle cx="209.2" cy="329.9" r="0.45"/><circle cx="210.9" cy="327.5" r="0.45"/><circle cx="206.2" cy="332.6" r="0.45"/><circle cx="217.3" cy="326.9" r="0.45"/><circle cx="211.6" cy="330.2" r="0.45"/><circle cx="209.4" cy="322.3" r="0.45"/><circle cx="218.2" cy="334.7" r="0.45"/><circle cx="206.9" cy="322.4" r="0.45"/><circle cx="218.4" cy="326.4" r="0.45"/><circle cx="201.9" cy="327.4" r="0.45"/><circle cx="213.0" cy="332.3" r="0.45"/><circle cx="211.7" cy="329.0" r="0.45"/><circle cx="207.7" cy="332.6" r="0.45"/><circle cx="216.9" cy="333.2" r="0.45"/><circle cx="207.5" cy="325.7" r="0.45"/><circle cx="209.8" cy="321.2" r="0.45"/><circle cx="204.3" cy="325.9" r="0.45"/><circle cx="215.0" cy="327.7" r="0.45"/><circle cx="211.8" cy="325.7" r="0.45"/><circle cx="210.8" cy="332.5" r="0.45"/><circle cx="212.3" cy="330.5" r="0.45"/><circle cx="203.4" cy="330.5" r="0.45"/><circle cx="209.5" cy="327.4" r="0.45"/><circle cx="217.1" cy="327.9" r="0.45"/><circle cx="207.9" cy="321.1" r="0.45"/><circle cx="218.6" cy="340.4" r="0.45"/><circle cx="217.3" cy="332.1" r="0.45"/><circle cx="200.5" cy="332.5" r="0.45"/><circle cx="214.0" cy="325.3" r="0.45"/><circle cx="218.6" cy="364.7" r="0.45"/><circle cx="221.3" cy="343.3" r="0.45"/><circle cx="221.1" cy="360.0" r="0.45"/><circle cx="221.5" cy="348.6" r="0.45"/><circle cx="216.1" cy="367.0" r="0.45"/><circle cx="221.1" cy="346.5" r="0.45"/><circle cx="221.2" cy="349.4" r="0.45"/><circle cx="220.6" cy="349.7" r="0.45"/><circle cx="219.5" cy="335.6" r="0.45"/><circle cx="218.5" cy="339.9" r="0.45"/><circle cx="220.1" cy="339.1" r="0.45"/><circle cx="217.7" cy="338.3" r="0.45"/><circle cx="221.1" cy="353.8" r="0.45"/><circle cx="218.4" cy="336.6" r="0.45"/><circle cx="193.7" cy="332.0" r="0.45"/><circle cx="198.2" cy="334.7" r="0.45"/><circle cx="191.3" cy="347.8" r="0.45"/><circle cx="192.4" cy="342.7" r="0.45"/><circle cx="191.6" cy="356.9" r="0.45"/><circle cx="191.4" cy="344.4" r="0.45"/><circle cx="190.6" cy="343.7" r="0.45"/><circle cx="195.0" cy="330.9" r="0.45"/><circle cx="194.7" cy="365.6" r="0.45"/><circle cx="189.0" cy="366.8" r="0.45"/><circle cx="192.4" cy="347.6" r="0.45"/></g>
<path d="M196.2 367.2L196.0 366.8L195.8 366.2L195.6 365.6L195.3 365.0L195.1 364.5L194.8 364.0L194.6 363.5L194.4 363.0L194.2 362.5L194.0 362.0L193.8 361.5L193.6 360.8L193.5 360.0L193.4 359.2L193.3 358.6L193.2 358.0L193.1 357.2L193.1 356.5L193.1 355.8L193.0 355.0L193.1 354.2L193.2 353.5L193.3 352.8L193.4 352.0L193.6 351.4L193.8 350.8L194.0 350.0L193.9 349.2L193.9 348.5L194.2 347.8L194.5 347.2L194.7 346.5L194.6 345.8L194.3 345.2L194.1 344.8L194.0 344.0L194.0 343.2L194.2 342.5L194.3 341.8L194.5 341.0L194.7 340.5L195.0 340.0L195.4 339.5L195.8 339.1L196.3 338.5L196.7 338.0L197.1 337.5L197.4 337.0L197.8 336.5L198.3 336.1L198.8 335.8L199.3 335.6L200.1 335.3L200.8 335.2L201.3 334.9L201.7 334.5L202.3 334.0L202.8 333.8L203.6 333.6L204.3 333.7L205.1 333.8L205.8 333.9L206.6 333.9L207.3 334.0L208.1 334.1L208.8 334.1L209.6 334.1L210.3 334.2L211.1 334.5L211.6 334.9L212.0 335.5L212.5 336.0L213.1 336.3L213.5 336.8L214.0 337.2L214.6 337.7L215.1 337.9L215.6 338.1L215.9 338.5L216.3 338.9L216.7 339.2L217.3 339.8L217.6 340.2L217.5 341.0L217.2 341.5L217.0 342.0L217.1 342.8L217.6 343.1L218.1 343.3L218.8 343.6L219.2 344.0L218.8 344.7L218.3 345.0L217.6 345.2L216.9 345.2L217.0 346.0L217.3 346.5L217.6 347.1L217.8 347.8L218.0 348.2L218.3 348.7L218.5 349.2L218.5 350.0L218.3 350.8L218.6 351.4L219.0 351.8L219.2 352.2L219.1 353.0L219.0 353.8L218.7 354.5L218.5 355.0L218.2 355.8L218.2 356.5L218.3 357.2L218.2 358.0L217.9 358.5L217.6 358.9L217.1 359.5L217.0 360.2L216.9 361.0L216.8 361.7L216.6 362.5L216.4 363.0L216.1 363.5L215.7 364.0L215.3 364.5L215.1 365.0L214.9 365.5L214.8 366.2L214.6 367.0M197.9 367.2L197.4 366.8L197.2 366.2L197.0 365.8L196.8 365.2L196.5 364.8L196.3 364.1L196.1 363.5L195.8 362.8L195.6 362.3L195.2 361.8L195.0 361.2L194.8 360.6L194.7 360.0L194.6 359.2L194.4 358.5L194.2 357.8L194.1 357.0L194.1 356.2L194.2 355.5L194.3 354.9L194.4 354.2L194.4 353.5L194.4 352.8L194.6 352.0L194.8 351.3L195.0 350.8L195.3 350.0L195.4 349.2L195.4 348.5L195.6 347.8L195.9 347.0L196.1 346.2L196.3 345.5L196.3 344.8L196.4 344.0L196.7 343.2L197.0 342.8L197.3 342.2L197.5 341.8L197.6 341.0L197.7 340.2L197.9 339.5L198.3 339.0L198.8 338.5L199.3 338.2L199.8 337.9L200.6 337.8L201.3 337.6L202.1 337.4L202.6 337.1L203.1 336.8L203.5 336.5L204.3 336.3L205.1 336.3L205.8 336.4L206.6 336.6L207.3 336.8L208.1 337.0L208.6 337.2L209.1 337.4L209.6 337.7L210.1 337.9L210.8 338.2L211.6 338.4L212.3 338.7L212.8 339.0L213.3 339.2L213.8 339.7L214.2 340.0L214.6 340.4L214.9 341.0L215.0 341.8L214.9 342.5L214.7 343.0L214.4 343.8L214.3 344.5L214.6 345.1L215.0 345.8L215.3 346.2L215.5 346.8L215.7 347.5L215.5 348.2L215.3 349.0L215.4 349.8L215.5 350.5L215.5 351.2L215.5 352.0L215.7 352.8L216.0 353.5L216.1 354.2L216.1 355.0L215.9 355.8L215.9 356.5L216.0 357.2L215.8 357.9L215.6 358.4L215.3 358.9L215.1 359.5L215.1 360.2L215.2 361.0L215.1 361.8L214.9 362.5L214.6 363.0L214.3 363.4L213.8 364.0L213.4 364.5L212.9 365.0L212.6 365.5L212.4 366.2L212.2 366.8L211.8 367.2M200.5 367.2L200.1 366.9L199.6 366.7L198.8 366.4L198.3 366.1L197.9 365.5L197.6 365.0L197.4 364.5L197.1 364.0L196.9 363.2L196.7 362.5L196.4 362.0L196.1 361.5L195.8 361.0L195.6 360.2L195.6 359.5L195.4 358.8L195.1 358.0L195.0 357.2L194.9 356.5L195.1 355.8L195.2 355.2L195.3 354.5L195.3 353.8L195.2 353.0L195.3 352.2L195.5 351.5L195.8 350.8L196.0 350.0L196.2 349.2L196.4 348.5L196.6 347.9L196.8 347.3L197.1 346.8L197.3 346.4L197.5 345.8L197.6 345.0L197.7 344.2L198.0 343.5L198.3 343.1L198.8 342.8L199.3 342.6L199.7 342.0L199.7 341.2L199.8 340.5L200.0 340.0L200.6 339.5L201.3 339.4L201.8 339.7L202.2 340.0L203.1 339.8L203.4 339.2L203.7 338.8L204.1 338.3L204.6 337.9L205.2 337.8L206.1 337.8L206.7 338.0L207.3 338.2L207.8 338.6L208.3 338.8L209.1 339.1L209.7 339.2L210.3 339.5L210.7 339.8L211.3 340.2L211.8 340.8L212.3 341.2L212.6 341.7L212.8 342.2L213.0 343.0L213.0 343.8L212.9 344.5L213.2 345.2L213.6 345.7L213.9 346.2L214.2 346.8L214.2 347.5L214.2 348.2L214.2 349.0L214.2 349.8L214.2 350.5L214.3 351.2L214.5 352.0L214.6 352.8L214.8 353.3L215.0 354.0L215.0 354.8L214.9 355.5L214.7 356.2L214.7 357.0L214.6 357.6L214.4 358.2L214.2 358.8L213.9 359.2L213.7 360.0L213.8 360.8L213.8 361.5L213.7 362.2L213.4 363.0L213.1 363.5L212.7 364.0L212.3 364.5L211.9 365.0L211.6 365.5L211.3 366.0L210.9 366.5L210.3 366.9L209.6 367.2M201.6 367.2L201.1 366.8L200.6 366.3L200.1 366.0L199.6 365.8L199.1 365.4L198.6 365.0L198.3 364.6L198.0 364.0L197.7 363.2L197.6 362.7L197.3 362.0L197.0 361.5L196.6 361.0L196.4 360.5L196.3 359.8L196.2 359.0L196.0 358.2L195.8 357.6L195.8 356.8L196.0 356.0L196.3 355.5L196.3 354.8L196.1 354.0L196.0 353.2L196.0 352.5L196.1 351.8L196.3 351.2L196.5 350.5L196.8 349.8L197.0 349.2L197.3 348.5L197.6 347.8L197.9 347.2L198.3 346.8L198.6 346.2L198.8 345.6L199.0 344.8L199.4 344.2L200.1 343.9L200.6 343.6L201.1 343.1L201.4 342.5L201.8 342.0L202.3 341.7L203.1 341.4L203.8 341.1L204.2 340.5L204.4 340.0L204.7 339.5L205.1 339.1L205.8 339.0L206.5 339.2L207.1 339.5L207.6 339.9L208.1 340.2L208.6 340.7L209.1 341.0L209.6 341.2L210.0 341.5L210.6 341.9L211.0 342.5L211.3 343.0L211.5 343.5L211.5 344.2L211.4 345.0L211.5 345.8L211.8 346.2L212.2 346.8L212.6 347.1L212.9 347.8L213.2 348.2L213.4 349.0L213.4 349.8L213.4 350.5L213.5 351.2L213.6 352.0L213.8 352.8L213.9 353.5L214.1 354.1L214.2 354.8L214.2 355.5L214.1 356.2L214.0 357.0L213.8 357.7L213.6 358.2L213.3 358.7L213.1 359.2L212.9 360.0L212.8 360.8L212.7 361.5L212.6 362.2L212.4 363.0L212.2 363.5L211.8 364.0L211.4 364.5L211.1 364.9L210.6 365.5L210.1 366.0L209.6 366.2L208.8 366.5L208.1 366.6L207.3 366.7L206.6 366.7L205.9 367.0M203.5 367.2L202.9 367.0L202.3 366.5L201.8 366.1L201.3 365.9L200.6 365.6L200.1 365.3L199.6 364.9L199.2 364.5L198.9 364.0L198.7 363.5L198.4 362.8L198.1 362.0L197.8 361.5L197.5 361.0L197.2 360.5L196.9 359.8L196.8 359.0L196.6 358.2L196.5 357.5L196.6 356.9L196.8 356.3L197.2 355.8L197.4 355.0L197.1 354.2L197.0 353.5L197.1 352.8L197.2 352.2L197.2 351.5L197.2 350.8L197.5 350.0L197.8 349.5L198.0 349.0L198.3 348.5L198.7 348.0L199.3 347.5L199.5 347.0L199.6 346.2L199.8 345.5L200.0 345.0L200.5 344.5L201.1 344.1L201.5 343.8L202.0 343.2L202.6 342.8L203.3 342.8L203.8 343.0L204.6 342.9L205.0 342.5L205.3 342.0L205.4 341.2L205.6 340.5L206.1 340.2L206.8 340.4L207.3 340.9L207.6 341.5L207.9 342.0L208.3 342.3L209.1 342.5L209.6 342.7L210.0 343.0L210.4 343.5L210.5 344.2L210.5 345.0L210.6 345.8L210.8 346.5L211.2 347.0L211.6 347.4L212.0 347.8L212.3 348.1L212.6 348.8L212.8 349.5L212.8 350.2L212.8 351.0L213.0 351.8L213.0 352.5L213.0 353.2L213.2 354.0L213.4 354.5L213.6 355.2L213.6 356.0L213.4 356.8L213.2 357.5L212.9 358.0L212.6 358.4L212.3 359.0L212.3 359.8L212.2 360.5L212.1 361.0L211.8 361.7L211.7 362.5L211.6 363.1L211.3 363.6L210.9 364.0L210.6 364.4L210.1 365.0L209.6 365.4L209.1 365.6L208.3 365.7L207.6 365.6L206.8 365.3L206.1 365.3L205.6 365.8L205.3 366.2L204.9 366.8L204.6 367.1M204.1 365.6L203.3 365.6L202.8 365.4L202.1 365.1L201.3 365.0L200.6 364.8L200.1 364.5L199.8 364.0L199.6 363.5L199.4 363.0L199.1 362.5L198.8 362.0L198.5 361.5L198.2 361.0L197.9 360.5L197.6 360.0L197.4 359.2L197.2 358.5L197.1 357.8L197.3 357.0L197.5 356.5L197.8 356.0L198.0 355.5L198.0 354.8L197.9 354.0L198.1 353.3L198.4 352.8L198.7 352.2L198.7 351.5L198.4 351.0L198.3 350.2L198.6 349.5L199.0 349.0L199.6 348.6L200.1 348.3L200.5 348.0L200.9 347.5L200.8 346.8L200.6 346.0L200.8 345.4L201.3 344.8L201.8 344.5L202.3 344.2L203.1 344.0L203.8 344.0L204.6 343.9L205.3 343.7L205.9 344.0L206.3 344.4L206.8 344.7L207.6 344.8L208.1 344.6L208.6 344.3L209.3 344.3L209.6 344.8L209.8 345.5L209.8 346.2L210.1 347.0L210.6 347.4L211.0 347.8L211.6 348.2L211.9 348.8L212.2 349.5L212.2 350.2L212.3 351.0L212.4 351.8L212.5 352.5L212.4 353.2L212.4 354.0L212.6 354.5L212.9 355.0L213.1 355.7L213.0 356.5L212.6 357.2L212.1 357.7L211.6 358.0L211.6 358.8L211.8 359.4L211.8 360.2L211.6 360.9L211.1 361.5L210.8 361.9L210.7 362.8L210.4 363.5L210.1 364.0L209.6 364.4L209.1 364.7L208.3 364.8L207.6 364.5L207.1 364.3L206.3 364.3L205.7 364.5L205.2 364.8L204.6 365.2L204.1 365.5ZM204.1 364.8L203.3 364.9L202.6 364.7L201.8 364.4L201.1 364.2L200.6 363.8L200.3 363.3L200.0 362.8L199.6 362.2L199.3 361.8L198.9 361.2L198.6 360.8L198.4 360.2L198.2 359.8L197.9 359.0L197.8 358.2L197.9 357.5L198.2 356.8L198.4 356.0L198.5 355.2L198.5 354.5L198.5 353.8L198.8 353.0L199.1 352.5L199.4 352.0L199.6 351.2L199.3 350.8L199.2 350.0L199.5 349.5L200.1 349.1L200.5 348.8L201.1 348.3L201.6 347.8L201.8 347.3L201.8 346.5L202.0 345.8L202.6 345.4L203.1 345.2L203.6 345.0L204.2 344.8L204.8 344.6L205.6 344.7L206.1 345.0L206.6 345.4L207.1 345.7L207.6 346.0L208.3 346.0L208.5 346.5L208.6 347.2L209.1 347.5L209.7 347.8L210.3 348.1L210.7 348.5L211.1 348.9L211.3 349.4L211.5 350.0L211.7 350.8L211.8 351.5L211.9 352.2L211.8 353.0L211.6 353.5L211.4 354.0L211.6 354.7L212.1 355.1L212.4 355.8L212.3 356.5L211.9 357.0L211.3 357.3L210.8 357.7L210.8 358.5L211.1 359.0L211.4 359.5L211.3 360.2L211.1 360.8L210.6 361.2L210.1 361.7L209.8 362.2L209.7 363.0L209.3 363.5L208.8 363.8L208.1 363.9L207.4 363.8L206.8 363.7L206.1 363.8L205.6 364.1L205.1 364.4L204.6 364.6ZM204.3 364.3L203.6 364.5L202.8 364.3L202.3 364.1L201.8 363.8L201.3 363.5L200.9 363.0L200.6 362.6L200.2 362.2L199.8 361.8L199.4 361.2L199.1 360.8L198.8 360.2L198.6 359.5L198.5 358.8L198.7 358.0L199.1 357.5L199.0 356.8L198.9 356.0L198.9 355.2L198.9 354.5L198.9 353.8L199.1 353.2L199.4 352.8L199.8 352.3L200.3 351.9L200.8 351.5L201.1 351.0L200.8 350.3L200.6 349.8L200.8 349.2L201.2 348.8L201.7 348.2L202.2 347.8L202.6 347.3L202.9 346.8L203.3 346.2L203.8 345.8L204.3 345.4L205.1 345.3L205.7 345.5L206.2 346.0L206.4 346.8L206.1 347.4L205.6 347.8L205.1 348.2L204.8 348.8L204.8 349.5L205.1 350.1L205.5 350.5L206.1 350.3L206.5 349.8L206.8 349.3L207.3 348.9L208.1 348.8L208.8 348.7L209.4 348.8L209.8 349.2L210.0 349.8L210.5 350.2L210.9 350.8L211.2 351.2L211.4 352.0L211.3 352.8L211.1 353.2L210.6 353.7L210.2 354.2L210.5 354.8L210.8 355.1L211.3 355.5L211.6 355.9L211.4 356.5L210.9 357.0L210.3 357.5L210.1 358.0L210.3 358.7L210.8 359.2L211.0 360.0L210.7 360.5L210.3 360.9L209.8 361.2L209.3 361.7L209.1 362.2L208.9 362.8L208.3 363.2L207.6 363.2L206.8 363.2L206.1 363.4L205.6 363.7L205.1 364.0L204.6 364.2ZM204.3 364.0L203.6 364.2L202.8 364.0L202.4 363.8L201.8 363.3L201.4 362.8L200.9 362.2L200.6 361.9L200.1 361.5L199.7 361.0L199.4 360.5L199.1 359.8L199.2 359.0L199.6 358.6L200.1 358.3L200.4 357.8L200.2 357.2L199.8 356.8L199.5 356.2L199.3 355.5L199.3 354.8L199.3 354.0L199.5 353.2L200.0 352.8L200.6 352.4L201.1 352.2L201.6 351.8L201.7 351.0L201.6 350.2L201.4 349.5L201.8 348.8L202.3 348.3L202.8 348.0L203.6 347.9L204.0 348.2L204.2 348.8L204.5 349.5L204.7 350.2L205.1 350.7L205.6 351.0L206.2 350.8L206.6 350.4L207.0 349.8L207.5 349.5L208.3 349.5L208.8 349.8L209.3 350.2L209.8 350.6L210.3 351.0L210.8 351.5L210.9 352.2L210.7 352.8L210.1 353.1L209.3 353.1L208.6 352.9L208.2 353.2L208.6 354.0L209.0 354.2L209.6 354.6L210.0 355.0L210.4 355.5L210.7 356.0L210.6 356.6L210.1 357.2L209.6 357.8L209.2 358.2L208.6 358.4L207.8 358.3L207.3 358.5L206.8 358.8L206.3 359.1L205.6 359.1L204.8 358.8L204.3 358.4L203.6 358.2L203.4 358.8L203.6 359.2L204.1 359.6L204.6 360.2L205.0 360.5L205.8 360.4L206.6 360.2L207.3 360.4L207.8 360.7L208.3 360.9L208.3 361.8L208.1 362.3L207.6 362.5L206.8 362.6L206.2 362.8L205.8 363.1L205.3 363.5L204.8 363.8L204.3 364.0ZM209.3 360.8L208.6 360.9L208.5 360.2L208.7 359.5L208.9 358.8L209.8 358.9L210.3 359.4L210.4 360.0L210.1 360.5L209.6 360.7ZM204.3 363.8L203.6 363.9L202.8 363.6L202.3 363.2L202.0 362.8L201.7 362.2L201.5 361.8L201.1 361.4L200.3 361.1L199.8 360.5L199.7 359.8L200.1 359.1L200.6 358.8L200.9 358.5L201.0 357.8L200.7 357.2L200.3 356.8L200.0 356.2L199.8 355.6L199.7 354.8L199.7 354.0L200.1 353.3L200.5 353.0L201.1 352.8L201.8 352.5L202.1 352.0L202.2 351.2L202.1 350.5L202.0 349.8L202.2 349.0L202.8 348.6L203.6 348.7L204.0 349.2L204.2 349.8L204.5 350.5L204.8 351.0L205.3 351.2L206.1 351.3L206.6 351.1L207.0 350.5L207.6 350.1L208.3 350.2L208.8 350.8L209.3 351.2L209.8 351.5L210.1 352.0L209.6 352.3L208.8 352.1L208.1 352.2L207.6 352.8L207.6 353.5L207.9 354.0L208.3 354.4L208.8 354.7L209.3 355.0L209.8 355.4L210.2 356.0L209.9 356.8L209.6 357.1L209.1 357.4L208.3 357.6L207.6 357.8L207.1 358.1L206.6 358.5L205.8 358.6L205.1 358.3L204.7 358.0L204.1 357.6L203.3 357.6L202.9 358.0L202.6 358.4L202.1 359.0L201.9 359.8L201.8 360.5L202.6 360.5L203.3 360.4L204.1 360.7L204.6 361.1L205.1 361.4L205.8 361.7L205.7 362.5L205.4 363.0L204.8 363.5L204.3 363.8ZM206.1 358.3L205.3 358.1L204.8 357.6L204.3 357.2L203.6 357.1L202.8 357.5L202.4 357.8L201.6 357.8L201.3 357.4L200.8 356.8L200.5 356.2L200.3 355.5L200.3 354.8L200.5 354.0L200.8 353.6L201.3 353.4L202.1 353.1L202.8 352.8L202.9 352.0L202.6 351.2L202.5 350.5L202.5 349.8L202.7 349.2L203.6 349.4L203.9 350.0L204.2 350.8L204.5 351.2L205.0 351.5L205.8 351.7L206.6 351.8L207.0 352.2L207.1 353.0L207.3 353.6L207.6 354.0L207.9 354.5L208.3 355.0L208.8 355.2L209.3 355.6L209.6 356.0L209.3 356.7L208.6 356.9L207.8 357.0L207.3 357.4L207.0 357.8L206.6 358.1ZM204.1 363.5L203.3 363.5L202.8 363.2L202.5 362.8L202.4 362.0L202.7 361.5L203.2 361.2L204.1 361.4L204.6 361.7L205.0 362.2L204.9 363.0L204.3 363.4ZM203.6 351.0L203.1 350.5L203.6 350.8ZM206.3 357.8L205.6 357.8L205.1 357.4L204.6 357.0L204.1 356.8L203.3 356.8L202.6 357.1L201.8 357.1L201.4 356.8L201.1 356.4L200.8 355.8L200.9 355.0L201.1 354.5L201.5 354.0L202.1 353.7L202.8 353.5L203.3 353.3L203.6 352.8L203.8 352.2L204.3 351.8L205.1 351.9L205.7 352.0L206.3 352.2L206.6 352.8L206.9 353.5L207.2 354.0L207.4 354.5L207.7 355.0L207.7 355.8L207.3 356.1L207.0 356.8L206.6 357.5ZM204.1 363.0L203.3 362.9L203.0 362.5L203.3 362.1L204.1 362.2L204.3 362.8ZM205.8 357.3L205.3 356.9L204.8 356.6L204.1 356.4L203.3 356.5L202.6 356.6L201.8 356.5L201.4 356.0L201.4 355.2L201.6 354.8L202.1 354.3L202.6 354.0L203.3 353.9L203.8 353.6L204.0 353.0L204.3 352.5L204.8 352.2L205.6 352.3L206.1 352.6L206.3 353.0L206.6 353.5L206.8 354.0L207.0 354.5L207.1 355.2L206.8 355.7L206.3 356.2L206.2 357.0ZM205.1 356.0L204.3 356.1L203.6 356.1L202.8 356.2L202.1 356.0L201.8 355.5L202.1 354.9L202.5 354.5L203.3 354.3L204.1 354.1L204.3 353.5L204.5 353.0L204.8 352.6L205.6 352.6L206.0 353.0L206.2 353.5L206.4 354.0L206.7 354.8L206.5 355.2L206.1 355.6L205.6 355.9ZM203.3 355.8L202.6 355.6L202.8 354.9L203.6 354.8L204.3 354.9L204.7 354.5L204.7 353.8L205.0 353.0L205.7 353.2L205.9 353.8L206.1 354.5L205.8 355.0L205.1 355.2L204.3 355.5L203.6 355.7Z" fill="none" stroke="#222" stroke-width="0.6"/>
<path d="M176.1 314.4V345.1H232.9V302.2" fill="none" stroke="#4d4d4d" stroke-width="0.9"/>
<text x="176.1" y="311.9" font-size="7.4" text-anchor="start" font-weight="normal" fill="#1a1a1a" >7.1</text>
<rect x="171.5" y="301.2" width="66.9" height="67.0" fill="none" stroke="#111" stroke-width="1.15"/>
<path d="M168.5 307.4H171.5M169.6 317.6H171.5M169.6 315.0H171.5M169.6 313.2H171.5M169.6 311.8H171.5M169.6 310.6H171.5M169.6 309.6H171.5M169.6 308.8H171.5M169.6 308.0H171.5M168.5 322.0H171.5M169.6 332.6H171.5M169.6 329.9H171.5M169.6 328.0H171.5M169.6 326.5H171.5M169.6 325.3H171.5M169.6 324.3H171.5M169.6 323.4H171.5M169.6 322.7H171.5M168.5 337.2H171.5M169.6 348.2H171.5M169.6 345.4H171.5M169.6 343.4H171.5M169.6 341.9H171.5M169.6 340.7H171.5M169.6 339.6H171.5M169.6 338.7H171.5M169.6 337.9H171.5M168.5 352.9H171.5M168.5 360.7H171.5M169.6 355.3H171.5M169.6 356.6H171.5M169.6 357.6H171.5M169.6 358.4H171.5M169.6 359.0H171.5M169.6 359.5H171.5M169.6 359.9H171.5M169.6 360.3H171.5M185.5 368.2V371.2M190.1 368.2V370.09999999999997M192.7 368.2V370.09999999999997M194.6 368.2V370.09999999999997M196.1 368.2V370.09999999999997M197.3 368.2V370.09999999999997M198.3 368.2V370.09999999999997M199.2 368.2V370.09999999999997M200.0 368.2V370.09999999999997M200.7 368.2V371.2M205.4 368.2V370.09999999999997M208.1 368.2V370.09999999999997M210.1 368.2V370.09999999999997M211.6 368.2V370.09999999999997M212.8 368.2V370.09999999999997M213.8 368.2V370.09999999999997M214.7 368.2V370.09999999999997M215.5 368.2V370.09999999999997M216.3 368.2V371.2M220.9 368.2V370.09999999999997M223.6 368.2V370.09999999999997M225.6 368.2V370.09999999999997M227.1 368.2V370.09999999999997M228.3 368.2V370.09999999999997M229.3 368.2V370.09999999999997M230.2 368.2V370.09999999999997M231.0 368.2V370.09999999999997M231.7 368.2V371.2M177.6 368.2V371.2M180.0 368.2V370.09999999999997M181.4 368.2V370.09999999999997M182.3 368.2V370.09999999999997M183.1 368.2V370.09999999999997M183.7 368.2V370.09999999999997M184.3 368.2V370.09999999999997M184.7 368.2V370.09999999999997M185.1 368.2V370.09999999999997" stroke="#111" stroke-width="1.0" fill="none"/>
<text x="177.6" y="378.7" font-size="7.0" text-anchor="middle" font-weight="normal" fill="#1a1a1a" >0</text>
<text x="185.5" y="378.7" font-size="7.0" text-anchor="middle" font-weight="normal" fill="#1a1a1a" letter-spacing="0.2">10</text>
<text x="189.9" y="374.7" font-size="4.4" text-anchor="start" font-weight="normal" fill="#1a1a1a" >2</text>
<text x="200.7" y="378.7" font-size="7.0" text-anchor="middle" font-weight="normal" fill="#1a1a1a" letter-spacing="0.2">10</text>
<text x="205.1" y="374.7" font-size="4.4" text-anchor="start" font-weight="normal" fill="#1a1a1a" >3</text>
<text x="216.3" y="378.7" font-size="7.0" text-anchor="middle" font-weight="normal" fill="#1a1a1a" letter-spacing="0.2">10</text>
<text x="220.7" y="374.7" font-size="4.4" text-anchor="start" font-weight="normal" fill="#1a1a1a" >4</text>
<text x="231.7" y="378.7" font-size="7.0" text-anchor="middle" font-weight="normal" fill="#1a1a1a" letter-spacing="0.2">10</text>
<text x="236.1" y="374.7" font-size="4.4" text-anchor="start" font-weight="normal" fill="#1a1a1a" >5</text>
<text x="28.1" y="387.2" font-size="7.6" textLength="15.5" lengthAdjust="spacingAndGlyphs" fill="#111">CD4</text>
<path d="M47.2 384.7H234" stroke="#111" stroke-width="1.1"/>
<path d="M238.3 384.7L232.9 381.8V387.6Z" fill="#111"/>
<text x="331.1" y="202.4" font-size="9.9" fill="#111" textLength="129.7" lengthAdjust="spacingAndGlyphs">Gate on H2K<tspan font-size="7.4" dy="-3.4">b+</tspan><tspan dy="3.4">CD4</tspan><tspan font-size="7.4" dy="-3.4">+</tspan><tspan dy="3.4"> T in spleen</tspan></text>
<path d="M289.7 206.6H502.3" stroke="#888" stroke-width="1.2"/>
<rect x="492.2" y="213" width="6.3" height="5.8" fill="#c8102e"/>
<rect x="492.2" y="223.3" width="6.3" height="5.8" fill="#134f8c"/>
<text x="501.4" y="218.5" font-size="7.8" textLength="11.1" lengthAdjust="spacingAndGlyphs" fill="#111">WT</text>
<text x="501.6" y="228.9" font-size="7.8" textLength="9.6" lengthAdjust="spacingAndGlyphs" fill="#111">KO</text>
<rect x="300.1" y="257.93" width="9.80" height="43.37" fill="#e0899b"/>
<rect x="316.5" y="292.68" width="10.00" height="8.62" fill="#8aa8c6"/>
<path d="M291.5 214.8V301.3H332.7" stroke="#222" stroke-width="1.35" fill="none"/>
<path d="M288.3 301.30H291.5" stroke="#555" stroke-width="1.1"/>
<text x="285.40" y="304.31" font-size="8.6" text-anchor="end" font-weight="normal" fill="#1a1a1a" >0</text>
<path d="M288.3 273.94H291.5" stroke="#555" stroke-width="1.1"/>
<text x="285.40" y="276.95" font-size="8.6" text-anchor="end" font-weight="normal" fill="#1a1a1a" >20</text>
<path d="M288.3 246.58H291.5" stroke="#555" stroke-width="1.1"/>
<text x="285.40" y="249.59" font-size="8.6" text-anchor="end" font-weight="normal" fill="#1a1a1a" >40</text>
<path d="M288.3 219.22H291.5" stroke="#555" stroke-width="1.1"/>
<text x="285.40" y="222.23" font-size="8.6" text-anchor="end" font-weight="normal" fill="#1a1a1a" >60</text>
<path d="M305 301.3V304.3" stroke="#333" stroke-width="1"/>
<path d="M321.9 301.3V304.3" stroke="#333" stroke-width="1"/>
<rect x="301.95" y="232.59" width="6.1" height="6.1" fill="#c8102e"/>
<rect x="299.55" y="262.68" width="6.1" height="6.1" fill="#c8102e"/>
<rect x="305.15" y="260.90" width="6.1" height="6.1" fill="#c8102e"/>
<path d="M321.20 284.98L324.00 290.30L318.40 290.30Z" fill="#134f8c"/>
<path d="M325.00 284.98L327.80 290.30L322.20 290.30Z" fill="#134f8c"/>
<path d="M322.70 290.17L325.50 295.49L319.90 295.49Z" fill="#134f8c"/>
<path d="M318.80 293.73L321.60 299.05L316.00 299.05Z" fill="#134f8c"/>
<path d="M325.50 293.73L328.30 299.05L322.70 299.05Z" fill="#134f8c"/>
<path d="M305.3 258.00V250.30M302.3 250.30H308.3" stroke="#4a4a4a" stroke-width="1" fill="none"/>
<path d="M321.4 293.50V290.30M318.9 290.30H323.9" stroke="#222" stroke-width="1" fill="none"/>
<text class="t" x="323.2" y="271.6" font-size="8.4" text-anchor="middle" font-weight="normal" fill="#111" >**</text>
<text class="r" x="0" y="0" font-size="9.54" text-anchor="middle" textLength="24.7" lengthAdjust="spacingAndGlyphs" transform="translate(272.4,260.2) rotate(-90)" fill="#111">% IFN&#947;<tspan font-size="6.49" dy="-3.43">+</tspan><tspan dy="3.43">​</tspan></text>
<rect x="381.9" y="267.00" width="9.20" height="34.40" fill="#e0899b"/>
<rect x="398.6" y="288.05" width="9.30" height="13.35" fill="#8aa8c6"/>
<path d="M372.7 214.8V301.4H414.3" stroke="#222" stroke-width="1.35" fill="none"/>
<path d="M369.5 301.40H372.7" stroke="#555" stroke-width="1.1"/>
<text x="366.60" y="304.41" font-size="8.6" text-anchor="end" font-weight="normal" fill="#1a1a1a" >0</text>
<path d="M369.5 280.86H372.7" stroke="#555" stroke-width="1.1"/>
<text x="366.60" y="283.87" font-size="8.6" text-anchor="end" font-weight="normal" fill="#1a1a1a" >2</text>
<path d="M369.5 260.32H372.7" stroke="#555" stroke-width="1.1"/>
<text x="366.60" y="263.33" font-size="8.6" text-anchor="end" font-weight="normal" fill="#1a1a1a" >4</text>
<path d="M369.5 239.78H372.7" stroke="#555" stroke-width="1.1"/>
<text x="366.60" y="242.79" font-size="8.6" text-anchor="end" font-weight="normal" fill="#1a1a1a" >6</text>
<path d="M369.5 219.24H372.7" stroke="#555" stroke-width="1.1"/>
<text x="366.60" y="222.25" font-size="8.6" text-anchor="end" font-weight="normal" fill="#1a1a1a" >8</text>
<path d="M386.4 301.4V304.4" stroke="#333" stroke-width="1"/>
<path d="M403.4 301.4V304.4" stroke="#333" stroke-width="1"/>
<rect x="383.65" y="236.73" width="6.1" height="6.1" fill="#c8102e"/>
<rect x="380.75" y="259.84" width="6.1" height="6.1" fill="#c8102e"/>
<rect x="386.05" y="263.43" width="6.1" height="6.1" fill="#c8102e"/>
<rect x="383.65" y="276.78" width="6.1" height="6.1" fill="#c8102e"/>
<path d="M403.20 271.51L406.00 276.83L400.40 276.83Z" fill="#134f8c"/>
<path d="M400.30 283.83L403.10 289.15L397.50 289.15Z" fill="#134f8c"/>
<path d="M406.80 280.75L409.60 286.07L404.00 286.07Z" fill="#134f8c"/>
<path d="M406.10 291.02L408.90 296.34L403.30 296.34Z" fill="#134f8c"/>
<path d="M400.30 296.67L403.10 301.99L397.50 301.99Z" fill="#134f8c"/>
<path d="M386.3 267.00V254.10M383.3 254.10H389.3" stroke="#4a4a4a" stroke-width="1" fill="none"/>
<path d="M403.4 288.00V282.80M400.9 282.80H405.9" stroke="#aaa" stroke-width="1" fill="none"/>
<text class="t" x="406.2" y="251.8" font-size="8.4" text-anchor="middle" font-weight="normal" fill="#111" >*</text>
<text class="r" x="0" y="0" font-size="9.12" text-anchor="middle" textLength="21.6" lengthAdjust="spacingAndGlyphs" transform="translate(356.7,261.8) rotate(-90)" fill="#111">% IL-17<tspan font-size="6.20" dy="-3.28">+</tspan><tspan dy="3.28">​</tspan></text>
<rect x="467.1" y="239.75" width="9.40" height="61.65" fill="#e0899b"/>
<rect x="484.1" y="268.52" width="9.20" height="32.88" fill="#8aa8c6"/>
<path d="M458.2 214.8V301.4H497.7" stroke="#222" stroke-width="1.35" fill="none"/>
<path d="M455.0 301.40H458.2" stroke="#555" stroke-width="1.1"/>
<text x="452.10" y="304.41" font-size="8.6" text-anchor="end" font-weight="normal" fill="#1a1a1a" >0</text>
<path d="M455.0 280.85H458.2" stroke="#555" stroke-width="1.1"/>
<text x="452.10" y="283.86" font-size="8.6" text-anchor="end" font-weight="normal" fill="#1a1a1a" >5</text>
<path d="M455.0 260.30H458.2" stroke="#555" stroke-width="1.1"/>
<text x="452.10" y="263.31" font-size="8.6" text-anchor="end" font-weight="normal" fill="#1a1a1a" >10</text>
<path d="M455.0 239.75H458.2" stroke="#555" stroke-width="1.1"/>
<text x="452.10" y="242.76" font-size="8.6" text-anchor="end" font-weight="normal" fill="#1a1a1a" >15</text>
<path d="M455.0 219.20H458.2" stroke="#555" stroke-width="1.1"/>
<text x="452.10" y="222.21" font-size="8.6" text-anchor="end" font-weight="normal" fill="#1a1a1a" >20</text>
<path d="M472.1 301.4V304.4" stroke="#333" stroke-width="1"/>
<path d="M488.5 301.4V304.4" stroke="#333" stroke-width="1"/>
<rect x="466.05" y="232.18" width="6.1" height="6.1" fill="#c8102e"/>
<rect x="471.65" y="232.18" width="6.1" height="6.1" fill="#c8102e"/>
<rect x="467.95" y="235.88" width="6.1" height="6.1" fill="#c8102e"/>
<rect x="469.25" y="249.03" width="6.1" height="6.1" fill="#c8102e"/>
<path d="M488.50 257.11L491.30 262.43L485.70 262.43Z" fill="#134f8c"/>
<path d="M485.60 262.04L488.40 267.36L482.80 267.36Z" fill="#134f8c"/>
<path d="M488.50 269.44L491.30 274.76L485.70 274.76Z" fill="#134f8c"/>
<path d="M488.50 278.48L491.30 283.80L485.70 283.80Z" fill="#134f8c"/>
<path d="M472.3 240.20V236.20M469.3 236.20H475.3" stroke="#222" stroke-width="1" fill="none"/>
<path d="M488.5 268.70V263.70M485.5 263.70H491.5" stroke="#4a4a4a" stroke-width="1" fill="none"/>
<text class="t" x="489.6" y="250.6" font-size="8.4" text-anchor="middle" font-weight="normal" fill="#111" >**</text>
<text class="r" x="0" y="0" font-size="9.33" text-anchor="middle" textLength="28.6" lengthAdjust="spacingAndGlyphs" transform="translate(438.6,260.6) rotate(-90)" fill="#111">% TNF&#945;<tspan font-size="6.34" dy="-3.36">+</tspan><tspan dy="3.36">​</tspan></text>
<rect x="300.6" y="390.80" width="8.80" height="9.60" fill="#e0899b"/>
<rect x="317.3" y="365.07" width="9.50" height="35.33" fill="#8aa8c6"/>
<path d="M291.5 314.2V400.4H332.5" stroke="#222" stroke-width="1.35" fill="none"/>
<path d="M288.3 400.40H291.5" stroke="#555" stroke-width="1.1"/>
<text x="285.40" y="403.41" font-size="8.6" text-anchor="end" font-weight="normal" fill="#1a1a1a" >0</text>
<path d="M288.3 372.96H291.5" stroke="#555" stroke-width="1.1"/>
<text x="285.40" y="375.97" font-size="8.6" text-anchor="end" font-weight="normal" fill="#1a1a1a" >4</text>
<path d="M288.3 345.52H291.5" stroke="#555" stroke-width="1.1"/>
<text x="285.40" y="348.53" font-size="8.6" text-anchor="end" font-weight="normal" fill="#1a1a1a" >8</text>
<path d="M288.3 318.08H291.5" stroke="#555" stroke-width="1.1"/>
<text x="285.40" y="321.09" font-size="8.6" text-anchor="end" font-weight="normal" fill="#1a1a1a" >12</text>
<path d="M305.1 400.4V403.4" stroke="#333" stroke-width="1"/>
<path d="M321.9 400.4V403.4" stroke="#333" stroke-width="1"/>
<rect x="305.45" y="379.81" width="5.5" height="5.5" fill="#c8102e"/>
<rect x="299.75" y="383.93" width="5.5" height="5.5" fill="#c8102e"/>
<rect x="304.95" y="389.76" width="5.5" height="5.5" fill="#c8102e"/>
<rect x="302.15" y="393.53" width="5.5" height="5.5" fill="#c8102e"/>
<path d="M322.20 324.15L325.00 329.47L319.40 329.47Z" fill="#134f8c"/>
<path d="M322.20 347.82L325.00 353.14L319.40 353.14Z" fill="#134f8c"/>
<path d="M322.20 369.08L325.00 374.40L319.40 374.40Z" fill="#134f8c"/>
<path d="M322.20 378.00L325.00 383.32L319.40 383.32Z" fill="#134f8c"/>
<path d="M322.20 389.66L325.00 394.98L319.40 394.98Z" fill="#134f8c"/>
<path d="M322 365.10V352.60M319.0 352.60H325.0" stroke="#4a4a4a" stroke-width="1" fill="none"/>
<path d="M305.1 391.50V386.80M302.6 386.80H307.6" stroke="#222" stroke-width="1" fill="none"/>
<text class="r" x="0" y="0" font-size="9.54" text-anchor="middle" textLength="60" lengthAdjust="spacingAndGlyphs" transform="translate(272.9,358.8) rotate(-90)" fill="#111"># IFN&#947;<tspan font-size="6.49" dy="-3.43">+</tspan><tspan dy="3.43">​</tspan>CD4<tspan font-size="6.49" dy="-3.43">+</tspan><tspan dy="3.43">​</tspan> (×10<tspan font-size="6.49" dy="-3.43">5</tspan><tspan dy="3.43">​</tspan>)</text>
<rect x="384.4" y="396.30" width="8.80" height="4.20" fill="#e0899b"/>
<rect x="401" y="368.86" width="9.70" height="31.64" fill="#8aa8c6"/>
<path d="M374.5 314V400.5H415" stroke="#222" stroke-width="1.35" fill="none"/>
<path d="M371.3 400.50H374.5" stroke="#555" stroke-width="1.1"/>
<text x="368.40" y="403.51" font-size="8.6" text-anchor="end" font-weight="normal" fill="#1a1a1a" >0</text>
<path d="M371.3 372.50H374.5" stroke="#555" stroke-width="1.1"/>
<text x="368.40" y="375.51" font-size="8.6" text-anchor="end" font-weight="normal" fill="#1a1a1a" >1</text>
<path d="M371.3 344.50H374.5" stroke="#555" stroke-width="1.1"/>
<text x="368.40" y="347.51" font-size="8.6" text-anchor="end" font-weight="normal" fill="#1a1a1a" >2</text>
<path d="M371.3 316.50H374.5" stroke="#555" stroke-width="1.1"/>
<text x="368.40" y="319.51" font-size="8.6" text-anchor="end" font-weight="normal" fill="#1a1a1a" >3</text>
<path d="M388.3 400.5V403.5" stroke="#333" stroke-width="1"/>
<path d="M405.6 400.5V403.5" stroke="#333" stroke-width="1"/>
<rect x="382.75" y="396.05" width="6.1" height="6.1" fill="#c8102e"/>
<rect x="385.25" y="392.41" width="6.1" height="6.1" fill="#c8102e"/>
<rect x="389.05" y="393.25" width="6.1" height="6.1" fill="#c8102e"/>
<path d="M405.60 339.35L408.40 344.67L402.80 344.67Z" fill="#134f8c"/>
<path d="M405.60 346.91L408.40 352.23L402.80 352.23Z" fill="#134f8c"/>
<path d="M405.60 355.31L408.40 360.63L402.80 360.63Z" fill="#134f8c"/>
<path d="M403.10 393.11L405.90 398.43L400.30 398.43Z" fill="#134f8c"/>
<path d="M408.70 393.11L411.50 398.43L405.90 398.43Z" fill="#134f8c"/>
<path d="M405.8 368.70V356.50M402.8 356.50H408.8" stroke="#4a4a4a" stroke-width="1" fill="none"/>
<path d="M388.3 396.6H392.6" stroke="#222" stroke-width="0.9"/>
<text class="r" x="0" y="0" font-size="8.9" text-anchor="middle" textLength="60" lengthAdjust="spacingAndGlyphs" transform="translate(358.4,358.8) rotate(-90)" fill="#111"># IL-17<tspan font-size="6.05" dy="-3.20">+</tspan><tspan dy="3.20">​</tspan>CD4<tspan font-size="6.05" dy="-3.20">+</tspan><tspan dy="3.20">​</tspan> (×10<tspan font-size="6.05" dy="-3.20">5</tspan><tspan dy="3.20">​</tspan>)</text>
<rect x="467.6" y="394.44" width="9.00" height="6.06" fill="#e0899b"/>
<rect x="484.4" y="357.43" width="8.90" height="43.07" fill="#8aa8c6"/>
<path d="M458.5 316.5V400.5H499.6" stroke="#222" stroke-width="1.35" fill="none"/>
<path d="M455.3 400.50H458.5" stroke="#555" stroke-width="1.1"/>
<text x="452.40" y="403.51" font-size="8.6" text-anchor="end" font-weight="normal" fill="#1a1a1a" >0</text>
<path d="M455.3 373.58H458.5" stroke="#555" stroke-width="1.1"/>
<text x="452.40" y="376.59" font-size="8.6" text-anchor="end" font-weight="normal" fill="#1a1a1a" >4</text>
<path d="M455.3 346.66H458.5" stroke="#555" stroke-width="1.1"/>
<text x="452.40" y="349.67" font-size="8.6" text-anchor="end" font-weight="normal" fill="#1a1a1a" >8</text>
<path d="M455.3 319.74H458.5" stroke="#555" stroke-width="1.1"/>
<text x="452.40" y="322.75" font-size="8.6" text-anchor="end" font-weight="normal" fill="#1a1a1a" >12</text>
<path d="M472.1 400.5V403.5" stroke="#333" stroke-width="1"/>
<path d="M488.7 400.5V403.5" stroke="#333" stroke-width="1"/>
<rect x="466.55" y="395.77" width="6.1" height="6.1" fill="#c8102e"/>
<rect x="470.35" y="391.73" width="6.1" height="6.1" fill="#c8102e"/>
<rect x="468.55" y="392.40" width="6.1" height="6.1" fill="#c8102e"/>
<path d="M488.70 326.64L491.50 331.96L485.90 331.96Z" fill="#134f8c"/>
<path d="M488.70 336.06L491.50 341.38L485.90 341.38Z" fill="#134f8c"/>
<path d="M488.70 350.20L491.50 355.52L485.90 355.52Z" fill="#134f8c"/>
<path d="M488.70 371.06L491.50 376.38L485.90 376.38Z" fill="#134f8c"/>
<path d="M488.70 388.56L491.50 393.88L485.90 393.88Z" fill="#134f8c"/>
<path d="M488.9 357.20V345.30M485.9 345.30H491.9" stroke="#4a4a4a" stroke-width="1" fill="none"/>
<path d="M472.1 397.50V395.20M469.35 395.20H474.85" stroke="#111" stroke-width="1" fill="none"/>
<text class="t" x="492.5" y="322.3" font-size="8.4" text-anchor="middle" font-weight="normal" fill="#111" >*</text>
<text class="r" x="0" y="0" font-size="9.54" text-anchor="middle" textLength="62.8" lengthAdjust="spacingAndGlyphs" transform="translate(442.6,359.3) rotate(-90)" fill="#111"># TNF&#945;<tspan font-size="6.49" dy="-3.43">+</tspan><tspan dy="3.43">​</tspan>CD4<tspan font-size="6.49" dy="-3.43">+</tspan><tspan dy="3.43">​</tspan> (×10<tspan font-size="6.49" dy="-3.43">5</tspan><tspan dy="3.43">​</tspan>)</text>
</svg>
</body></html>
